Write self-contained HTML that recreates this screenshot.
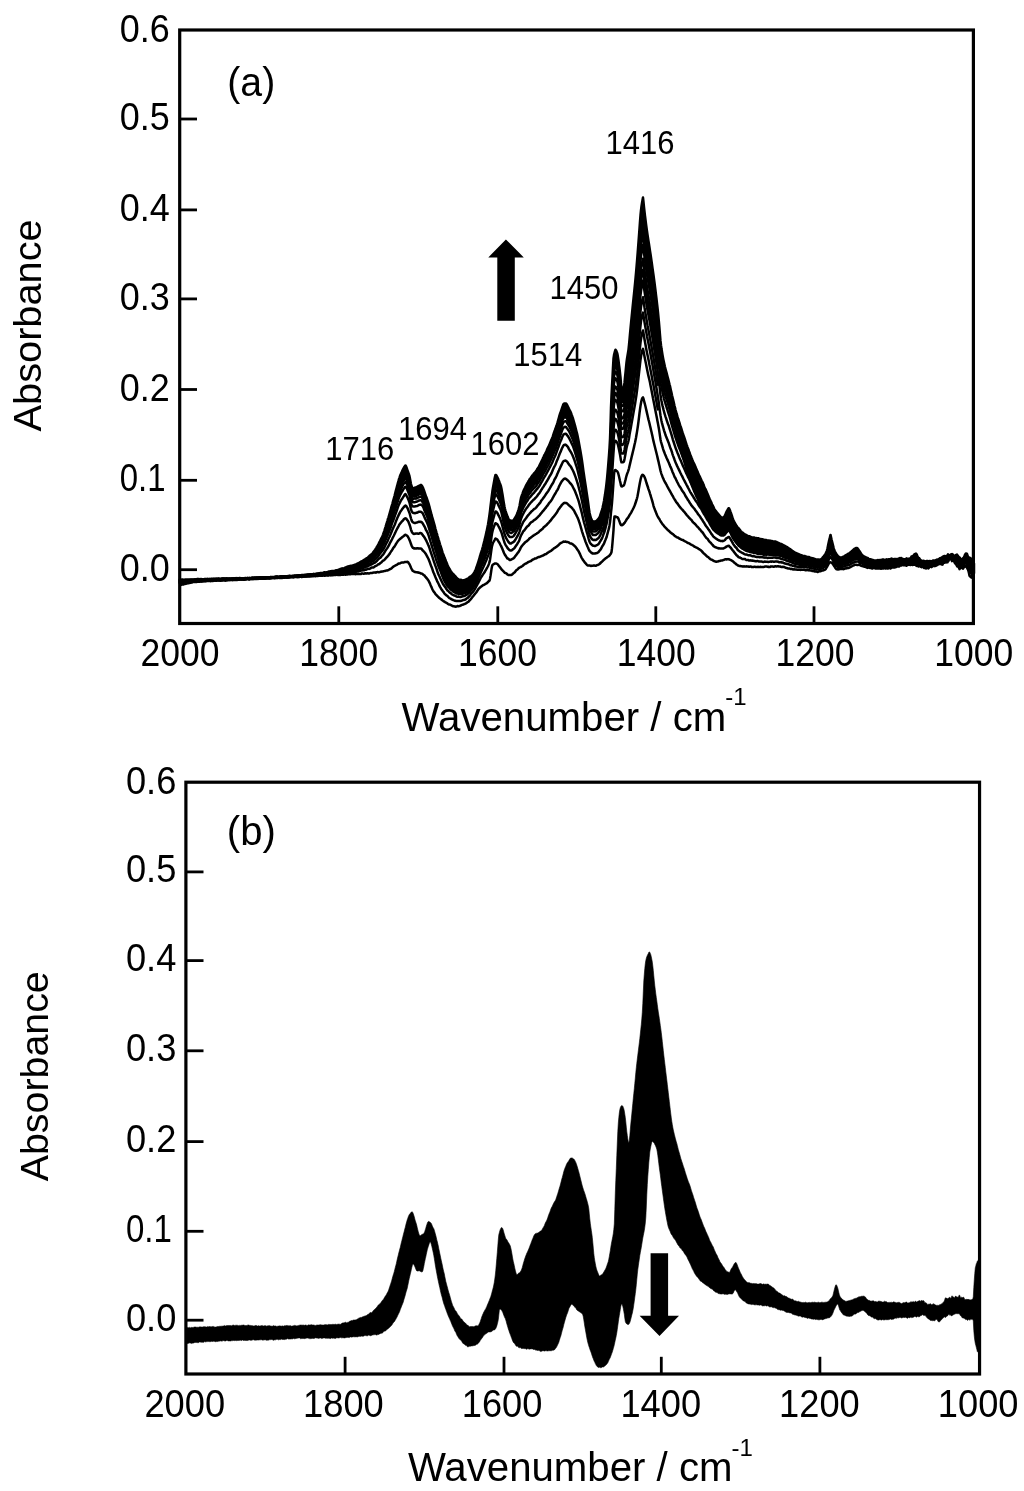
<!DOCTYPE html>
<html><head><meta charset="utf-8"><title>Absorbance spectra</title>
<style>
html,body{margin:0;padding:0;background:#fff;}
svg{display:block;}
text{font-family:"Liberation Sans",Arial,Helvetica,sans-serif;fill:#000;}
</style></head><body>
<svg width="1024" height="1491" viewBox="0 0 1024 1491">
<rect x="0" y="0" width="1024" height="1491" fill="#fff"/>

<g id="panel-a">
<g fill="none" stroke="#000" stroke-width="2.5" stroke-linejoin="round">
<path d="M179.5,579.8l0.5 0 0.5-0.2 0.5 0.2 0.5-0.1 0.5-0.2 0.5 0 0.5 0 0.5 0.4 0.5 0 0.5 0.1 0.5-0.4 0.5-0.1 0.5 0 0.5-0.1 0.5 0.1 0.5 0.1 0.5 0.1 0.5-0.1 0.5 0 0.5 0 0.5 0.1 0.5-0.1 0.5-0.1 0.5 0 0.5 0.1 0.5 0 0.5-0.1 0.5-0.1 0.5 0 0.5 0 0.5-0.1 0.5 0.1 0.5 0.1 0.5-0.1 0.5-0.3 0.5 0.1 0.5-0.2 0.5 0.1 0.5 0 0.5 0.1 0.5 0.1 0.5-0.2 0.5 0 0.5 0 0.5 0.2 0.5 0 0.5 0 0.5 0 0.5-0.1 0.5-0.1 0.5 0 0.5 0 0.5 0.1 0.5-0.2 0.5 0 0.5-0.2 0.5 0.1 0.5 0 0.5 0.1 0.5-0.1 0.5-0.1 0.5 0.2 0.5-0.2 0.5 0 0.5-0.1 0.5 0.3 0.5-0.1 0.5-0.1 0.5-0.1 0.5 0.1 0.5 0.2 0.5-0.2 0.5 0.1 0.5-0.2 0.5 0.2 0.5-0.1 0.5 0.1 0.5-0.3 0.5 0.1 0.5 0.1 0.5 0.2 0.5 0 0.5-0.1 0.5-0.1 0.5-0.2 0.5-0.1 0.5 0.2 0.5-0.1 0.5 0 0.5-0.2 0.5 0.2 0.5 0.1 0.5-0.1 0.5-0.2 0.5-0.1 0.5 0.2 0.5 0.2 0.5 0 0.5-0.1 0.5-0.1 0.5 0 0.5 0.1 0.5-0.1 0.5 0 0.5-0.1 0.5 0.1 0.5 0 0.5 0.2 0.5 0.1 0.5 0.1 0.5-0.4 0.5-0.2 0.5-0.2 0.5 0.2 0.5-0.2 0.5 0.2 0.5 0 0.5 0.1 0.5-0.2 0.5-0.2 0.5 0.1 0.5 0.1 0.5 0.2 0.5 0 0.5 0 0.5-0.2 0.5 0.2 0.5 0 0.5 0 0.5-0.2 0.5-0.1 0.5-0.2 0.5 0.2 0.5 0.1 0.5 0 0.5-0.2 0.5 0 0.5-0.1 0.5 0 0.5-0.1 0.5 0.3 0.5 0 0.5-0.1 0.5-0.3 0.5-0.1 0.5 0.1 0.5 0.1 0.5 0.1 0.5 0 0.5-0.1 0.5 0 0.5-0.2 0.5-0.1 0.5 0 0.5 0.1 0.5 0 0.5-0.1 0.5 0 0.5 0.1 0.5 0 0.5 0 0.5 0 0.5 0 0.5 0.2 0.5-0.3 0.5 0 0.5-0.2 0.5 0.2 0.5-0.1 0.5 0.1 0.5 0.1 0.5-0.1 0.5 0 0.5-0.1 0.5 0 0.5-0.1 0.5-0.1 0.5 0.2 0.5 0 0.5 0.2 0.5-0.2 0.5-0.2 0.5-0.1 0.5 0 0.5 0 0.5 0 0.5-0.1 0.5 0.1 0.5-0.1 0.5 0.1 0.5-0.2 0.5-0.1 0.5-0.2 0.5 0 0.5 0 0.5 0.2 0.5 0 0.5 0.1 0.5 0 0.5 0 0.5-0.1 0.5-0.2 0.5-0.2 0.5 0 0.5-0.1 0.5 0.2 0.5-0.1 0.5 0.2 0.5-0.1 0.5-0.1 0.5-0.1 0.5-0.1 0.5 0 0.5 0 0.5 0 0.5 0 0.5-0.1 0.5-0.1 0.5-0.2 0.5 0.1 0.5-0.2 0.5 0.3 0.5 0.1 0.5-0.1 0.5-0.1 0.5-0.2 0.5 0 0.5 0 0.5 0 0.5-0.1 0.5-0.1 0.5 0 0.5 0.1 0.5-0.1 0.5 0 0.5 0 0.5 0 0.5-0.1 0.5-0.2 0.5 0.1 0.5 0.1 0.5 0 0.5-0.1 0.5-0.2 0.5-0.1 0.5 0.2 0.5 0 0.5 0 0.5-0.2 0.5 0 0.5 0.1 0.5-0.1 0.5 0 0.5-0.2 0.5 0 0.5-0.2 0.5 0.1 0.5-0.1 0.5 0 0.5-0.2 0.5-0.1 0.5-0.1 0.5 0.2 0.5 0 0.5 0 0.5-0.1 0.5-0.1 0.5-0.1 0.5 0 0.5-0.1 0.5-0.1 0.5 0 0.5 0 0.5-0.2 0.5-0.1 0.5 0.1 0.5-0.1 0.5-0.1 0.5-0.2 0.5 0 0.5-0.2 0.5 0 0.5-0.1 0.5 0 0.5 0 0.5-0.1 0.5 0 0.5-0.2 0.5-0.3 0.5-0.1 0.5 0.1 0.5 0 0.5 0.1 0.5-0.2 0.5 0 0.5-0.2 0.5-0.3 0.5-0.2 0.5 0 0.5 0 0.5-0.2 0.5-0.1 0.5 0 0.5-0.1 0.5-0.2 0.5 0 0.5 0 0.5 0.1 0.5-0.1 0.5 0 0.5-0.3 0.5-0.3 0.5-0.1 0.5 0 0.5 0 0.5-0.1 0.5-0.2 0.5-0.1 0.5-0.3 0.5-0.1 0.5-0.3 0.5-0.3 0.5-0.1 0.5-0.2 0.5-0.1 0.5-0.1 0.5-0.1 0.5 0.2 0.5-0.2 0.5-0.2 0.5-0.4 0.5-0.2 0.5-0.2 0.5-0.1 0.5-0.3 0.5-0.3 0.5-0.2 0.5-0.1 0.5 0.2 0.5-0.3 0.5-0.2 0.5-0.1 0.5-0.2 0.5 0 0.5-0.1 0.5-0.1 0.5-0.2 0.5-0.2 0.5-0.1 0.5-0.2 0.5-0.2 0.5-0.2 0.5 0.1 0.5-0.3 0.5-0.3 0.5-0.4 0.5-0.2 0.5-0.2 0.5-0.2 0.5-0.2 0.5-0.3 0.5-0.3 0.5-0.5 0.5-0.3 0.5-0.2 0.5-0.1 0.5-0.3 0.5-0.6 0.5-0.2 0.5-0.2 0.5-0.4 0.5-0.3 0.5-0.4 0.5-0.2 0.5-0.4 0.5-0.3 0.5-0.4 0.5-0.4 0.5-0.6 0.5-0.5 0.5-0.4 0.5-0.4 0.5-0.3 0.5-0.5 0.5-0.4 0.5-0.5 0.5-0.6 0.5-0.9 0.5-0.6 0.5-0.6 0.5-0.6 0.5-0.7 0.5-0.9 0.5-0.8 0.5-1 0.5-0.7 0.5-0.9 0.5-0.9 0.5-1.1 0.5-1.1 0.5-0.8 0.5-0.9 0.5-1.1 0.5-1.1 0.5-1 0.5-1.1 0.5-1.3 0.5-1.4 0.5-1.4 0.5-1.5 0.5-1.7 0.5-1.5 0.5-1.7 0.5-1.4 0.5-1.9 0.5-1.6 0.5-1.8 0.5-1.4 0.5-1.7 0.5-1.8 0.5-1.6 0.5-1.9 0.5-1.8 0.5-1.8 0.5-1.7 0.5-1.7 0.5-1.9 0.5-1.9 0.5-1.7 0.5-1.8 0.5-2 0.5-2 0.5-1.9 0.5-1.9 0.5-1.9 0.5-1.8 0.5-1.9 0.5-1.7 0.5-1.9 0.5-1.4 0.5-1.6 0.5-1.2 0.5-1.1 0.5-1.1 0.5-1.1 0.5-1.2 0.5-1 0.5-0.9 0.5-0.9 0.5-0.8 0.5-0.7 0.5-0.5 0.5 0.7 0.5 1.2 0.5 1.4 0.5 1.5 0.5 1.4 0.5 1.4 0.5 1.4 0.5 1.7 0.5 2.5 0.5 2.7 0.5 2.6 0.5 2 0.5 1.2 0.5 0.8 0.5 0.4 0.5 0.1 0.5-0.2 0.5-0.5 0.5-0.1 0.5-0.2 0.5-0.1 0.5-0.2 0.5-0.4 0.5-0.2 0.5-0.3 0.5-0.3 0.5-0.2 0.5-0.2 0.5-0.2 0.5-0.4 0.5-0.1 0.5 0.3 0.5 0.7 0.5 0.9 0.5 1 0.5 1.3 0.5 1.4 0.5 1.4 0.5 1.5 0.5 1.4 0.5 1.4 0.5 1.2 0.5 1.4 0.5 1.5 0.5 1.5 0.5 1.6 0.5 1.7 0.5 2.1 0.5 1.8 0.5 1.9 0.5 1.8 0.5 2 0.5 1.8 0.5 1.7 0.5 1.7 0.5 1.7 0.5 1.8 0.5 1.8 0.5 1.9 0.5 2 0.5 1.7 0.5 1.8 0.5 1.6 0.5 1.8 0.5 1.6 0.5 1.7 0.5 1.5 0.5 1.8 0.5 1.7 0.5 1.5 0.5 1.5 0.5 1.6 0.5 1.7 0.5 1.7 0.5 1.4 0.5 1.4 0.5 1.2 0.5 1.3 0.5 1.2 0.5 1.3 0.5 1.2 0.5 1.1 0.5 1.3 0.5 1.3 0.5 1.1 0.5 1 0.5 0.9 0.5 1.1 0.5 0.7 0.5 0.9 0.5 0.7 0.5 0.9 0.5 0.4 0.5 0.6 0.5 0.5 0.5 0.7 0.5 0.5 0.5 0.6 0.5 0.4 0.5 0.5 0.5 0.6 0.5 0.6 0.5 0.6 0.5 0.4 0.5 0.2 0.5 0.4 0.5 0.3 0.5 0.4 0.5 0 0.5-0.2 0.5-0.1 0.5 0.4 0.5 0.2 0.5 0.1 0.5-0.1 0.5-0.1 0.5-0.1 0.5-0.1 0.5-0.1 0.5-0.1 0.5-0.4 0.5-0.2 0.5-0.3 0.5-0.1 0.5-0.1 0.5-0.4 0.5-0.6 0.5-0.6 0.5-0.3 0.5-0.1 0.5-0.2 0.5-0.5 0.5-0.6 0.5-0.4 0.5-0.6 0.5-0.6 0.5-0.9 0.5-0.8 0.5-1.1 0.5-1.1 0.5-1.2 0.5-1.5 0.5-1.4 0.5-1.5 0.5-1.5 0.5-1.5 0.5-1.6 0.5-1.7 0.5-1.8 0.5-1.7 0.5-1.5 0.5-1.7 0.5-1.5 0.5-1.8 0.5-1.7 0.5-2.1 0.5-1.9 0.5-1.9 0.5-2.1 0.5-2.1 0.5-2.2 0.5-2.1 0.5-2.5 0.5-2.5 0.5-2.5 0.5-2.9 0.5-3.2 0.5-3.7 0.5-3.8 0.5-4.3 0.5-4.2 0.5-4.2 0.5-3.8 0.5-3.8 0.5-3 0.5-2.8 0.5-2.8 0.5-2.8 0.5-2.3 0.5-1.9 0.5 0.1 0.5 0.6 0.5 0.9 0.5 1 0.5 1 0.5 1.3 0.5 1.1 0.5 1.5 0.5 1.2 0.5 1.4 0.5 1.5 0.5 2.3 0.5 2.8 0.5 2.9 0.5 3.3 0.5 3.1 0.5 3 0.5 2.8 0.5 2.4 0.5 1.7 0.5 1.5 0.5 1.5 0.5 1.4 0.5 1.4 0.5 1.2 0.5 1.2 0.5 0.6 0.5 0.5 0.5 0.2 0.5 0.3 0.5 0 0.5 0.1 0.5 0 0.5 0.1 0.5-0.2 0.5-0.5 0.5-0.7 0.5-0.8 0.5-0.7 0.5-0.9 0.5-0.9 0.5-1 0.5-1.1 0.5-1.2 0.5-1.5 0.5-1.4 0.5-1.7 0.5-2.2 0.5-2.7 0.5-2.9 0.5-2.5 0.5-1.6 0.5-1.4 0.5-1.3 0.5-1.4 0.5-1.4 0.5-1.1 0.5-1 0.5-0.9 0.5-1.1 0.5-1.1 0.5-0.9 0.5-0.9 0.5-0.8 0.5-0.9 0.5-1 0.5-0.8 0.5-0.9 0.5-0.6 0.5-0.6 0.5-0.6 0.5-0.9 0.5-0.7 0.5-0.7 0.5-0.4 0.5-0.6 0.5-0.8 0.5-0.6 0.5-0.4 0.5-0.5 0.5-0.9 0.5-0.6 0.5-1 0.5-0.7 0.5-0.8 0.5-0.6 0.5-0.9 0.5-1.2 0.5-0.9 0.5-1.1 0.5-0.9 0.5-1.1 0.5-1.1 0.5-1 0.5-1.2 0.5-1 0.5-1.1 0.5-1 0.5-0.9 0.5-1 0.5-1 0.5-1.1 0.5-1.2 0.5-1.1 0.5-0.9 0.5-1.1 0.5-1 0.5-1.2 0.5-1.2 0.5-1.2 0.5-1.2 0.5-1.2 0.5-1.2 0.5-1.3 0.5-1.4 0.5-1.6 0.5-1.3 0.5-1.6 0.5-1.3 0.5-1.5 0.5-1.3 0.5-1.3 0.5-1.5 0.5-1.6 0.5-1.8 0.5-1.8 0.5-1.8 0.5-1.9 0.5-1.6 0.5-1.3 0.5-1.2 0.5-1.6 0.5-1.5 0.5-1.5 0.5-1.4 0.5-1.2 0.5-0.5 0.5-0.2 0.5 0.1 0.5-0.1 0.5 0.1 0.5 0.4 0.5 0.9 0.5 0.9 0.5 1 0.5 1 0.5 1.1 0.5 1 0.5 0.9 0.5 1 0.5 1.3 0.5 1.5 0.5 1.3 0.5 1.3 0.5 1.4 0.5 1.8 0.5 1.7 0.5 1.8 0.5 1.8 0.5 2 0.5 2 0.5 1.9 0.5 1.9 0.5 2.2 0.5 2.3 0.5 2.7 0.5 2.6 0.5 2.8 0.5 2.7 0.5 2.7 0.5 3 0.5 3 0.5 3.4 0.5 3.5 0.5 3.7 0.5 3.6 0.5 3.4 0.5 3.4 0.5 3.2 0.5 3.4 0.5 3.2 0.5 3.4 0.5 3.3 0.5 3.4 0.5 3.3 0.5 3.9 0.5 3.6 0.5 3.3 0.5 2.5 0.5 1.6 0.5 1.7 0.5 1.2 0.5 1 0.5 0.7 0.5 0.4 0.5 0.3 0.5-0.1 0.5-0.2 0.5 0 0.5-0.3 0.5 0 0.5-0.3 0.5-0.4 0.5-0.7 0.5-0.6 0.5-0.6 0.5-0.7 0.5-0.9 0.5-1.1 0.5-1.4 0.5-1.5 0.5-1.5 0.5-1.6 0.5-1.9 0.5-2.1 0.5-2.5 0.5-2.5 0.5-3.1 0.5-3 0.5-3.6 0.5-3.6 0.5-4.2 0.5-4.6 0.5-5.4 0.5-5.9 0.5-6.1 0.5-6.2 0.5-7.2 0.5-9 0.5-13.6 0.5-18.1 0.5-11.5 0.5-9.7 0.5-9.1 0.5-10 0.5-8.5 0.5-3.4 0.5-2.1 0.5-1.9 0.5-1.4 0.5 0.7 0.5 1 0.5 1.3 0.5 1.7 0.5 3 0.5 3.4 0.5 3.9 0.5 3.8 0.5 4.3 0.5 4.6 0.5 6.7 0.5 3.4 0.5 0.4 0.5 0 0.5-0.2 0.5-0.1 0.5-1.1 0.5-3.8 0.5-5.3 0.5-4.7 0.5-5.3 0.5-5 0.5-3.8 0.5-2.8 0.5-3 0.5-3.2 0.5-4.6 0.5-5.5 0.5-5.7 0.5-5.1 0.5-5.3 0.5-5 0.5-5.1 0.5-4.9 0.5-4.9 0.5-5 0.5-4.7 0.5-4.9 0.5-5 0.5-5.3 0.5-5.4 0.5-5.8 0.5-6.1 0.5-6.3 0.5-6.3 0.5-6.6 0.5-6.7 0.5-6.7 0.5-7 0.5-6.4 0.5-5.1 0.5-4.1 0.5-3.1 0.5-2.8 0.5-2.6 0.5 4.5 0.5 5.1 0.5 4.5 0.5 4.2 0.5 4 0.5 3.9 0.5 3.8 0.5 3.5 0.5 3.5 0.5 3.4 0.5 3.1 0.5 3.2 0.5 3.1 0.5 3.5 0.5 3.1 0.5 3.5 0.5 3.4 0.5 3.6 0.5 3.6 0.5 3.6 0.5 3.5 0.5 3.7 0.5 3.8 0.5 4 0.5 4 0.5 4.1 0.5 4.2 0.5 4.3 0.5 4.4 0.5 4.8 0.5 5 0.5 5.3 0.5 6 0.5 6.4 0.5 5.7 0.5 4.3 0.5 3.6 0.5 3 0.5 3.1 0.5 2.8 0.5 2.5 0.5 2.4 0.5 2.2 0.5 2.3 0.5 1.9 0.5 1.9 0.5 1.8 0.5 1.9 0.5 1.9 0.5 1.8 0.5 2 0.5 1.9 0.5 2.1 0.5 1.8 0.5 2.3 0.5 2.3 0.5 2.2 0.5 2.3 0.5 2 0.5 2.1 0.5 2 0.5 2.3 0.5 2.1 0.5 1.9 0.5 2.2 0.5 1.7 0.5 2 0.5 1.5 0.5 1.9 0.5 1.6 0.5 1.3 0.5 1.5 0.5 1.6 0.5 1.8 0.5 1.5 0.5 1.3 0.5 1.7 0.5 1.6 0.5 1.6 0.5 1.4 0.5 1.5 0.5 1.4 0.5 1.5 0.5 1.5 0.5 1.6 0.5 1.6 0.5 1.5 0.5 1.3 0.5 1.4 0.5 1.3 0.5 1.3 0.5 1.5 0.5 1.3 0.5 1.5 0.5 1.3 0.5 1.2 0.5 1.3 0.5 1.2 0.5 1.3 0.5 1.2 0.5 1 0.5 1 0.5 1.1 0.5 1.1 0.5 1.4 0.5 1.1 0.5 1.1 0.5 1.1 0.5 1.2 0.5 1.2 0.5 1.1 0.5 1.1 0.5 1 0.5 1.1 0.5 1.1 0.5 1.1 0.5 1.2 0.5 0.9 0.5 1 0.5 1 0.5 1.1 0.5 1.4 0.5 1.3 0.5 1.1 0.5 0.8 0.5 1.1 0.5 1.2 0.5 1.2 0.5 1.1 0.5 1.2 0.5 1.4 0.5 1.1 0.5 1.2 0.5 1.1 0.5 1.1 0.5 1.1 0.5 1 0.5 1.3 0.5 1 0.5 0.9 0.5 1 0.5 1.1 0.5 1.1 0.5 0.8 0.5 0.6 0.5 0.5 0.5 0.6 0.5 0.8 0.5 0.5 0.5 0.6 0.5 0.6 0.5 0.6 0.5 0.6 0.5 0.6 0.5 0.6 0.5 0.5 0.5 0.2 0.5 0.3 0.5 0 0.5-0.1 0.5-0.1 0.5-0.5 0.5-0.6 0.5-1 0.5-1.2 0.5-1.1 0.5-1.3 0.5-0.9 0.5-0.9 0.5-0.9 0.5-0.8 0.5-0.1 0.5 1 0.5 1.3 0.5 1.4 0.5 1.3 0.5 1.4 0.5 1.6 0.5 1.6 0.5 1.5 0.5 1.1 0.5 1.1 0.5 0.8 0.5 0.9 0.5 1 0.5 0.8 0.5 0.8 0.5 0.7 0.5 0.8 0.5 0.5 0.5 0.4 0.5 0.5 0.5 0.6 0.5 0.8 0.5 0.7 0.5 0.5 0.5 0.6 0.5 0.3 0.5 0.3 0.5 0.4 0.5 0.5 0.5 0.6 0.5 0.2 0.5 0.2 0.5 0.2 0.5 0.4 0.5 0.2 0.5 0.3 0.5 0.2 0.5 0.3 0.5 0.3 0.5 0.1 0.5-0.1 0.5 0.1 0.5 0.4 0.5 0.4 0.5 0.1 0.5 0.1 0.5 0 0.5 0 0.5 0 0.5 0.1 0.5 0.2 0.5 0.3 0.5 0 0.5 0.1 0.5 0 0.5 0.2 0.5 0 0.5-0.1 0.5 0.1 0.5 0.3 0.5 0.3 0.5 0.2 0.5-0.1 0.5 0.1 0.5 0.1 0.5 0.1 0.5 0 0.5 0.1 0.5 0.3 0.5 0.1 0.5 0.1 0.5 0.2 0.5 0 0.5 0 0.5 0 0.5 0.2 0.5 0.2 0.5 0 0.5 0 0.5 0.1 0.5 0.1 0.5 0.2 0.5-0.1 0.5 0.1 0.5 0 0.5 0.1 0.5 0.3 0.5 0.1 0.5 0.1 0.5 0 0.5 0.1 0.5 0 0.5 0 0.5 0.1 0.5 0.3 0.5 0.2 0.5 0.3 0.5 0.2 0.5 0.3 0.5 0.2 0.5 0.2 0.5 0.2 0.5 0.2 0.5 0.2 0.5 0.1 0.5 0.3 0.5 0.3 0.5 0.3 0.5 0.2 0.5 0.3 0.5 0.2 0.5 0.3 0.5 0.2 0.5 0.4 0.5 0.1 0.5 0.3 0.5 0.4 0.5 0.5 0.5 0.3 0.5 0.3 0.5 0.2 0.5 0.3 0.5 0.3 0.5 0.5 0.5 0.5 0.5 0.3 0.5 0.5 0.5 0.1 0.5 0.4 0.5 0.2 0.5 0.6 0.5 0.3 0.5 0.1 0.5 0.2 0.5 0.3 0.5 0.3 0.5 0 0.5 0.2 0.5 0.3 0.5 0.3 0.5 0.1 0.5 0.4 0.5 0.1 0.5 0.2 0.5 0 0.5 0.2 0.5 0.4 0.5 0.2 0.5 0.1 0.5-0.1 0.5 0 0.5 0.1 0.5 0.2 0.5 0.2 0.5 0.3 0.5 0 0.5 0.2 0.5 0.1 0.5 0 0.5 0 0.5 0.1 0.5 0.4 0.5 0.2 0.5 0.1 0.5 0.1 0.5 0.2 0.5 0 0.5 0.1 0.5 0.2 0.5 0.2 0.5 0.3 0.5 0.1 0.5 0.3 0.5 0.1 0.5 0 0.5-0.1 0.5 0.1 0.5 0.1 0.5 0 0.5 0.1 0.5 0 0.5-0.1 0.5-0.1 0.5-0.1 0.5-0.6 0.5-0.5 0.5-0.6 0.5-0.5 0.5-0.6 0.5-0.7 0.5-0.6 0.5-0.7 0.5-0.8 0.5-0.9 0.5-1.1 0.5-1.5 0.5-2 0.5-2.5 0.5-2.6 0.5-2.3 0.5-1.7 0.5-2.2 0.5-2.1 0.5 2.2 0.5 2.2 0.5 1.9 0.5 2 0.5 2 0.5 2.1 0.5 1.8 0.5 1.4 0.5 1.1 0.5 0.9 0.5 1 0.5 0.7 0.5 0.7 0.5 0.7 0.5 0.7 0.5 0.3 0.5 0.3 0.5 0.3 0.5 0.2 0.5 0.1 0.5 0.1 0.5-0.1 0.5-0.1 0.5-0.4 0.5-0.3 0.5 0 0.5-0.2 0.5-0.3 0.5-0.5 0.5-0.3 0.5-0.2 0.5-0.3 0.5-0.3 0.5-0.4 0.5-0.2 0.5-0.4 0.5-0.2 0.5-0.3 0.5-0.4 0.5-0.4 0.5-0.5 0.5-0.4 0.5-0.5 0.5-0.2 0.5-0.5 0.5-0.5 0.5-0.5 0.5-0.4 0.5-0.3 0.5-0.3 0.5-0.1 0.5-0.2 0.5 0.1 0.5 0.3 0.5 0.7 0.5 0.6 0.5 0.9 0.5 0.6 0.5 0.8 0.5 0.8 0.5 0.9 0.5 0.6 0.5 0.7 0.5 0.4 0.5 0.5 0.5 0.4 0.5 0.2 0.5 0.3 0.5 0.2 0.5 0.3 0.5 0.2 0.5 0.3 0.5 0.1 0.5 0.2 0.5 0.2 0.5 0.5 0.5 0.3 0.5 0.3 0.5 0 0.5 0 0.5 0.1 0.5 0 0.5 0.4 0.5 0.1 0.5 0.2 0.5 0.1 0.5 0.3 0.5 0.1 0.5 0.1 0.5-0.1 0.5 0 0.5-0.1 0.5 0 0.5-0.4 0.5 0.2 0.5-0.2 0.5 0.2 0.5-0.2 0.5 0.1 0.5-0.1 0.5-0.1 0.5-0.2 0.5 0 0.5-0.3 0.5-0.1 0.5 0.1 0.5 0.3 0.5 0.1 0.5 0 0.5-0.1 0.5-0.2 0.5-0.3 0.5 0.2 0.5 0.1 0.5 0 0.5-0.4 0.5 0 0.5 0 0.5 0 0.5-0.1 0.5-0.3 0.5-0.2 0.5 0.1 0.5 0.3 0.5 0.4 0.5-0.1 0.5-0.3 0.5-0.1 0.5 0.1 0.5-0.1 0.5 0 0.5 0 0.5 0.7 0.5-0.4 0.5-0.4 0.5-0.2 0.5-0.2 0.5 0.1 0.5-0.4 0.5 0.2 0.5-0.3 0.5 0.2 0.5 0.5 0.5 0.5 0.5 0.2 0.5-0.3 0.5 0.2 0.5 0 0.5 0.4 0.5-0.8 0.5 0 0.5-0.5 0.5 0.4 0.5 0 0.5 0 0.5-0.1 0.5 0.1 0.5 0.3 0.5-0.2 0.5-0.8 0.5-0.7 0.5-0.9 0.5-0.2 0.5 0 0.5-0.1 0.5-0.5 0.5-1 0.5-0.4 0.5-0.3 0.5-0.1 0.5-0.3 0.5 0.5 0.5 0.9 0.5 1.6 0.5 0.7 0.5 0.6 0.5 0 0.5 1 0.5 0.5 0.5 0.8 0.5 0 0.5 0.9 0.5 0.1 0.5-0.2 0.5-0.2 0.5-0.1 0.5 0.5 0.5-0.1 0.5 0.6 0.5-0.2 0.5 0.2 0.5-0.8 0.5 0.1 0.5-0.1 0.5 0.3 0.5 0.3 0.5-0.2 0.5-0.3 0.5 0.1 0.5 0.1 0.5 0.1 0.5 0 0.5 0.4 0.5-0.7 0.5-0.5 0.5 0 0.5 1.1 0.5-0.2 0.5 0.1 0.5-0.8 0.5-0.1 0.5-0.9 0.5 0 0.5 0.1 0.5 0 0.5-0.3 0.5-0.1 0.5-0.9 0.5-0.3 0.5-0.1 0.5 0.1 0.5 0.3 0.5-1 0.5-0.4 0.5-0.7 0.5 0 0.5-0.2 0.5-0.2 0.5 0 0.5 0.5 0.5-0.1 0.5-0.2 0.5-0.2 0.5-0.6 0.5-1 0.5 0.3 0.5 0.9 0.5 0.7 0.5-0.5 0.5-0.9 0.5-0.6 0.5 0 0.5-0.3 0.5 1 0.5-0.4 0.5 0.7 0.5 0.4 0.5 1.1 0.5-0.2 0.5-0.4 0.5-1.2 0.5-0.1 0.5-0.4 0.5 1.1 0.5 0.3 0.5 0.9 0.5 0.3 0.5 0.5 0.5 0.3 0.5 0.9 0.5 0.7 0.5 0.3 0.5-0.4 0.5-0.7 0.5-0.3 0.5-0.7 0.5-0.2 0.5-1.3 0.5-1.5 0.5-0.7 0.5-0.6 0.5 0.2 0.5 0.3 0.5 1.4 0.5 1.7 0.5 0.7 0.5 0.5 0.5-0.7 0.5 0.8 0.5-0.2 0.5 0.5 0.5 1.1 0.5 1.4 0.5 1.6 0.5 0.7 0.5-0.2 0.5 0.3 0 9.7-0.5 0.1-0.5 0.4-0.5-1.2-0.5-1.3-0.5-1.1-0.5-1-0.5 0.2-0.5-1.3-0.5-0.5-0.5-1.9-0.5-0.6-0.5-1.9-0.5-1.3-0.5-1.8-0.5-0.7-0.5 0.3-0.5 1-0.5 0.5-0.5-0.3-0.5 0.1-0.5 1.2-0.5 1.5-0.5 0.6-0.5 0-0.5-0.6-0.5 0.1-0.5-0.1-0.5 0-0.5-0.6-0.5-0.6-0.5-1.2-0.5 0.1-0.5-0.5-0.5 0.5-0.5-0.7-0.5-0.9-0.5-0.5-0.5-0.1-0.5 0-0.5 0.1-0.5-0.4-0.5 0.4-0.5-1-0.5-0.4-0.5-0.1-0.5 0.2-0.5-0.1-0.5-0.8-0.5 0.2-0.5 0-0.5 0.6-0.5 0.1-0.5 0.8-0.5 0.3-0.5 0.1-0.5 0.1-0.5-0.2-0.5 1-0.5-1-0.5 0.3-0.5 0.3-0.5 1.1-0.5-0.2-0.5 0.6-0.5 0.7-0.5-0.1-0.5-0.9-0.5 0.1-0.5 0.8-0.5 1.7-0.5 0-0.5 0.3-0.5-1.2-0.5-0.1-0.5 0-0.5-0.2-0.5 0.6-0.5 0-0.5 0.6-0.5 0.2-0.5 0.9-0.5 0.1-0.5-0.4-0.5-0.6-0.5 0.6-0.5 0.5-0.5 0.1-0.5-0.7-0.5 0.1-0.5 0.4-0.5 0.7-0.5 0-0.5-0.2-0.5-0.8-0.5-0.8-0.5-0.6-0.5 0.1-0.5 0.6-0.5-0.1-0.5 1-0.5 0.3-0.5 1-0.5-0.5-0.5-0.9-0.5-0.6-0.5-0.8-0.5 0.1-0.5-0.4-0.5 0.1-0.5-0.1-0.5-0.4-0.5-0.3-0.5-0.1-0.5-0.5-0.5-0.7-0.5-0.6-0.5-0.2-0.5 0.6-0.5 0.2-0.5 0.1-0.5-0.7-0.5 0.6-0.5 0-0.5 0.1-0.5 0-0.5 0.5-0.5 0.6-0.5 0.3-0.5 0-0.5 0.5-0.5-0.4-0.5 0.5-0.5-0.6-0.5 0.2-0.5-0.4-0.5 0.2-0.5-0.6-0.5-0.2-0.5 0.1-0.5 0.3-0.5 0.4-0.5-0.2-0.5 0.6-0.5 0.1-0.5 0-0.5-0.3-0.5 0-0.5 0.6-0.5-0.5-0.5-0.2-0.5-0.3-0.5 0.3-0.5-0.1-0.5 0-0.5 0.5-0.5 0.3-0.5 0.1-0.5-0.1-0.5 0.2-0.5 0-0.5 0.1-0.5 0.3-0.5 0.6-0.5-0.2-0.5-0.3-0.5-0.1-0.5 0.2-0.5-0.3-0.5-0.1-0.5 0-0.5 0.5-0.5 0-0.5 0.2-0.5 0.2-0.5 0.2-0.5 0.2-0.5-0.1-0.5-0.3-0.5 0-0.5 0.6-0.5 0.2-0.5-0.1-0.5-0.3-0.5 0.1-0.5-0.3-0.5 0-0.5 0-0.5 0.2-0.5-0.2-0.5 0-0.5 0.4-0.5 0.4-0.5 0.1-0.5-0.2-0.5-0.2-0.5 0-0.5 0.2-0.5-0.2-0.5 0.1-0.5-0.3-0.5-0.3-0.5-0.3-0.5-0.1-0.5 0-0.5 0.1-0.5 0-0.5-0.3-0.5-0.2-0.5 0-0.5 0.1-0.5-0.2-0.5-0.3-0.5 0-0.5-0.2-0.5-0.2-0.5-0.3-0.5-0.2-0.5 0-0.5-0.1-0.5-0.1-0.5-0.5-0.5-0.3-0.5-0.3-0.5-0.2-0.5-0.7-0.5-0.5-0.5-0.4-0.5-0.1-0.5-0.2-0.5-0.3-0.5-0.7-0.5-0.6-0.5-0.4-0.5 0.1-0.5-0.1-0.5 0-0.5 0.1-0.5 0.4-0.5 0.4-0.5 0.2-0.5 0.3-0.5 0.2-0.5 0.4-0.5 0.1-0.5 0.4-0.5 0.4-0.5 0.4-0.5 0.2-0.5 0.3-0.5 0.4-0.5 0.3-0.5 0.1-0.5-0.1-0.5 0.1-0.5 0.4-0.5 0.3-0.5 0.3-0.5 0.2-0.5 0.2-0.5 0.1-0.5 0.1-0.5 0.4-0.5 0.1-0.5 0.1-0.5-0.1-0.5 0-0.5 0-0.5 0-0.5-0.2-0.5 0-0.5 0.1-0.5-0.4-0.5-0.3-0.5-0.4-0.5-0.4-0.5-0.7-0.5-0.6-0.5-0.6-0.5-0.7-0.5-1.2-0.5-1.4-0.5-1.5-0.5-1.3-0.5-1.2-0.5-1-0.5-1.1-0.5-1.3-0.5 0.9-0.5 1.2-0.5 1.3-0.5 1.8-0.5 1.5-0.5 1.7-0.5 1.4-0.5 1.3-0.5 1-0.5 0.8-0.5 0.6-0.5 0.2-0.5 0.4-0.5 0.3-0.5 0.3-0.5 0.3-0.5 0.4-0.5 0.5-0.5 0.1-0.5 0.2-0.5-0.1-0.5 0.2-0.5 0.2-0.5 0-0.5 0.1-0.5-0.1-0.5 0.1-0.5 0.1-0.5 0-0.5-0.1-0.5 0.1-0.5-0.2-0.5-0.1-0.5-0.3-0.5-0.1-0.5-0.1-0.5-0.5-0.5-0.3-0.5-0.1-0.5 0.1-0.5 0-0.5-0.2-0.5-0.3-0.5-0.2-0.5-0.1-0.5 0-0.5 0.1-0.5 0-0.5-0.1-0.5-0.3-0.5-0.2-0.5 0-0.5-0.1-0.5 0-0.5 0-0.5 0.1-0.5-0.1-0.5-0.1-0.5-0.1-0.5 0-0.5-0.1-0.5-0.1-0.5-0.2-0.5-0.1-0.5 0-0.5-0.1-0.5 0-0.5-0.3-0.5-0.1-0.5-0.2-0.5-0.2-0.5-0.2-0.5-0.2-0.5-0.2-0.5-0.1-0.5-0.1-0.5-0.2-0.5-0.3-0.5-0.2-0.5-0.3-0.5 0-0.5-0.4-0.5-0.1-0.5-0.6-0.5-0.1-0.5 0-0.5 0-0.5-0.2-0.5-0.2-0.5-0.3-0.5-0.4-0.5-0.5-0.5 0.1-0.5-0.2-0.5-0.1-0.5-0.5-0.5-0.1-0.5-0.2-0.5 0.1-0.5-0.3-0.5 0.1-0.5-0.2-0.5-0.2-0.5-0.1-0.5-0.2-0.5 0.2-0.5 0-0.5 0-0.5 0-0.5-0.2-0.5-0.1-0.5-0.2-0.5 0-0.5 0-0.5 0.1-0.5 0-0.5-0.1-0.5-0.1-0.5-0.1-0.5-0.1-0.5 0.2-0.5-0.1-0.5 0.1-0.5-0.3-0.5-0.1-0.5 0.1-0.5 0.2-0.5 0.1-0.5 0-0.5-0.2-0.5-0.1-0.5 0.2-0.5 0.1-0.5 0-0.5-0.5-0.5 0-0.5-0.3-0.5 0-0.5-0.2-0.5 0.2-0.5 0.1-0.5-0.1-0.5-0.2-0.5-0.1-0.5 0-0.5 0.1-0.5-0.2-0.5-0.3-0.5-0.2-0.5-0.1-0.5 0-0.5-0.1-0.5 0-0.5-0.3-0.5 0-0.5-0.3-0.5 0.1-0.5-0.2-0.5 0-0.5-0.1-0.5-0.1-0.5-0.2-0.5-0.2-0.5-0.3-0.5 0-0.5-0.1-0.5-0.1-0.5-0.3-0.5-0.1-0.5-0.3-0.5-0.2-0.5-0.4-0.5-0.4-0.5-0.3-0.5-0.4-0.5-0.2-0.5-0.4-0.5-0.2-0.5-0.5-0.5-0.3-0.5-0.7-0.5-0.2-0.5-0.5-0.5-0.4-0.5-0.7-0.5-0.5-0.5-0.8-0.5-0.6-0.5-0.8-0.5-0.7-0.5-0.7-0.5-1-0.5-0.8-0.5-0.6-0.5-0.7-0.5-1-0.5-1.1-0.5-1.2-0.5-1.1-0.5-1.1-0.5-0.8-0.5-1.1-0.5-0.9-0.5-0.1-0.5 0.5-0.5 0.6-0.5 0.3-0.5 0.5-0.5 0.5-0.5 0.6-0.5 0.7-0.5 0.7-0.5 0.4-0.5 0.2-0.5 0-0.5-0.1-0.5 0.2-0.5 0-0.5 0-0.5-0.4-0.5-0.4-0.5-0.4-0.5-0.4-0.5-0.2-0.5-0.3-0.5-0.4-0.5-0.4-0.5-0.4-0.5-0.4-0.5-0.5-0.5-0.4-0.5-0.5-0.5-0.5-0.5-0.7-0.5-0.7-0.5-0.8-0.5-0.7-0.5-1-0.5-0.9-0.5-0.8-0.5-0.9-0.5-0.9-0.5-1-0.5-0.8-0.5-0.9-0.5-0.8-0.5-0.8-0.5-0.7-0.5-1-0.5-1-0.5-1.1-0.5-0.7-0.5-0.9-0.5-0.6-0.5-1.1-0.5-0.8-0.5-1.1-0.5-0.8-0.5-1.1-0.5-1-0.5-1-0.5-1-0.5-1.1-0.5-1.1-0.5-1.2-0.5-1-0.5-1-0.5-0.9-0.5-1.2-0.5-1.1-0.5-1.2-0.5-1.1-0.5-1.3-0.5-1.1-0.5-1.3-0.5-1.3-0.5-1.3-0.5-1.3-0.5-1.4-0.5-1.5-0.5-1.4-0.5-1.4-0.5-1.4-0.5-1.5-0.5-1.6-0.5-1.7-0.5-1.5-0.5-1.8-0.5-1.6-0.5-1.8-0.5-1.8-0.5-1.6-0.5-1.8-0.5-1.6-0.5-1.9-0.5-1.8-0.5-1.8-0.5-1.9-0.5-2-0.5-1.6-0.5-1.7-0.5-1.6-0.5-2.1-0.5-2.2-0.5-1.9-0.5-1.8-0.5-2-0.5-2.2-0.5-2.2-0.5-2.1-0.5-2.3-0.5-2.2-0.5-2.3-0.5-2.3-0.5-2.5-0.5-2.5-0.5-2.2-0.5-2.3-0.5-2.3-0.5-2.6-0.5-2.2-0.5-2.2-0.5-2.3-0.5-2.1-0.5-1.9-0.5-1.6-0.5-2.1-0.5-1.9-0.5-2-0.5-1.7-0.5-1.6-0.5-1.9-0.5-2.1-0.5-2.4-0.5-2.4-0.5-2.7-0.5-2.7-0.5-2.8-0.5-3.1-0.5-3.9-0.5-5.3-0.5-5.7-0.5-5.7-0.5-4.9-0.5-4.5-0.5-4.3-0.5-4.1-0.5-4.1-0.5-3.8-0.5-3.9-0.5-3.8-0.5-3.8-0.5-3.5-0.5-3.6-0.5-3.4-0.5-3.3-0.5-3.1-0.5-3.4-0.5-3.4-0.5-3.5-0.5-3.2-0.5-3.1-0.5-2.9-0.5-3.2-0.5-2.9-0.5-3.1-0.5-3.3-0.5-3.3-0.5-3.7-0.5-3.6-0.5-3.7-0.5-3.8-0.5-4-0.5-4.6-0.5-4.4-0.5 2.2-0.5 2.6-0.5 3.4-0.5 4.1-0.5 4.4-0.5 5.7-0.5 6.3-0.5 6.6-0.5 6.1-0.5 6.3-0.5 6.1-0.5 5.9-0.5 5.6-0.5 5.3-0.5 5.2-0.5 4.9-0.5 4.6-0.5 4.7-0.5 4.5-0.5 4.7-0.5 4.5-0.5 4.3-0.5 4.7-0.5 4.6-0.5 4.7-0.5 4.7-0.5 5-0.5 5.1-0.5 4-0.5 3-0.5 2.6-0.5 2.8-0.5 3.6-0.5 4.6-0.5 4.8-0.5 4.6-0.5 4.8-0.5 3.5-0.5 1-0.5 0.3-0.5 0.2-0.5-0.1-0.5-0.4-0.5-3.2-0.5-6.1-0.5-4.3-0.5-4-0.5-3.4-0.5-3.4-0.5-3.4-0.5-2.8-0.5-1.7-0.5-0.8-0.5-0.9-0.5-0.8-0.5 1.1-0.5 1.5-0.5 2.4-0.5 4.1-0.5 8.7-0.5 9.4-0.5 8.5-0.5 9-0.5 10.7-0.5 16.3-0.5 12.3-0.5 8.1-0.5 6.8-0.5 5.7-0.5 5.7-0.5 5.1-0.5 4.9-0.5 4.2-0.5 3.7-0.5 3.3-0.5 3.4-0.5 2.9-0.5 2.5-0.5 2.2-0.5 2-0.5 1.8-0.5 1.6-0.5 1.7-0.5 1.7-0.5 1.5-0.5 1.3-0.5 1.3-0.5 0.9-0.5 0.8-0.5 0.4-0.5 0.5-0.5 0.4-0.5 0.3-0.5 0.4-0.5 0.2-0.5 0.3-0.5 0.1-0.5-0.2-0.5 0-0.5-0.3-0.5-0.2-0.5-0.8-0.5-0.7-0.5-1.2-0.5-1.5-0.5-1.7-0.5-2.3-0.5-2.8-0.5-3.2-0.5-3.2-0.5-3-0.5-3-0.5-3.1-0.5-3.1-0.5-3.1-0.5-2.9-0.5-3.1-0.5-3.1-0.5-3.3-0.5-3.4-0.5-3.4-0.5-3.1-0.5-3-0.5-2.8-0.5-2.9-0.5-2.8-0.5-2.7-0.5-2.3-0.5-2.3-0.5-2.2-0.5-2-0.5-2-0.5-1.8-0.5-2.3-0.5-2-0.5-1.9-0.5-1.7-0.5-1.7-0.5-1.5-0.5-1.3-0.5-1.3-0.5-1.3-0.5-1.4-0.5-1.4-0.5-1.2-0.5-0.8-0.5-0.9-0.5-0.7-0.5-1-0.5-0.8-0.5-0.9-0.5-0.9-0.5-0.8-0.5-0.5-0.5-0.1-0.5 0.2-0.5-0.1-0.5 0.4-0.5 0.3-0.5 1-0.5 1-0.5 1.3-0.5 1.4-0.5 1.4-0.5 1.2-0.5 1.5-0.5 1.6-0.5 1.6-0.5 1.8-0.5 1.6-0.5 1.5-0.5 1.3-0.5 1.4-0.5 1.4-0.5 1.5-0.5 1.4-0.5 1.2-0.5 1.2-0.5 1.2-0.5 1.3-0.5 1.2-0.5 1.1-0.5 1.2-0.5 1.3-0.5 1.2-0.5 1.1-0.5 1.1-0.5 0.9-0.5 1.1-0.5 0.9-0.5 1-0.5 1.1-0.5 1.1-0.5 0.9-0.5 0.9-0.5 1-0.5 1-0.5 1-0.5 1-0.5 1.1-0.5 0.9-0.5 0.8-0.5 0.9-0.5 0.9-0.5 1.2-0.5 0.9-0.5 0.9-0.5 0.7-0.5 0.7-0.5 0.8-0.5 0.8-0.5 0.9-0.5 0.7-0.5 0.6-0.5 0.7-0.5 0.5-0.5 0.6-0.5 0.6-0.5 0.7-0.5 0.4-0.5 0.5-0.5 0.5-0.5 0.6-0.5 0.8-0.5 0.8-0.5 0.8-0.5 0.6-0.5 0.6-0.5 0.8-0.5 0.6-0.5 0.9-0.5 0.7-0.5 1.1-0.5 0.8-0.5 0.8-0.5 1-0.5 1-0.5 1.3-0.5 1-0.5 1.2-0.5 1.1-0.5 1.3-0.5 1.3-0.5 1.5-0.5 2.3-0.5 2.2-0.5 2.5-0.5 2.1-0.5 1.6-0.5 1.2-0.5 1.2-0.5 1-0.5 1.1-0.5 0.9-0.5 1.1-0.5 1-0.5 1-0.5 0.6-0.5 0.6-0.5 0.3-0.5 0.4-0.5 0.2-0.5 0.2-0.5 0-0.5-0.2-0.5-0.3-0.5-0.3-0.5-0.4-0.5-0.8-0.5-1-0.5-1-0.5-1.2-0.5-1.1-0.5-1.5-0.5-1.2-0.5-1.6-0.5-2-0.5-2.6-0.5-3-0.5-3.1-0.5-3.1-0.5-2.8-0.5-2.4-0.5-2-0.5-1.1-0.5-1.5-0.5-1.4-0.5-1.4-0.5-1.2-0.5-1-0.5-1.1-0.5-0.8-0.5-0.9-0.5-0.7-0.5 0.1-0.5 1.8-0.5 2.3-0.5 2.4-0.5 2.3-0.5 2.4-0.5 3-0.5 3.5-0.5 3.5-0.5 4.1-0.5 4.2-0.5 4.3-0.5 3.9-0.5 3.2-0.5 2.7-0.5 2.4-0.5 2.4-0.5 2.3-0.5 2.2-0.5 2.2-0.5 2.2-0.5 2.1-0.5 2.1-0.5 2.1-0.5 1.9-0.5 2-0.5 2-0.5 2.1-0.5 1.9-0.5 1.9-0.5 1.9-0.5 2-0.5 1.8-0.5 1.9-0.5 1.8-0.5 1.8-0.5 1.8-0.5 1.6-0.5 1.7-0.5 1.5-0.5 1.4-0.5 1.3-0.5 1.3-0.5 1.3-0.5 1.2-0.5 1-0.5 0.9-0.5 0.8-0.5 1-0.5 0.7-0.5 0.7-0.5 0.5-0.5 0.5-0.5 0.5-0.5 0.5-0.5 0.5-0.5 0.4-0.5 0.5-0.5 0.4-0.5 0.3-0.5 0.1-0.5 0.2-0.5 0.2-0.5 0.3-0.5 0-0.5 0.2-0.5 0.3-0.5 0.2-0.5-0.1-0.5-0.3-0.5-0.1-0.5-0.1-0.5 0.2-0.5 0.1-0.5 0-0.5-0.1-0.5-0.3-0.5 0-0.5-0.1-0.5-0.1-0.5-0.4-0.5-0.4-0.5-0.4-0.5 0-0.5-0.4-0.5-0.3-0.5-0.6-0.5-0.3-0.5-0.5-0.5-0.2-0.5-0.4-0.5-0.6-0.5-0.5-0.5-0.7-0.5-0.5-0.5-0.4-0.5-0.6-0.5-0.7-0.5-0.9-0.5-0.8-0.5-0.7-0.5-0.9-0.5-0.9-0.5-1.1-0.5-1.4-0.5-1.5-0.5-1.6-0.5-1.6-0.5-1.9-0.5-1.9-0.5-2.1-0.5-2-0.5-2.4-0.5-2.3-0.5-2.4-0.5-2.6-0.5-2.6-0.5-2.7-0.5-2.5-0.5-2.6-0.5-2.8-0.5-2.8-0.5-3-0.5-2.6-0.5-2.7-0.5-2.5-0.5-2.6-0.5-2.2-0.5-2.2-0.5-2.1-0.5-2-0.5-1.9-0.5-1.8-0.5-1.8-0.5-1.7-0.5-1.8-0.5-1.5-0.5-1.6-0.5-1.3-0.5-1.4-0.5-1.3-0.5-1.2-0.5-1.1-0.5-1.1-0.5-1.3-0.5-1.1-0.5-1-0.5-0.9-0.5-0.5-0.5-0.3-0.5 0.1-0.5 0-0.5 0.2-0.5 0.3-0.5 0.3-0.5 0.3-0.5 0.2-0.5 0.1-0.5 0.4-0.5 0.2-0.5 0.2-0.5 0.1-0.5 0.1-0.5 0.1-0.5-0.1-0.5 0-0.5-0.3-0.5-0.6-0.5-1.1-0.5-1.9-0.5-2.5-0.5-2.5-0.5-2.3-0.5-1.8-0.5-1.4-0.5-1.4-0.5-1.3-0.5-1.2-0.5-1.1-0.5-0.9-0.5-0.7-0.5 0.3-0.5 0.8-0.5 0.8-0.5 0.9-0.5 0.7-0.5 0.9-0.5 0.9-0.5 1.1-0.5 0.9-0.5 1-0.5 1.2-0.5 1.4-0.5 1.4-0.5 1.6-0.5 1.6-0.5 1.7-0.5 1.7-0.5 1.8-0.5 1.7-0.5 1.8-0.5 1.6-0.5 1.5-0.5 1.6-0.5 1.7-0.5 1.8-0.5 1.7-0.5 1.7-0.5 1.6-0.5 1.8-0.5 1.5-0.5 1.8-0.5 1.5-0.5 1.7-0.5 1.3-0.5 1.5-0.5 1.5-0.5 1.5-0.5 1.5-0.5 1.4-0.5 1.5-0.5 1.4-0.5 1.3-0.5 1.5-0.5 1.2-0.5 1.3-0.5 1.3-0.5 1-0.5 1.1-0.5 0.8-0.5 1-0.5 1.1-0.5 0.8-0.5 1-0.5 0.7-0.5 1-0.5 0.9-0.5 0.9-0.5 0.9-0.5 0.6-0.5 0.5-0.5 0.6-0.5 0.8-0.5 0.8-0.5 0.7-0.5 0.5-0.5 0.5-0.5 0.5-0.5 0.5-0.5 0.6-0.5 0.5-0.5 0.3-0.5 0.5-0.5 0.3-0.5 0.8-0.5 0.7-0.5 0.4-0.5 0.2-0.5 0.2-0.5 0.5-0.5 0.5-0.5 0.1-0.5 0.3-0.5 0.3-0.5 0.5-0.5 0.3-0.5 0.4-0.5 0-0.5 0.5-0.5 0.3-0.5 0.4-0.5 0.3-0.5 0.3-0.5 0.3-0.5 0.2-0.5 0.1-0.5 0.3-0.5 0.3-0.5 0.2-0.5 0.1-0.5 0.1-0.5 0.2-0.5 0.1-0.5 0.2-0.5 0.1-0.5 0.3-0.5 0.1-0.5 0.1-0.5 0.4-0.5 0.1-0.5 0.1-0.5 0-0.5 0-0.5 0.2-0.5 0.2-0.5 0.4-0.5 0.3-0.5 0.1-0.5 0.1-0.5 0.2-0.5 0-0.5 0.3-0.5-0.1-0.5 0.2-0.5-0.1-0.5 0.2-0.5 0.2-0.5 0.1-0.5 0.2-0.5 0.1-0.5 0.4-0.5 0.3-0.5 0-0.5 0-0.5 0-0.5 0.2-0.5 0-0.5 0.2-0.5 0.1-0.5 0-0.5 0.1-0.5 0.1-0.5 0.1-0.5-0.1-0.5 0.2-0.5 0-0.5 0.1-0.5 0.1-0.5 0.2-0.5-0.1-0.5-0.1-0.5 0-0.5 0.3-0.5 0-0.5-0.1-0.5 0.2-0.5 0.2-0.5 0.2-0.5-0.3-0.5 0-0.5-0.2-0.5 0.2-0.5 0-0.5 0.2-0.5 0-0.5 0.1-0.5-0.1-0.5 0.2-0.5 0.2-0.5 0.1-0.5-0.1-0.5-0.1-0.5 0-0.5 0.1-0.5 0.1-0.5 0.3-0.5 0.2-0.5 0-0.5-0.2-0.5 0-0.5 0-0.5 0.1-0.5 0-0.5 0.1-0.5 0-0.5-0.1-0.5 0.2-0.5 0.1-0.5 0.2-0.5-0.1-0.5-0.1-0.5 0.1-0.5 0-0.5 0.2-0.5-0.2-0.5 0-0.5 0.1-0.5 0-0.5 0.3-0.5 0.2-0.5 0-0.5-0.1-0.5 0-0.5 0.2-0.5 0-0.5 0-0.5-0.3-0.5 0-0.5 0-0.5 0.1-0.5 0.1-0.5 0.1-0.5 0-0.5 0.1-0.5 0.1-0.5 0-0.5-0.1-0.5 0-0.5 0.1-0.5 0.1-0.5 0.2-0.5 0-0.5 0-0.5 0.1-0.5 0.2-0.5-0.1-0.5-0.1-0.5-0.1-0.5 0.1-0.5 0-0.5-0.1-0.5 0-0.5-0.2-0.5 0-0.5 0.2-0.5 0.2-0.5 0-0.5 0.1-0.5 0-0.5 0.1-0.5-0.2-0.5 0-0.5 0-0.5 0.4-0.5 0-0.5-0.2-0.5-0.1-0.5 0-0.5 0.1-0.5 0.2-0.5 0.1-0.5-0.1-0.5 0.1-0.5 0.1-0.5 0.3-0.5-0.2-0.5-0.2-0.5-0.1-0.5 0.1-0.5 0-0.5-0.1-0.5 0.2-0.5 0.1-0.5 0.2-0.5 0-0.5 0-0.5-0.1-0.5-0.1-0.5 0-0.5 0.1-0.5 0-0.5 0-0.5 0.2-0.5 0-0.5 0.2-0.5-0.2-0.5 0.2-0.5-0.1-0.5 0.2-0.5-0.1-0.5-0.1-0.5 0-0.5 0-0.5 0-0.5 0-0.5 0-0.5 0.1-0.5 0.1-0.5 0-0.5 0-0.5 0-0.5 0.1-0.5 0.1-0.5-0.2-0.5 0-0.5 0.2-0.5 0-0.5-0.1-0.5 0-0.5 0.2-0.5 0.1-0.5 0-0.5 0-0.5 0.2-0.5 0-0.5 0-0.5-0.2-0.5 0.1-0.5-0.1-0.5 0-0.5 0.1-0.5 0.1-0.5 0.1-0.5-0.1-0.5 0-0.5 0-0.5 0-0.5 0-0.5-0.1-0.5 0.1-0.5 0-0.5 0-0.5 0-0.5 0.2-0.5-0.1-0.5 0-0.5-0.1-0.5 0.2-0.5-0.1-0.5 0-0.5 0-0.5-0.1-0.5 0.1-0.5 0-0.5 0.2-0.5 0.1-0.5 0-0.5 0.1-0.5 0-0.5 0-0.5 0-0.5 0-0.5 0.1-0.5 0.1-0.5 0.1-0.5-0.1-0.5 0-0.5 0.2-0.5 0.2-0.5-0.1-0.5-0.2-0.5-0.1-0.5-0.1-0.5 0.2-0.5 0-0.5 0.2-0.5-0.4-0.5 0-0.5-0.2-0.5 0.4-0.5 0-0.5 0.1-0.5-0.1-0.5 0.1-0.5 0.1-0.5 0.1-0.5-0.1-0.5-0.3-0.5-0.2-0.5 0.2-0.5 0.3-0.5 0-0.5 0.2-0.5 0-0.5 0.1-0.5-0.1-0.5 0.1-0.5 0-0.5 0.1-0.5-0.1-0.5-0.1-0.5-0.1-0.5 0-0.5 0.1-0.5 0-0.5-0.1-0.5 0-0.5-0.1-0.5 0.4-0.5 0-0.5 0.1-0.5-0.1-0.5-0.1-0.5-0.1-0.5 0-0.5 0.3-0.5 0.1-0.5 0-0.5-0.1-0.5-0.1-0.5-0.1-0.5 0.2-0.5 0-0.5 0.2-0.5 0-0.5 0.2-0.5-0.1-0.5 0.2-0.5 0-0.5 0.2-0.5-0.1-0.5-0.1-0.5 0.1-0.5 0-0.5-0.1-0.5 0.1-0.5 0-0.5 0.3-0.5-0.1-0.5 0-0.5-0.2-0.5 0.1-0.5 0-0.5 0.1-0.5 0-0.5-0.1-0.5 0-0.5 0-0.5 0.1-0.5-0.1-0.5 0.1-0.5 0.1-0.5 0.2-0.5 0.1-0.5 0-0.5 0-0.5 0-0.5 0-0.5 0.2-0.5 0.2-0.5 0.3-0.5-0.2-0.5-0.1-0.5 0.1-0.5 0.3-0.5 0.2-0.5 0.1-0.5 0-0.5-0.1-0.5 0.1-0.5 0-0.5 0.1-0.5 0.1z" fill="#000"/>
<path d="M179.5,585.4l0.5-0.1 0.5-0.2 0.5-0.3 0.5-0.1 0.5-0.1 0.5 0 0.5-0.1 0.5-0.1 0.5-0.3 0.5-0.3 0.5 0.1 0.5-0.1 0.5 0 0.5-0.3 0.5-0.1 0.5-0.1 0.5-0.1 0.5 0 0.5-0.1 0.5-0.1 0.5-0.2 0.5 0 0.5-0.2 0.5 0 0.5-0.3 0.5-0.1 0.5-0.3 0.5 0 0.5 0 0.5 0 0.5 0.1 0.5 0 0.5 0 0.5-0.1 0.5 0 0.5-0.2 0.5 0 0.5 0 0.5 0 0.5 0 0.5-0.1 0.5-0.1 0.5-0.1 0.5 0 0.5 0.2 0.5-0.1 0.5-0.1 0.5-0.2 0.5 0 0.5 0 0.5 0 0.5 0 0.5 0 0.5 0 0.5-0.2 0.5 0 0.5-0.2 0.5 0.2 0.5 0 0.5 0.1 0.5 0 0.5-0.2 0.5 0.1 0.5 0 0.5 0 0.5-0.1 0.5 0 0.5-0.1 0.5-0.1 0.5-0.1 0.5-0.2 0.5 0.2 0.5 0.1 0.5 0 0.5-0.1 0.5-0.1 0.5-0.1 0.5-0.1 0.5 0 0.5 0.3 0.5 0.1 0.5 0.1 0.5-0.1 0.5-0.1 0.5-0.2 0.5 0 0.5 0 0.5-0.1 0.5 0 0.5 0 0.5 0.3 0.5 0.1 0.5-0.2 0.5-0.2 0.5-0.2 0.5 0.1 0.5-0.1 0.5 0 0.5-0.3 0.5 0.1 0.5 0.1 0.5 0.1 0.5-0.1 0.5-0.1 0.5 0.1 0.5 0 0.5 0 0.5-0.1 0.5 0.1 0.5 0.1 0.5 0 0.5 0 0.5 0 0.5 0 0.5 0 0.5-0.2 0.5-0.2 0.5 0 0.5-0.1 0.5 0 0.5-0.1 0.5-0.1 0.5 0 0.5 0 0.5 0.1 0.5 0 0.5 0.1 0.5 0.1 0.5 0 0.5-0.1 0.5-0.3 0.5-0.2 0.5 0 0.5 0 0.5-0.1 0.5-0.1 0.5 0.1 0.5 0.2 0.5 0.3 0.5-0.1 0.5-0.2 0.5-0.3 0.5 0 0.5 0 0.5 0.1 0.5 0 0.5 0.1 0.5-0.1 0.5 0.1 0.5-0.1 0.5 0.1 0.5-0.2 0.5 0.1 0.5-0.1 0.5-0.1 0.5-0.1 0.5-0.1 0.5 0.1 0.5 0.1 0.5-0.1 0.5-0.1 0.5-0.1 0.5 0.1 0.5 0 0.5 0.1 0.5 0 0.5 0.1 0.5 0 0.5-0.2 0.5 0.1 0.5-0.2 0.5 0.1 0.5-0.1 0.5 0 0.5 0 0.5-0.1 0.5-0.1 0.5-0.1 0.5 0.2 0.5 0 0.5 0 0.5-0.1 0.5 0 0.5-0.1 0.5-0.1 0.5-0.1 0.5 0 0.5 0 0.5 0.1 0.5 0 0.5 0 0.5 0 0.5 0 0.5-0.1 0.5 0.2 0.5-0.2 0.5 0 0.5-0.3 0.5 0.1 0.5 0.1 0.5 0.1 0.5-0.1 0.5 0 0.5 0.1 0.5 0 0.5-0.2 0.5-0.3 0.5 0 0.5 0.2 0.5 0 0.5-0.2 0.5-0.1 0.5-0.2 0.5 0.3 0.5-0.2 0.5 0.1 0.5-0.1 0.5 0.2 0.5 0 0.5-0.1 0.5-0.3 0.5-0.1 0.5 0 0.5 0.1 0.5-0.1 0.5 0.2 0.5 0.1 0.5-0.2 0.5 0 0.5-0.1 0.5 0.1 0.5-0.1 0.5-0.2 0.5 0 0.5 0.1 0.5 0.2 0.5 0.1 0.5-0.1 0.5-0.2 0.5 0 0.5-0.3 0.5 0 0.5-0.1 0.5 0.4 0.5 0 0.5-0.1 0.5-0.3 0.5 0.1 0.5-0.1 0.5 0 0.5 0 0.5 0 0.5 0.1 0.5-0.1 0.5-0.1 0.5-0.1 0.5 0.1 0.5 0 0.5 0.1 0.5-0.1 0.5 0 0.5-0.1 0.5-0.1 0.5-0.1 0.5 0.1 0.5 0.1 0.5 0 0.5-0.1 0.5-0.2 0.5 0.1 0.5 0.1 0.5 0 0.5-0.1 0.5-0.2 0.5 0.1 0.5 0.1 0.5-0.1 0.5-0.3 0.5-0.1 0.5-0.1 0.5 0.3 0.5-0.1 0.5 0.1 0.5-0.2 0.5 0.1 0.5 0 0.5-0.1 0.5 0 0.5 0 0.5 0.2 0.5-0.1 0.5-0.2 0.5-0.1 0.5-0.2 0.5 0.2 0.5 0.1 0.5 0.2 0.5-0.2 0.5-0.3 0.5-0.1 0.5 0.2 0.5 0 0.5 0.1 0.5-0.2 0.5 0.1 0.5-0.2 0.5 0.1 0.5-0.1 0.5-0.1 0.5-0.1 0.5 0.2 0.5-0.1 0.5-0.1 0.5-0.2 0.5 0.1 0.5 0 0.5 0.2 0.5 0 0.5 0 0.5-0.1 0.5-0.1 0.5 0.1 0.5-0.1 0.5 0 0.5 0 0.5-0.1 0.5 0.1 0.5-0.1 0.5-0.1 0.5-0.1 0.5 0.1 0.5 0.2 0.5-0.2 0.5-0.1 0.5-0.2 0.5 0.1 0.5-0.1 0.5 0 0.5-0.1 0.5 0 0.5 0 0.5 0 0.5-0.1 0.5-0.2 0.5 0 0.5 0.1 0.5 0 0.5 0.1 0.5-0.1 0.5 0.1 0.5 0 0.5 0.1 0.5-0.1 0.5 0 0.5-0.1 0.5-0.1 0.5-0.1 0.5 0.1 0.5 0.1 0.5-0.1 0.5 0 0.5 0 0.5 0.1 0.5-0.4 0.5 0 0.5-0.2 0.5 0.2 0.5 0.1 0.5 0 0.5-0.1 0.5-0.4 0.5 0.1 0.5 0.1 0.5 0.2 0.5-0.2 0.5-0.1 0.5 0 0.5 0.1 0.5 0.1 0.5-0.2 0.5-0.2 0.5-0.1 0.5 0.1 0.5 0 0.5-0.1 0.5-0.2 0.5-0.1 0.5-0.1 0.5-0.2 0.5 0.1 0.5 0 0.5 0.2 0.5-0.2 0.5-0.1 0.5-0.3 0.5-0.1 0.5 0 0.5 0.3 0.5 0 0.5-0.2 0.5-0.2 0.5-0.1 0.5 0 0.5-0.2 0.5 0 0.5-0.1 0.5-0.1 0.5-0.2 0.5-0.1 0.5-0.1 0.5 0 0.5-0.3 0.5 0 0.5-0.2 0.5 0 0.5-0.1 0.5-0.2 0.5-0.1 0.5-0.5 0.5-0.2 0.5-0.3 0.5 0 0.5-0.4 0.5-0.3 0.5-0.5 0.5-0.5 0.5-0.5 0.5-0.4 0.5-0.2 0.5-0.3 0.5-0.3 0.5-0.3 0.5-0.2 0.5-0.2 0.5-0.3 0.5-0.4 0.5-0.4 0.5-0.3 0.5 0 0.5-0.1 0.5-0.2 0.5-0.2 0.5-0.4 0.5 0 0.5-0.2 0.5 0 0.5-0.1 0.5 0.1 0.5-0.2 0.5-0.2 0.5-0.2 0.5 0.1 0.5 0 0.5 0.1 0.5-0.2 0.5-0.1 0.5 0.3 0.5 0.7 0.5 0.8 0.5 0.7 0.5 1 0.5 1.1 0.5 1.3 0.5 1 0.5 1 0.5 0.8 0.5 0.5 0.5 0.3 0.5 0.2 0.5 0.3 0.5 0.2 0.5 0.1 0.5 0.1 0.5 0.1 0.5-0.1 0.5 0.2 0.5 0.1 0.5 0.2 0.5-0.1 0.5 0.2 0.5 0.2 0.5 0.3 0.5 0.3 0.5-0.1 0.5 0.3 0.5 0.1 0.5 0.8 0.5 0.1 0.5 0.5 0.5 0.1 0.5 0.8 0.5 0.7 0.5 0.6 0.5 0.5 0.5 0.7 0.5 0.5 0.5 0.7 0.5 0.8 0.5 0.9 0.5 1 0.5 1 0.5 1.3 0.5 1.2 0.5 1 0.5 1.3 0.5 1.1 0.5 1 0.5 0.7 0.5 0.7 0.5 0.7 0.5 0.7 0.5 0.8 0.5 0.5 0.5 0.5 0.5 0.5 0.5 0.6 0.5 0.5 0.5 0.4 0.5 0.6 0.5 0.4 0.5 0.4 0.5 0.3 0.5 0.5 0.5 0.3 0.5 0.3 0.5 0.5 0.5 0.4 0.5 0.3 0.5 0.4 0.5 0.2 0.5 0.5 0.5 0.2 0.5 0.3 0.5 0.2 0.5 0.2 0.5 0.5 0.5 0.4 0.5 0.3 0.5 0.1 0.5 0 0.5 0.3 0.5 0.2 0.5 0.3 0.5 0.2 0.5 0.3 0.5 0.3 0.5 0.2 0.5 0.1 0.5 0 0.5 0.1 0.5 0.1 0.5 0.2 0.5 0 0.5-0.2 0.5-0.3 0.5-0.1 0.5 0.1 0.5 0 0.5 0 0.5-0.2 0.5-0.1 0.5-0.2 0.5-0.3 0.5-0.3 0.5-0.2 0.5-0.2 0.5 0 0.5-0.2 0.5-0.3 0.5-0.2 0.5-0.2 0.5-0.2 0.5-0.2 0.5-0.5 0.5-0.3 0.5-0.3 0.5-0.3 0.5-0.3 0.5-0.7 0.5-0.5 0.5-0.4 0.5-0.6 0.5-0.6 0.5-0.7 0.5-0.6 0.5-0.7 0.5-0.6 0.5-0.5 0.5-0.7 0.5-0.6 0.5-0.6 0.5-0.6 0.5-0.6 0.5-0.6 0.5-0.8 0.5-0.7 0.5-0.8 0.5-0.7 0.5-0.7 0.5-0.4 0.5-0.4 0.5-0.5 0.5-0.4 0.5-0.3 0.5-0.5 0.5-0.3 0.5-0.4 0.5-0.2 0.5-0.2 0.5-0.2 0.5-0.4 0.5-0.3 0.5-0.3 0.5-0.2 0.5-0.4 0.5-0.4 0.5-0.6 0.5-0.5 0.5-0.4 0.5-0.5 0.5-1.9 0.5-2.8 0.5-3.4 0.5-3.4 0.5-2.7 0.5-1.4 0.5-0.3 0.5-0.5 0.5-0.2 0.5-0.3 0.5-0.2 0.5-0.1 0.5 0.1 0.5 0.2 0.5 0.2 0.5 0.2 0.5 0.6 0.5 0.6 0.5 0.8 0.5 0.5 0.5 0.7 0.5 0.6 0.5 0.7 0.5 0.6 0.5 0.7 0.5 0.5 0.5 0.5 0.5 0.5 0.5 0.5 0.5 0.6 0.5 0.4 0.5 0.2 0.5 0.1 0.5 0.4 0.5 0.4 0.5 0.5 0.5 0.3 0.5 0.2 0.5 0.1 0.5-0.1 0.5 0.1 0.5 0 0.5 0 0.5-0.3 0.5-0.2 0.5-0.5 0.5-0.4 0.5-0.5 0.5-0.4 0.5-0.4 0.5-0.4 0.5-0.8 0.5-0.6 0.5-0.6 0.5-0.2 0.5-0.4 0.5-0.5 0.5-0.6 0.5-0.4 0.5-0.3 0.5-0.2 0.5-0.2 0.5-0.3 0.5-0.4 0.5-0.2 0.5-0.3 0.5-0.4 0.5-0.6 0.5-0.4 0.5-0.3 0.5-0.4 0.5-0.2 0.5-0.2 0.5-0.2 0.5-0.4 0.5-0.2 0.5-0.5 0.5-0.2 0.5-0.3 0.5-0.1 0.5-0.2 0.5-0.2 0.5-0.2 0.5-0.4 0.5-0.5 0.5-0.4 0.5-0.2 0.5-0.2 0.5-0.2 0.5-0.4 0.5-0.3 0.5 0.1 0.5-0.1 0.5-0.2 0.5-0.4 0.5-0.3 0.5-0.2 0.5-0.3 0.5-0.1 0.5 0 0.5-0.1 0.5-0.3 0.5-0.2 0.5-0.3 0.5-0.1 0.5-0.2 0.5-0.2 0.5-0.2 0.5-0.4 0.5-0.4 0.5-0.2 0.5-0.1 0.5 0 0.5-0.5 0.5-0.3 0.5-0.5 0.5-0.3 0.5-0.3 0.5-0.3 0.5-0.4 0.5-0.2 0.5-0.3 0.5-0.2 0.5-0.5 0.5-0.4 0.5-0.4 0.5-0.3 0.5-0.6 0.5-0.4 0.5-0.3 0.5-0.2 0.5-0.4 0.5-0.4 0.5-0.3 0.5-0.3 0.5-0.4 0.5-0.4 0.5-0.5 0.5-0.5 0.5-0.6 0.5-0.5 0.5-0.3 0.5-0.3 0.5-0.1 0.5-0.3 0.5-0.3 0.5-0.4 0.5-0.2 0.5 0.1 0.5 0 0.5 0 0.5-0.2 0.5 0.3 0.5 0.1 0.5 0.1 0.5-0.1 0.5 0.2 0.5 0.2 0.5 0.3 0.5 0.4 0.5 0.3 0.5 0.2 0.5 0 0.5 0.1 0.5 0.2 0.5 0.4 0.5 0.4 0.5 0.4 0.5 0.4 0.5 0.4 0.5 0.5 0.5 0.6 0.5 0.6 0.5 0.7 0.5 0.8 0.5 0.7 0.5 0.7 0.5 0.8 0.5 0.9 0.5 1.1 0.5 0.9 0.5 1.2 0.5 1.1 0.5 1.1 0.5 0.9 0.5 0.8 0.5 0.8 0.5 0.6 0.5 0.8 0.5 0.6 0.5 0.7 0.5 0.4 0.5 0.8 0.5 0.5 0.5 0.5 0.5 0.4 0.5 0.2 0.5 0.1 0.5-0.1 0.5 0.1 0.5 0 0.5 0.2 0.5 0.1 0.5-0.1 0.5 0 0.5-0.1 0.5 0 0.5-0.1 0.5-0.1 0.5 0.1 0.5 0.1 0.5 0 0.5 0 0.5-0.3 0.5-0.2 0.5-0.2 0.5-0.1 0.5-0.2 0.5-0.4 0.5-0.3 0.5-0.5 0.5-0.5 0.5-0.5 0.5-0.4 0.5-0.4 0.5-0.5 0.5-0.6 0.5-0.5 0.5-0.4 0.5-0.4 0.5-0.5 0.5-0.4 0.5-0.4 0.5-0.3 0.5-0.3 0.5-0.6 0.5-0.2 0.5-0.3 0.5-0.2 0.5-0.7 0.5-0.7 0.5-0.6 0.5-0.7 0.5-1.4 0.5-3.8 0.5-5.5 0.5-6.3 0.5-6.3 0.5-9 0.5-4.6 0.5 0 0.5 0 0.5 0.5 0.5 0.1 0.5 0.1 0.5 0.1 0.5 0.6 0.5 0.9 0.5 1.4 0.5 1.3 0.5 1.6 0.5 1.1 0.5 0.8 0.5 0.2 0.5 0 0.5-0.3 0.5-0.4 0.5-0.5 0.5-0.5 0.5-0.6 0.5-0.7 0.5-0.8 0.5-0.8 0.5-1 0.5-0.7 0.5-0.7 0.5-0.4 0.5-0.8 0.5-0.9 0.5-0.9 0.5-0.8 0.5-0.8 0.5-0.8 0.5-0.9 0.5-1 0.5-0.9 0.5-1 0.5-1 0.5-1.1 0.5-1.1 0.5-1.3 0.5-1.5 0.5-1.5 0.5-1.5 0.5-1.7 0.5-2.1 0.5-2.7 0.5-2.7 0.5-3 0.5-2.8 0.5-2.7 0.5-2.4 0.5-2.1 0.5-1.6 0.5-1 0.5-0.4 0.5 0.2 0.5 0.4 0.5 0.7 0.5 0.9 0.5 1.2 0.5 1.4 0.5 1.7 0.5 1.7 0.5 1.5 0.5 1.5 0.5 1.5 0.5 1.6 0.5 1.4 0.5 1.4 0.5 1.7 0.5 1.5 0.5 1.8 0.5 1.6 0.5 1.7 0.5 1.7 0.5 1.9 0.5 2 0.5 1.6 0.5 1.2 0.5 1.4 0.5 1.2 0.5 1.3 0.5 1.2 0.5 1.3 0.5 1.1 0.5 0.9 0.5 0.8 0.5 0.8 0.5 0.7 0.5 1 0.5 0.8 0.5 0.9 0.5 0.6 0.5 0.8 0.5 0.7 0.5 0.6 0.5 0.6 0.5 0.6 0.5 0.7 0.5 0.5 0.5 0.5 0.5 0.5 0.5 0.6 0.5 0.5 0.5 0.6 0.5 0.4 0.5 0.4 0.5 0.4 0.5 0.4 0.5 0.6 0.5 0.4 0.5 0.4 0.5 0.5 0.5 0.3 0.5 0.4 0.5 0.2 0.5 0.5 0.5 0.4 0.5 0.6 0.5 0.3 0.5 0.4 0.5 0.2 0.5 0.5 0.5 0.2 0.5 0.2 0.5 0.1 0.5 0.3 0.5 0.4 0.5 0.4 0.5 0.1 0.5 0.3 0.5 0.2 0.5 0.4 0.5 0 0.5 0.3 0.5 0.1 0.5 0.4 0.5 0.2 0.5 0.4 0.5 0.1 0.5 0.4 0.5 0.1 0.5 0.4 0.5 0.2 0.5 0.5 0.5 0.2 0.5 0.2 0.5 0 0.5 0.3 0.5 0.4 0.5 0.4 0.5 0.3 0.5 0.1 0.5 0.4 0.5 0.1 0.5 0.5 0.5 0.2 0.5 0.5 0.5 0.1 0.5 0.4 0.5 0.2 0.5 0.3 0.5 0.2 0.5 0.2 0.5 0.2 0.5 0.4 0.5 0.4 0.5 0.3 0.5 0.3 0.5 0.3 0.5 0.3 0.5 0.4 0.5 0.5 0.5 0.6 0.5 0.5 0.5 0.7 0.5 0.5 0.5 0.4 0.5 0.4 0.5 0.4 0.5 0.5 0.5 0.4 0.5 0.7 0.5 0.3 0.5 0.5 0.5 0.1 0.5 0.5 0.5 0.5 0.5 0.4 0.5 0.5 0.5 0.4 0.5 0.3 0.5 0.2 0.5 0.1 0.5 0.3 0.5 0.4 0.5 0.2 0.5 0.4 0.5 0.1 0.5 0.2 0.5 0.2 0.5 0.1 0.5 0 0.5-0.1 0.5-0.1 0.5 0 0.5-0.3 0.5-0.1 0.5-0.1 0.5-0.1 0.5-0.2 0.5-0.1 0.5-0.1 0.5 0 0.5-0.2 0.5-0.2 0.5-0.2 0.5 0 0.5-0.2 0.5-0.3 0.5-0.2 0.5 0.1 0.5 0.1 0.5-0.1 0.5 0 0.5-0.2 0.5 0.2 0.5 0 0.5 0.3 0.5 0.1 0.5 0.3 0.5 0.2 0.5 0.2 0.5 0.4 0.5 0.2 0.5 0.4 0.5 0.5 0.5 0.5 0.5 0.5 0.5 0.3 0.5 0.4 0.5 0.4 0.5 0.5 0.5 0.3 0.5 0.3 0.5 0.4 0.5 0.2 0.5 0.2 0.5 0 0.5 0.1 0.5 0.1 0.5 0.1 0.5 0.1 0.5 0 0.5 0.1 0.5 0 0.5 0 0.5-0.1 0.5 0.1 0.5 0.1 0.5 0.1 0.5-0.1 0.5-0.2 0.5 0.1 0.5 0 0.5 0.2 0.5 0 0.5 0.2 0.5-0.1 0.5-0.1 0.5 0 0.5 0 0.5 0.3 0.5 0 0.5 0.2 0.5-0.1 0.5 0 0.5-0.2 0.5-0.1 0.5 0.1 0.5 0.1 0.5 0.1 0.5 0 0.5-0.1 0.5 0 0.5-0.1 0.5 0.1 0.5 0.1 0.5-0.1 0.5 0 0.5-0.1 0.5 0.3 0.5 0 0.5-0.1 0.5 0 0.5 0 0.5-0.1 0.5 0 0.5-0.2 0.5-0.1 0.5-0.1 0.5 0 0.5 0 0.5 0.2 0.5 0 0.5 0.2 0.5-0.2 0.5 0.3 0.5-0.1 0.5 0 0.5-0.3 0.5 0 0.5-0.2 0.5 0 0.5 0 0.5 0.2 0.5 0.2 0.5 0 0.5-0.3 0.5-0.2 0.5-0.1 0.5 0.2 0.5 0.1 0.5-0.1 0.5-0.2 0.5 0 0.5 0.1 0.5 0.2 0.5-0.1 0.5 0.1 0.5 0.1 0.5 0.3 0.5 0.2 0.5-0.1 0.5-0.2 0.5 0 0.5 0.1 0.5 0 0.5 0.3 0.5 0.2 0.5 0.4 0.5 0 0.5 0.2 0.5 0.1 0.5 0.2 0.5 0.1 0.5 0.1 0.5 0.1 0.5-0.1 0.5 0.3 0.5 0.1 0.5 0.1 0.5-0.2 0.5 0.1 0.5 0.3 0.5 0.3 0.5-0.1 0.5-0.2 0.5 0.2 0.5 0.1 0.5 0.1 0.5-0.2 0.5 0.1 0.5 0.3 0.5 0 0.5-0.1 0.5 0 0.5-0.1 0.5 0.1 0.5 0 0.5 0.2 0.5-0.1 0.5-0.1 0.5 0 0.5 0.1 0.5 0 0.5-0.1 0.5 0 0.5 0.1 0.5 0.3 0.5 0.1 0.5 0.1 0.5-0.2 0.5 0 0.5 0 0.5 0.1 0.5 0 0.5 0.2 0.5-0.2 0.5 0.2 0.5 0 0.5 0.1 0.5 0.2 0.5 0.2 0.5 0.1 0.5 0 0.5 0.1 0.5 0.1 0.5 0.2 0.5-0.1 0.5 0.2 0.5 0 0.5 0.1 0.5 0.1 0.5 0.3 0.5-0.1 0.5-0.2 0.5-0.4 0.5 0 0.5 0 0.5 0 0.5-0.3 0.5-0.2 0.5-0.2 0.5-0.1 0.5-0.1 0.5-0.1 0.5-0.2 0.5-0.2 0.5-0.3 0.5-0.3 0.5-0.8 0.5-0.8 0.5-0.8 0.5-1 0.5-0.8 0.5-1.1 0.5-0.7 0.5-0.7 0.5-0.4 0.5 0 0.5 0.3 0.5 0.2 0.5 0.4 0.5 0.4 0.5 0.8 0.5 0.7 0.5 0.8 0.5 0.8 0.5 0.7 0.5 0.9 0.5 0.6 0.5 0.4 0.5 0 0.5 0.2 0.5-0.1 0.5 0.1 0.5-0.2 0.5 0 0.5-0.1 0.5-0.1 0.5-0.1 0.5 0 0.5 0 0.5 0.1 0.5 0.1 0.5 0.1 0.5-0.2 0.5-0.3 0.5-0.2 0.5-0.2 0.5 0.1 0.5-0.1 0.5-0.1 0.5-0.1 0.5-0.1 0.5 0 0.5-0.2 0.5-0.3 0.5-0.2 0.5-0.3 0.5-0.2 0.5-0.3 0.5-0.3 0.5-0.3 0.5-0.2 0.5-0.3 0.5-0.1 0.5-0.4 0.5-0.1 0.5-0.1 0.5 0.1 0.5 0 0.5 0.1 0.5 0 0.5 0 0.5-0.1 0.5 0 0.5 0 0.5 0.3 0.5 0.3 0.5 0.3 0.5 0.1 0.5 0.2 0.5 0.1 0.5 0.2 0.5 0.1 0.5 0.2 0.5 0.1 0.5 0.1 0.5 0.1 0.5 0 0.5 0.5 0.5 0.3 0.5 0.2 0.5-0.2 0.5-0.1 0.5-0.1 0.5 0.3 0.5 0.1 0.5 0.1 0.5 0 0.5 0.3 0.5 0.1 0.5 0 0.5-0.3 0.5-0.1 0.5-0.2 0.5 0 0.5 0.2 0.5 0.5 0.5 0.1 0.5-0.2 0.5-0.1 0.5 0.1 0.5 0.1 0.5-0.2 0.5 0.1 0.5-0.1 0.5 0.2 0.5 0.1 0.5 0.2 0.5-0.2 0.5-0.1 0.5 0 0.5 0 0.5-0.1 0.5-0.5 0.5 0.1 0.5 0.1 0.5 0.5 0.5-0.1 0.5-0.3 0.5 0 0.5 0.4 0.5 0 0.5-0.4 0.5-0.6 0.5 0.1 0.5 0.3 0.5 0.4 0.5-0.3 0.5-0.3 0.5-0.4 0.5 0.2 0.5-0.3 0.5 0.1 0.5 0.1 0.5 0.1 0.5-0.2 0.5-0.3 0.5 0 0.5-0.3 0.5-0.3 0.5-0.3 0.5 0.3 0.5-0.1 0.5 0.1 0.5-0.5 0.5-0.5 0.5-0.3 0.5 0.1 0.5 0.1 0.5-0.1 0.5-0.3 0.5 0.1 0.5 0.1 0.5 0 0.5-0.4 0.5-0.3 0.5 0.8 0.5 0.2 0.5 0.3 0.5-0.9 0.5-0.3 0.5 0.2 0.5-0.1 0.5 0.2 0.5-0.2 0.5-0.1 0.5 0.4 0.5-0.6 0.5 0.2 0.5 0.1 0.5 0.3 0.5-0.2 0.5-0.4 0.5 0.4 0.5 0 0.5 0 0.5 0.1 0.5 0.5 0.5 0.5 0.5-0.2 0.5 0.1 0.5 0.4 0.5 0.3 0.5-0.5 0.5 0 0.5-0.5 0.5 1.1 0.5-0.3 0.5 0.8 0.5-0.3 0.5 0 0.5 0.2 0.5 0 0.5 1 0.5-0.2 0.5 0.1 0.5 0.2 0.5 0.3 0.5-0.1 0.5-1.1 0.5 0.2 0.5 0.4 0.5 0.6 0.5-0.8 0.5-0.6 0.5-0.8 0.5 0.4 0.5 0.1 0.5 0.5 0.5-1.3 0.5 0.4 0.5-0.6 0.5-0.3 0.5-1 0.5 0.3 0.5 1.4 0.5-0.7 0.5-0.7 0.5-0.7 0.5 0.3 0.5 0.2 0.5-0.6 0.5 0.5 0.5-0.5 0.5 0.1 0.5-0.5 0.5 0.4 0.5 0 0.5 0.5 0.5-0.2 0.5 0.5 0.5-1.3 0.5-0.4 0.5-0.6 0.5 0.4 0.5-1.2 0.5-0.4 0.5-0.5 0.5 1.7 0.5-0.4 0.5 0.3 0.5-1.6 0.5 0.1 0.5-1.5 0.5-0.2 0.5-0.6 0.5 0.4 0.5 0.7 0.5 0.1 0.5 1.4 0.5-0.9 0.5 0 0.5 0 0.5 0.9 0.5 1.3 0.5 0.7 0.5 0.7 0.5 0.4 0.5 0.7 0.5 1.1 0.5 0.5 0.5 0.2 0.5 0.2 0.5 0.9 0.5 1.3 0.5-0.6 0.5-0.9 0.5-1.1 0.5 1.1 0.5-0.1 0.5 1 0.5 0.2 0.5-0.9 0.5-0.9 0.5-0.9 0.5 0.8 0.5-1.2 0.5-0.2 0.5 0.3 0.5 2 0.5 1.1 0.5 0.8 0.5 1.6 0.5 2 0.5 2.5 0.5 0.4 0.5 0.8 0.5 0.3 0.5 0.5 0.5-0.8 0.5 0.7 0.5-0.2 0.5 1.8 0.5 0.2"/>
<path d="M179.5,584.1l0.5-0.1 0.5-0.1 0.5-0.2 0.5-0.1 0.5 0.1 0.5 0 0.5-0.1 0.5-0.1 0.5-0.3 0.5-0.2 0.5-0.2 0.5 0.1 0.5 0 0.5 0 0.5-0.2 0.5-0.1 0.5 0 0.5 0 0.5-0.2 0.5-0.2 0.5-0.2 0.5-0.1 0.5 0 0.5 0 0.5 0 0.5 0 0.5-0.2 0.5-0.1 0.5-0.2 0.5 0.1 0.5 0 0.5 0 0.5-0.1 0.5 0.1 0.5-0.1 0.5-0.2 0.5 0.1 0.5-0.1 0.5 0.2 0.5-0.3 0.5 0.1 0.5-0.2 0.5 0.2 0.5 0 0.5-0.1 0.5-0.1 0.5-0.2 0.5 0.1 0.5-0.1 0.5 0.1 0.5 0.1 0.5-0.1 0.5-0.1 0.5 0 0.5 0 0.5 0 0.5-0.1 0.5 0 0.5-0.1 0.5-0.2 0.5 0.2 0.5 0.3 0.5-0.1 0.5-0.2 0.5-0.1 0.5 0.1 0.5 0 0.5-0.2 0.5-0.1 0.5 0 0.5 0.1 0.5 0 0.5-0.1 0.5-0.2 0.5-0.1 0.5 0 0.5 0.1 0.5 0 0.5 0.1 0.5-0.1 0.5-0.1 0.5-0.2 0.5 0.2 0.5-0.1 0.5 0.1 0.5-0.1 0.5 0 0.5 0 0.5 0.1 0.5 0.2 0.5-0.2 0.5 0 0.5 0 0.5 0.1 0.5-0.1 0.5-0.1 0.5 0 0.5 0 0.5 0.1 0.5 0 0.5-0.1 0.5-0.1 0.5-0.1 0.5 0.1 0.5 0 0.5 0.2 0.5-0.2 0.5-0.1 0.5-0.2 0.5 0.1 0.5-0.1 0.5 0.1 0.5 0 0.5 0 0.5-0.1 0.5-0.1 0.5 0.1 0.5-0.1 0.5 0 0.5-0.2 0.5 0.1 0.5 0 0.5 0.1 0.5-0.1 0.5 0.1 0.5 0 0.5-0.1 0.5 0 0.5 0.1 0.5 0 0.5-0.1 0.5-0.2 0.5 0 0.5 0.1 0.5-0.1 0.5 0 0.5-0.1 0.5 0 0.5 0 0.5 0 0.5-0.1 0.5 0.1 0.5 0 0.5 0.1 0.5-0.1 0.5 0 0.5 0 0.5-0.2 0.5 0 0.5-0.2 0.5 0 0.5-0.1 0.5 0.1 0.5 0.1 0.5 0 0.5 0.2 0.5 0 0.5-0.1 0.5 0 0.5-0.2 0.5 0.1 0.5 0 0.5-0.1 0.5-0.2 0.5-0.2 0.5 0 0.5 0.2 0.5 0 0.5 0.2 0.5-0.2 0.5-0.2 0.5 0 0.5-0.1 0.5 0 0.5-0.4 0.5 0.1 0.5 0.3 0.5 0.1 0.5 0.1 0.5-0.1 0.5 0 0.5-0.1 0.5-0.2 0.5 0.1 0.5-0.1 0.5-0.1 0.5 0.1 0.5 0 0.5 0.1 0.5-0.1 0.5 0 0.5-0.1 0.5-0.1 0.5-0.1 0.5 0 0.5-0.1 0.5-0.1 0.5 0.1 0.5 0.1 0.5 0 0.5 0 0.5 0 0.5 0 0.5 0.1 0.5-0.3 0.5 0 0.5-0.1 0.5 0 0.5-0.1 0.5-0.1 0.5 0 0.5 0 0.5 0.2 0.5-0.1 0.5 0.2 0.5-0.1 0.5 0.1 0.5 0 0.5-0.2 0.5 0 0.5-0.1 0.5 0.1 0.5-0.2 0.5-0.1 0.5-0.1 0.5 0.2 0.5-0.1 0.5 0.2 0.5-0.1 0.5-0.1 0.5-0.1 0.5-0.1 0.5 0.1 0.5 0 0.5 0.1 0.5-0.1 0.5 0 0.5 0 0.5 0 0.5-0.1 0.5-0.2 0.5-0.1 0.5 0 0.5 0.1 0.5 0 0.5 0.1 0.5 0 0.5-0.2 0.5 0 0.5-0.1 0.5 0.1 0.5-0.1 0.5 0 0.5-0.1 0.5-0.1 0.5-0.1 0.5 0 0.5 0 0.5 0.1 0.5 0 0.5-0.1 0.5 0 0.5 0.1 0.5-0.1 0.5-0.2 0.5 0 0.5 0 0.5-0.1 0.5 0 0.5 0 0.5 0.1 0.5-0.1 0.5-0.1 0.5-0.1 0.5-0.1 0.5 0.1 0.5 0.1 0.5 0 0.5-0.1 0.5 0.1 0.5-0.2 0.5-0.1 0.5-0.1 0.5 0 0.5-0.1 0.5-0.1 0.5 0 0.5 0 0.5-0.2 0.5 0.1 0.5 0 0.5 0.2 0.5-0.2 0.5 0 0.5-0.2 0.5 0.1 0.5-0.2 0.5 0.1 0.5-0.1 0.5 0.1 0.5-0.2 0.5 0.1 0.5-0.2 0.5 0.2 0.5-0.2 0.5 0.1 0.5-0.3 0.5 0.1 0.5-0.1 0.5 0 0.5-0.3 0.5 0.1 0.5 0.1 0.5 0 0.5-0.1 0.5 0.1 0.5 0 0.5 0 0.5-0.3 0.5 0 0.5 0 0.5-0.1 0.5-0.3 0.5-0.3 0.5 0.1 0.5-0.1 0.5 0.1 0.5 0.1 0.5-0.1 0.5 0 0.5-0.2 0.5 0 0.5-0.1 0.5 0 0.5 0 0.5-0.1 0.5-0.2 0.5 0 0.5-0.2 0.5 0.1 0.5-0.1 0.5-0.2 0.5 0 0.5-0.1 0.5 0 0.5-0.1 0.5-0.1 0.5-0.1 0.5 0 0.5 0 0.5 0 0.5 0 0.5 0 0.5-0.1 0.5-0.2 0.5-0.1 0.5-0.1 0.5 0.1 0.5-0.2 0.5-0.1 0.5-0.2 0.5-0.2 0.5-0.1 0.5-0.1 0.5-0.1 0.5-0.2 0.5 0.2 0.5-0.2 0.5 0.1 0.5-0.5 0.5-0.1 0.5-0.1 0.5 0.1 0.5-0.1 0.5-0.4 0.5-0.3 0.5-0.1 0.5 0 0.5 0.1 0.5-0.1 0.5-0.2 0.5-0.2 0.5-0.6 0.5-0.2 0.5-0.2 0.5 0.1 0.5 0 0.5-0.1 0.5-0.3 0.5-0.4 0.5-0.4 0.5-0.3 0.5-0.2 0.5-0.2 0.5-0.3 0.5-0.4 0.5-0.5 0.5-0.1 0.5-0.1 0.5-0.3 0.5-0.6 0.5-0.4 0.5-0.2 0.5-0.4 0.5-0.6 0.5-0.5 0.5-0.5 0.5-0.2 0.5-0.3 0.5-0.4 0.5-0.6 0.5-0.5 0.5-0.7 0.5-0.4 0.5-0.7 0.5-0.4 0.5-0.7 0.5-0.5 0.5-0.8 0.5-0.4 0.5-0.9 0.5-0.8 0.5-0.9 0.5-0.6 0.5-0.6 0.5-1 0.5-0.8 0.5-0.8 0.5-0.5 0.5-0.7 0.5-0.8 0.5-0.8 0.5-1 0.5-0.6 0.5-1 0.5-0.6 0.5-0.8 0.5-0.5 0.5-0.6 0.5-0.4 0.5-0.5 0.5-0.3 0.5-0.4 0.5-0.4 0.5-0.5 0.5-0.4 0.5-0.4 0.5-0.3 0.5-0.4 0.5-0.5 0.5-0.4 0.5-0.2 0.5 0.4 0.5 0.2 0.5 0.4 0.5 0.4 0.5 0.8 0.5 0.9 0.5 1 0.5 1.2 0.5 1.2 0.5 1.4 0.5 1.4 0.5 1.4 0.5 1.1 0.5 0.7 0.5 0.7 0.5 0.2 0.5 0.3 0.5-0.1 0.5 0.1 0.5 0 0.5 0.2 0.5-0.2 0.5-0.1 0.5 0 0.5 0.1 0.5 0 0.5-0.1 0.5 0.2 0.5 0.1 0.5 0 0.5 0 0.5 0.3 0.5 0.6 0.5 0.7 0.5 0.4 0.5 0.6 0.5 0.3 0.5 0.7 0.5 0.6 0.5 0.8 0.5 0.7 0.5 0.9 0.5 1 0.5 0.9 0.5 0.9 0.5 1 0.5 1.2 0.5 1.3 0.5 1.3 0.5 1.5 0.5 1.4 0.5 1.1 0.5 1.4 0.5 1.4 0.5 1.6 0.5 1.2 0.5 1.1 0.5 1.3 0.5 1.2 0.5 1.3 0.5 1.1 0.5 1.2 0.5 1.2 0.5 1.1 0.5 0.8 0.5 1 0.5 1 0.5 1.2 0.5 1 0.5 0.8 0.5 0.8 0.5 0.8 0.5 0.8 0.5 0.7 0.5 0.6 0.5 0.7 0.5 0.7 0.5 0.8 0.5 0.5 0.5 0.5 0.5 0.4 0.5 0.4 0.5 0.3 0.5 0.4 0.5 0.5 0.5 0.6 0.5 0.6 0.5 0.3 0.5 0.2 0.5 0.2 0.5 0.4 0.5 0.4 0.5 0.2 0.5 0.3 0.5 0.1 0.5 0.3 0.5 0.2 0.5 0.2 0.5 0.2 0.5 0 0.5 0.1 0.5 0 0.5 0.1 0.5-0.1 0.5 0 0.5 0.1 0.5-0.1 0.5 0.1 0.5 0.1 0.5 0 0.5-0.2 0.5-0.2 0.5-0.1 0.5-0.2 0.5-0.2 0.5-0.3 0.5 0 0.5-0.1 0.5 0 0.5-0.3 0.5-0.5 0.5-0.4 0.5-0.4 0.5-0.1 0.5-0.6 0.5-0.5 0.5-0.5 0.5-0.4 0.5-0.7 0.5-0.7 0.5-0.8 0.5-0.5 0.5-0.6 0.5-0.4 0.5-0.7 0.5-0.6 0.5-0.6 0.5-0.8 0.5-0.8 0.5-1.1 0.5-0.9 0.5-1 0.5-0.7 0.5-1 0.5-0.8 0.5-1 0.5-1.1 0.5-0.9 0.5-1.1 0.5-0.9 0.5-0.9 0.5-0.8 0.5-0.7 0.5-0.8 0.5-0.9 0.5-0.6 0.5-0.7 0.5-0.7 0.5-0.8 0.5-1 0.5-0.7 0.5-1 0.5-0.9 0.5-0.9 0.5-1 0.5-1.1 0.5-1.3 0.5-1.4 0.5-2.4 0.5-3.4 0.5-3.8 0.5-3.5 0.5-3 0.5-1.8 0.5-1.4 0.5-0.9 0.5-0.9 0.5-0.8 0.5-1 0.5-0.7 0.5 0.1 0.5 0.3 0.5 0.3 0.5 0.6 0.5 0.8 0.5 0.8 0.5 0.7 0.5 0.8 0.5 1 0.5 1 0.5 0.9 0.5 1 0.5 1.1 0.5 1.2 0.5 1.4 0.5 1.2 0.5 1.2 0.5 0.9 0.5 1.1 0.5 0.5 0.5 0.8 0.5 0.8 0.5 0.9 0.5 0.5 0.5 0.1 0.5 0.3 0.5 0.5 0.5 0.5 0.5 0.1 0.5-0.2 0.5-0.1 0.5-0.3 0.5-0.2 0.5-0.3 0.5-0.2 0.5-0.3 0.5-0.5 0.5-0.7 0.5-0.7 0.5-0.6 0.5-0.6 0.5-0.7 0.5-0.6 0.5-0.8 0.5-0.5 0.5-0.7 0.5-0.7 0.5-1 0.5-0.9 0.5-1.2 0.5-0.9 0.5-0.8 0.5-0.6 0.5-0.6 0.5-0.6 0.5-0.5 0.5-0.6 0.5-0.6 0.5-0.5 0.5-0.4 0.5-0.4 0.5-0.3 0.5-0.4 0.5-0.4 0.5-0.5 0.5-0.5 0.5-0.6 0.5-0.5 0.5-0.4 0.5-0.3 0.5-0.4 0.5-0.4 0.5-0.3 0.5-0.5 0.5-0.3 0.5-0.4 0.5-0.3 0.5-0.4 0.5-0.2 0.5-0.3 0.5-0.3 0.5-0.3 0.5-0.4 0.5-0.3 0.5-0.3 0.5-0.4 0.5-0.5 0.5-0.6 0.5-0.4 0.5-0.4 0.5-0.3 0.5-0.5 0.5-0.3 0.5-0.5 0.5-0.5 0.5-0.8 0.5-0.4 0.5-0.4 0.5-0.4 0.5-0.5 0.5-0.4 0.5-0.4 0.5-0.5 0.5-0.6 0.5-0.5 0.5-0.6 0.5-0.5 0.5-0.5 0.5-0.7 0.5-0.4 0.5-0.7 0.5-0.6 0.5-0.8 0.5-0.6 0.5-0.6 0.5-0.6 0.5-0.5 0.5-0.7 0.5-0.6 0.5-0.7 0.5-0.6 0.5-0.8 0.5-0.7 0.5-0.9 0.5-0.9 0.5-0.9 0.5-0.6 0.5-0.7 0.5-0.7 0.5-0.7 0.5-0.5 0.5-0.8 0.5-0.7 0.5-0.5 0.5-0.5 0.5-0.4 0.5-0.5 0.5 0 0.5-0.1 0.5 0.2 0.5-0.1 0.5 0.3 0.5 0.2 0.5 0.5 0.5 0.4 0.5 0.6 0.5 0.4 0.5 0.5 0.5 0.4 0.5 0.5 0.5 0.4 0.5 0.4 0.5 0.4 0.5 0.8 0.5 0.6 0.5 0.6 0.5 0.7 0.5 0.9 0.5 1.2 0.5 0.9 0.5 0.9 0.5 0.9 0.5 1.1 0.5 0.9 0.5 1.2 0.5 1.3 0.5 1.5 0.5 1.3 0.5 1.6 0.5 1.7 0.5 1.8 0.5 1.7 0.5 1.8 0.5 1.5 0.5 1.6 0.5 1.5 0.5 1.2 0.5 1.5 0.5 1.5 0.5 1.6 0.5 1 0.5 1.3 0.5 1.2 0.5 1.3 0.5 1 0.5 1.3 0.5 1.1 0.5 0.9 0.5 0.5 0.5 0.6 0.5 0.4 0.5 0.5 0.5 0.2 0.5 0.5 0.5 0 0.5 0.1 0.5-0.1 0.5 0.1 0.5-0.1 0.5-0.2 0.5-0.1 0.5 0 0.5-0.2 0.5-0.2 0.5-0.3 0.5-0.4 0.5-0.7 0.5-0.6 0.5-0.6 0.5-0.5 0.5-0.9 0.5-0.9 0.5-1.1 0.5-0.9 0.5-0.7 0.5-0.7 0.5-0.9 0.5-1.3 0.5-1.4 0.5-1.1 0.5-1.2 0.5-1.3 0.5-1.8 0.5-1.9 0.5-1.9 0.5-1.8 0.5-2 0.5-2.5 0.5-3.1 0.5-4.3 0.5-5.6 0.5-4.3 0.5-5.2 0.5-6.5 0.5-7.2 0.5-7.2 0.5-7.5 0.5-3.8 0.5-0.5 0.5-0.1 0.5 0.4 0.5 0.4 0.5 0.2 0.5 0.6 0.5 1 0.5 1.8 0.5 2 0.5 2.2 0.5 2.3 0.5 2 0.5 2.4 0.5 0.9 0.5 0.1 0.5-0.3 0.5-0.3 0.5-0.2 0.5-0.6 0.5-1.4 0.5-1.9 0.5-1.8 0.5-2.1 0.5-2 0.5-1.6 0.5-1.3 0.5-1.3 0.5-1.4 0.5-1.9 0.5-2.3 0.5-2.1 0.5-2.2 0.5-2.1 0.5-2.1 0.5-2.1 0.5-2 0.5-2.1 0.5-2 0.5-2.2 0.5-2.3 0.5-2 0.5-2.5 0.5-2.5 0.5-3 0.5-2.9 0.5-3.3 0.5-3.4 0.5-3.9 0.5-3.9 0.5-4.2 0.5-3.8 0.5-3.5 0.5-2.9 0.5-2.4 0.5-1.8 0.5-1 0.5-0.5 0.5 1.6 0.5 1.9 0.5 1.8 0.5 1.9 0.5 2 0.5 2.2 0.5 2.2 0.5 2.2 0.5 2.2 0.5 2.2 0.5 2.1 0.5 1.9 0.5 2 0.5 2.2 0.5 2.1 0.5 2.2 0.5 2 0.5 2.2 0.5 2.3 0.5 2.4 0.5 2.2 0.5 2.2 0.5 2 0.5 2 0.5 1.9 0.5 2.1 0.5 2 0.5 2 0.5 2.1 0.5 2.2 0.5 2 0.5 2.3 0.5 2.1 0.5 2.4 0.5 2.2 0.5 1.9 0.5 1.6 0.5 1.3 0.5 1.3 0.5 1.2 0.5 1.2 0.5 1.2 0.5 0.9 0.5 1 0.5 0.7 0.5 1 0.5 0.8 0.5 1.1 0.5 0.9 0.5 1 0.5 0.9 0.5 0.8 0.5 0.9 0.5 0.9 0.5 0.9 0.5 0.9 0.5 1 0.5 0.8 0.5 1 0.5 0.7 0.5 1.1 0.5 0.8 0.5 0.8 0.5 0.7 0.5 0.9 0.5 0.9 0.5 0.7 0.5 0.6 0.5 0.5 0.5 0.9 0.5 0.6 0.5 0.7 0.5 0.7 0.5 0.7 0.5 0.7 0.5 0.4 0.5 0.6 0.5 0.5 0.5 0.6 0.5 0.6 0.5 0.5 0.5 0.6 0.5 0.5 0.5 0.6 0.5 0.7 0.5 0.7 0.5 0.7 0.5 0.5 0.5 0.6 0.5 0.5 0.5 0.6 0.5 0.6 0.5 0.6 0.5 0.5 0.5 0.5 0.5 0.4 0.5 0.5 0.5 0.7 0.5 0.9 0.5 0.4 0.5 0.6 0.5 0.3 0.5 0.5 0.5 0.4 0.5 0.6 0.5 0.6 0.5 0.6 0.5 0.6 0.5 0.5 0.5 0.4 0.5 0.6 0.5 0.7 0.5 0.6 0.5 0.3 0.5 0.7 0.5 0.6 0.5 0.8 0.5 0.3 0.5 0.7 0.5 0.5 0.5 0.8 0.5 0.8 0.5 0.8 0.5 0.8 0.5 0.6 0.5 0.7 0.5 0.6 0.5 0.4 0.5 0.3 0.5 0.7 0.5 0.8 0.5 0.8 0.5 0.5 0.5 0.6 0.5 0.3 0.5 0.6 0.5 0.6 0.5 0.6 0.5 0.5 0.5 0.7 0.5 0.5 0.5 0.5 0.5 0.3 0.5 0.3 0.5 0.1 0.5 0.3 0.5 0.1 0.5 0.2 0.5 0.2 0.5 0.1 0.5 0.3 0.5-0.2 0.5 0.2 0.5 0 0.5 0.1 0.5-0.1 0.5 0 0.5 0 0.5 0 0.5 0.1 0.5-0.1 0.5-0.2 0.5-0.3 0.5-0.3 0.5-0.4 0.5-0.2 0.5-0.5 0.5-0.2 0.5-0.2 0.5-0.1 0.5-0.2 0.5 0 0.5 0.7 0.5 0.6 0.5 0.4 0.5 0.5 0.5 0.7 0.5 0.7 0.5 0.7 0.5 0.5 0.5 0.7 0.5 0.7 0.5 0.7 0.5 0.5 0.5 0.7 0.5 0.6 0.5 0.7 0.5 0.3 0.5 0.5 0.5 0.5 0.5 0.6 0.5 0.2 0.5 0.2 0.5 0.1 0.5 0.3 0.5 0.2 0.5 0.4 0.5 0.3 0.5 0.2 0.5 0.1 0.5 0 0.5 0 0.5-0.1 0.5 0.1 0.5 0.4 0.5 0.3 0.5 0.3 0.5 0 0.5-0.1 0.5 0 0.5 0 0.5 0.4 0.5 0.1 0.5 0 0.5-0.2 0.5 0.1 0.5 0.2 0.5 0.1 0.5-0.1 0.5 0.1 0.5 0 0.5 0.2 0.5 0.1 0.5 0.1 0.5 0.2 0.5 0 0.5 0 0.5-0.2 0.5-0.1 0.5 0.2 0.5 0.2 0.5 0.2 0.5 0 0.5 0 0.5-0.1 0.5 0 0.5 0 0.5 0.2 0.5 0.1 0.5 0.1 0.5 0 0.5-0.1 0.5-0.2 0.5 0 0.5 0.2 0.5 0 0.5 0 0.5 0 0.5 0 0.5 0.1 0.5 0 0.5-0.1 0.5-0.1 0.5 0 0.5-0.1 0.5 0 0.5 0.1 0.5-0.1 0.5 0 0.5 0 0.5 0.1 0.5 0 0.5 0 0.5-0.1 0.5-0.2 0.5 0 0.5 0.1 0.5 0.1 0.5 0 0.5 0.2 0.5 0 0.5 0.4 0.5 0 0.5 0.1 0.5-0.2 0.5 0 0.5 0.4 0.5-0.1 0.5 0.2 0.5 0 0.5 0.3 0.5 0.2 0.5 0.3 0.5 0.2 0.5 0 0.5 0.2 0.5 0 0.5 0.2 0.5 0.1 0.5 0.1 0.5 0.1 0.5 0.1 0.5 0.5 0.5 0.2 0.5 0.2 0.5-0.1 0.5 0.1 0.5 0.1 0.5 0.3 0.5 0 0.5 0.1 0.5 0.2 0.5 0 0.5 0.4 0.5-0.1 0.5 0.1 0.5 0 0.5 0.2 0.5 0.3 0.5 0 0.5-0.1 0.5 0 0.5 0 0.5 0.2 0.5 0.1 0.5 0.1 0.5 0 0.5-0.2 0.5-0.1 0.5 0.1 0.5 0.2 0.5 0.1 0.5-0.1 0.5 0 0.5 0 0.5 0 0.5 0.1 0.5 0.1 0.5 0.1 0.5-0.1 0.5 0 0.5 0 0.5 0.3 0.5 0.1 0.5 0.1 0.5-0.1 0.5 0.3 0.5 0.3 0.5 0.1 0.5 0 0.5 0 0.5 0.3 0.5 0 0.5 0.3 0.5 0.1 0.5 0.3 0.5 0 0.5-0.1 0.5-0.1 0.5 0.1 0.5 0 0.5-0.1 0.5 0 0.5-0.2 0.5-0.3 0.5 0 0.5-0.2 0.5-0.1 0.5-0.2 0.5-0.3 0.5-0.4 0.5-0.5 0.5-0.2 0.5-0.4 0.5-0.5 0.5-0.6 0.5-0.8 0.5-0.9 0.5-1.1 0.5-1 0.5-1.3 0.5-1.2 0.5-1 0.5-0.7 0.5-0.4 0.5 0.7 0.5 0.5 0.5 0.6 0.5 0.8 0.5 1.1 0.5 0.8 0.5 0.9 0.5 1 0.5 1 0.5 0.7 0.5 0.6 0.5 0.4 0.5 0.4 0.5 0.1 0.5 0.6 0.5 0 0.5 0.1 0.5-0.1 0.5 0.1 0.5 0 0.5-0.1 0.5-0.3 0.5-0.1 0.5-0.2 0.5 0.1 0.5-0.1 0.5 0 0.5-0.3 0.5-0.3 0.5 0 0.5-0.3 0.5-0.1 0.5-0.3 0.5 0.1 0.5-0.1 0.5-0.2 0.5-0.2 0.5 0 0.5-0.3 0.5-0.2 0.5-0.5 0.5-0.2 0.5-0.4 0.5-0.3 0.5-0.2 0.5-0.2 0.5-0.1 0.5-0.5 0.5-0.2 0.5-0.3 0.5 0.2 0.5-0.3 0.5 0.2 0.5-0.1 0.5 0.1 0.5 0.2 0.5 0.4 0.5 0.5 0.5 0.1 0.5 0.2 0.5 0.2 0.5 0.2 0.5 0.2 0.5 0.2 0.5 0.4 0.5 0.3 0.5 0.3 0.5 0 0.5 0.2 0.5 0.3 0.5 0.3 0.5 0 0.5 0 0.5 0.3 0.5 0.4 0.5 0 0.5 0 0.5-0.1 0.5-0.2 0.5 0.5 0.5-0.1 0.5 0.2 0.5-0.4 0.5 0.3 0.5 0.3 0.5 0 0.5 0.1 0.5-0.1 0.5 0.5 0.5-0.1 0.5 0 0.5-0.1 0.5-0.1 0.5-0.1 0.5-0.2 0.5 0.1 0.5 0 0.5 0 0.5 0.4 0.5 0.1 0.5-0.1 0.5-0.3 0.5 0 0.5-0.2 0.5 0.1 0.5-0.4 0.5 0 0.5 0.1 0.5-0.1 0.5 0.2 0.5 0.1 0.5 0.5 0.5-0.1 0.5-0.5 0.5-0.5 0.5-0.1 0.5 0.4 0.5 0.2 0.5 0.3 0.5-0.5 0.5-0.1 0.5-0.2 0.5 0.1 0.5-0.1 0.5 0.2 0.5-0.1 0.5-0.3 0.5-0.7 0.5 0.3 0.5 0.1 0.5-0.4 0.5-0.4 0.5-0.1 0.5 0.1 0.5-0.5 0.5 0 0.5 0.2 0.5-0.1 0.5-0.3 0.5 0 0.5 0.1 0.5-0.3 0.5-0.2 0.5 0.2 0.5 0.5 0.5 0.3 0.5 0 0.5-0.6 0.5-0.5 0.5-0.8 0.5 0.1 0.5 0 0.5 0.4 0.5 0.2 0.5 0.4 0.5-0.3 0.5-0.1 0.5-0.2 0.5 0.3 0.5-0.3 0.5 0.3 0.5 0.3 0.5 0.8 0.5-0.8 0.5-0.5 0.5-0.7 0.5 0.4 0.5 0.7 0.5 0.7 0.5-0.4 0.5-0.6 0.5-0.1 0.5 0.6 0.5 0.8 0.5 0.3 0.5-0.3 0.5-0.4 0.5 0.3 0.5 0.5 0.5 0.6 0.5-0.3 0.5 0.7 0.5 0.3 0.5 0.3 0.5-0.6 0.5 0.6 0.5-0.4 0.5 0.4 0.5-0.6 0.5 0.2 0.5-0.3 0.5-0.1 0.5-0.2 0.5 0.2 0.5 0.1 0.5-0.2 0.5-0.2 0.5 0.5 0.5 0.1 0.5-0.5 0.5-0.9 0.5 0 0.5 0.9 0.5-0.2 0.5 0.3 0.5-0.7 0.5 0 0.5-0.7 0.5 0.3 0.5 0 0.5 0.5 0.5 0.2 0.5-0.3 0.5-1.2 0.5-1.5 0.5 0.3 0.5 0 0.5 0.3 0.5-0.7 0.5 0.7 0.5 0.3 0.5 0.3 0.5-1.4 0.5-0.8 0.5-0.5 0.5 0.4 0.5 0.2 0.5 0.4 0.5 0.1 0.5-0.1 0.5-0.9 0.5-0.6 0.5-0.8 0.5-0.2 0.5-0.7 0.5-0.2 0.5-0.1 0.5 0.4 0.5 0.1 0.5-0.9 0.5-0.1 0.5 0 0.5 1.3 0.5 0.4 0.5 0.1 0.5-0.4 0.5 0.4 0.5 0.4 0.5 1.1 0.5 0.4 0.5 1.1 0.5 0 0.5 0.1 0.5-0.4 0.5 1.2 0.5 0.9 0.5 0.9 0.5 1 0.5-0.2 0.5 0.3 0.5-1.9 0.5 0.2 0.5 0 0.5 0.3 0.5 0.9 0.5-1 0.5-0.6 0.5-1.9 0.5 0.3 0.5-0.1 0.5 0.7 0.5-0.1 0.5 1.2 0.5 0.5 0.5 1.5 0.5 0.8 0.5 1.2 0.5 1.1 0.5 1.2 0.5 1.7 0.5 0 0.5 1.5 0.5 0.5 0.5 1.9 0.5 0.1 0.5-0.2 0.5 0.2"/>
<path d="M179.5,583.4l0.5-0.1 0.5-0.1 0.5-0.1 0.5-0.2 0.5 0 0.5 0 0.5 0 0.5-0.2 0.5 0 0.5-0.1 0.5-0.1 0.5-0.2 0.5-0.1 0.5 0 0.5-0.2 0.5 0 0.5-0.1 0.5 0 0.5-0.2 0.5-0.2 0.5 0 0.5 0.1 0.5 0 0.5-0.1 0.5-0.3 0.5 0 0.5 0.1 0.5 0 0.5 0 0.5-0.2 0.5 0 0.5-0.1 0.5 0.1 0.5-0.1 0.5 0 0.5 0 0.5 0 0.5 0.1 0.5 0 0.5 0.1 0.5-0.2 0.5-0.1 0.5-0.1 0.5 0.1 0.5-0.1 0.5-0.2 0.5-0.1 0.5-0.1 0.5 0.1 0.5 0.1 0.5-0.1 0.5-0.1 0.5 0 0.5 0 0.5 0 0.5-0.1 0.5 0.1 0.5-0.1 0.5-0.1 0.5 0 0.5 0 0.5 0.1 0.5 0 0.5 0 0.5 0.1 0.5-0.1 0.5 0.2 0.5-0.2 0.5-0.2 0.5-0.2 0.5-0.1 0.5 0.2 0.5 0.1 0.5-0.2 0.5-0.1 0.5 0 0.5 0.2 0.5 0.1 0.5-0.2 0.5-0.1 0.5-0.1 0.5 0 0.5 0.2 0.5 0.1 0.5 0.1 0.5-0.2 0.5-0.2 0.5-0.3 0.5 0.1 0.5 0.1 0.5 0 0.5 0 0.5 0 0.5 0.1 0.5 0 0.5-0.1 0.5-0.1 0.5 0 0.5 0.1 0.5 0.1 0.5-0.2 0.5-0.1 0.5-0.1 0.5-0.1 0.5 0.1 0.5 0 0.5 0 0.5 0 0.5 0 0.5 0.3 0.5-0.1 0.5-0.1 0.5-0.2 0.5 0.2 0.5-0.1 0.5 0.1 0.5-0.2 0.5 0.1 0.5 0 0.5 0.1 0.5 0 0.5-0.2 0.5-0.2 0.5 0.1 0.5 0.1 0.5 0.1 0.5-0.2 0.5-0.2 0.5-0.1 0.5 0.3 0.5 0.2 0.5 0 0.5-0.2 0.5-0.4 0.5-0.1 0.5 0.1 0.5 0.3 0.5-0.1 0.5 0.1 0.5-0.2 0.5 0.1 0.5-0.2 0.5 0 0.5-0.2 0.5 0 0.5 0 0.5-0.1 0.5 0.1 0.5-0.1 0.5 0 0.5-0.1 0.5 0.1 0.5 0.1 0.5 0 0.5 0.1 0.5-0.3 0.5 0 0.5-0.1 0.5-0.1 0.5 0.1 0.5-0.1 0.5 0.1 0.5 0.1 0.5 0.1 0.5 0.1 0.5-0.1 0.5-0.1 0.5 0 0.5 0 0.5-0.2 0.5 0.1 0.5 0 0.5 0 0.5-0.2 0.5-0.3 0.5 0 0.5 0 0.5 0.2 0.5 0 0.5 0 0.5 0.1 0.5 0 0.5-0.1 0.5-0.1 0.5-0.1 0.5 0 0.5 0.1 0.5 0 0.5 0 0.5 0.1 0.5 0 0.5-0.1 0.5-0.3 0.5-0.1 0.5 0 0.5 0.2 0.5 0 0.5 0.1 0.5 0 0.5 0 0.5-0.3 0.5-0.2 0.5-0.2 0.5 0.2 0.5 0.1 0.5 0.2 0.5 0 0.5 0.1 0.5-0.2 0.5-0.2 0.5 0 0.5-0.1 0.5-0.1 0.5 0.1 0.5 0.2 0.5-0.1 0.5-0.2 0.5-0.3 0.5 0 0.5-0.1 0.5 0.1 0.5 0.2 0.5 0 0.5 0.1 0.5-0.2 0.5 0 0.5-0.1 0.5 0.2 0.5-0.1 0.5-0.3 0.5-0.1 0.5 0.1 0.5 0.1 0.5-0.1 0.5 0 0.5-0.1 0.5 0 0.5-0.1 0.5-0.1 0.5 0 0.5-0.1 0.5 0 0.5 0.1 0.5 0 0.5 0.2 0.5 0.1 0.5-0.1 0.5-0.2 0.5-0.3 0.5-0.1 0.5 0.1 0.5 0.1 0.5 0.1 0.5-0.1 0.5 0 0.5 0.1 0.5-0.2 0.5-0.3 0.5-0.1 0.5 0 0.5 0 0.5 0 0.5 0 0.5 0 0.5 0 0.5-0.1 0.5 0.1 0.5-0.1 0.5 0 0.5 0 0.5 0.1 0.5-0.2 0.5 0 0.5-0.1 0.5-0.1 0.5 0.1 0.5-0.2 0.5 0.2 0.5-0.1 0.5-0.2 0.5-0.3 0.5-0.2 0.5 0 0.5 0.1 0.5 0.1 0.5 0 0.5-0.1 0.5-0.1 0.5 0 0.5 0 0.5 0.2 0.5-0.1 0.5 0 0.5-0.3 0.5-0.1 0.5 0.1 0.5-0.2 0.5 0.2 0.5-0.2 0.5 0 0.5-0.1 0.5 0.1 0.5 0.1 0.5-0.3 0.5 0 0.5-0.1 0.5 0.2 0.5-0.1 0.5-0.1 0.5-0.3 0.5 0 0.5-0.2 0.5 0.1 0.5 0.1 0.5-0.1 0.5 0 0.5-0.3 0.5 0 0.5-0.3 0.5-0.1 0.5 0 0.5 0.2 0.5 0.1 0.5-0.1 0.5-0.1 0.5-0.2 0.5-0.2 0.5-0.2 0.5 0 0.5 0 0.5-0.2 0.5-0.1 0.5-0.1 0.5 0.1 0.5-0.2 0.5-0.1 0.5-0.3 0.5-0.1 0.5 0 0.5 0.1 0.5-0.2 0.5 0.1 0.5-0.3 0.5 0.1 0.5-0.2 0.5 0 0.5 0 0.5-0.1 0.5 0 0.5-0.3 0.5-0.1 0.5 0 0.5 0 0.5 0 0.5-0.2 0.5-0.3 0.5-0.3 0.5-0.2 0.5-0.1 0.5-0.1 0.5-0.1 0.5-0.1 0.5-0.1 0.5-0.2 0.5-0.3 0.5-0.1 0.5-0.4 0.5 0 0.5-0.1 0.5 0 0.5-0.3 0.5-0.2 0.5-0.2 0.5-0.2 0.5-0.2 0.5-0.2 0.5-0.3 0.5-0.3 0.5-0.1 0.5-0.2 0.5-0.3 0.5-0.2 0.5-0.3 0.5-0.2 0.5-0.3 0.5-0.3 0.5-0.2 0.5-0.4 0.5-0.2 0.5-0.3 0.5-0.2 0.5-0.5 0.5-0.2 0.5-0.6 0.5-0.4 0.5-0.7 0.5-0.6 0.5-0.4 0.5-0.5 0.5-0.3 0.5-0.3 0.5-0.5 0.5-0.5 0.5-0.7 0.5-0.7 0.5-0.4 0.5-0.6 0.5-0.6 0.5-0.8 0.5-0.9 0.5-0.9 0.5-0.8 0.5-0.8 0.5-0.6 0.5-0.8 0.5-0.7 0.5-0.9 0.5-0.8 0.5-0.8 0.5-1.2 0.5-1 0.5-1 0.5-0.7 0.5-1 0.5-1 0.5-1.1 0.5-1.1 0.5-0.8 0.5-1 0.5-1 0.5-1.2 0.5-1 0.5-1.1 0.5-1 0.5-1 0.5-0.9 0.5-0.9 0.5-0.9 0.5-1.1 0.5-0.8 0.5-0.7 0.5-0.6 0.5-0.5 0.5-0.7 0.5-0.6 0.5-0.5 0.5-0.4 0.5-0.7 0.5-0.7 0.5-0.3 0.5-0.2 0.5-0.3 0.5 0.3 0.5 0.5 0.5 0.8 0.5 0.5 0.5 0.7 0.5 1 0.5 1.3 0.5 1.2 0.5 1.5 0.5 1.7 0.5 1.9 0.5 1.5 0.5 1 0.5 0.8 0.5 0.6 0.5 0.3 0.5 0.1 0.5-0.1 0.5 0 0.5-0.2 0.5-0.1 0.5 0 0.5-0.1 0.5 0.2 0.5 0.1 0.5 0.1 0.5-0.3 0.5-0.1 0.5-0.3 0.5 0 0.5 0.1 0.5 0.2 0.5 0.6 0.5 0.8 0.5 0.7 0.5 0.7 0.5 0.5 0.5 0.7 0.5 0.9 0.5 0.9 0.5 1 0.5 0.9 0.5 1.1 0.5 1 0.5 1.2 0.5 1.1 0.5 1.3 0.5 1.4 0.5 1.6 0.5 1.5 0.5 1.7 0.5 1.2 0.5 1.6 0.5 1.3 0.5 1.8 0.5 1.4 0.5 1.5 0.5 1.4 0.5 1.6 0.5 1.3 0.5 1.3 0.5 1.3 0.5 1.6 0.5 1.5 0.5 1.5 0.5 1.1 0.5 1.1 0.5 1 0.5 1.2 0.5 1.1 0.5 1.1 0.5 1 0.5 1.1 0.5 1 0.5 1.1 0.5 0.6 0.5 0.8 0.5 0.5 0.5 0.8 0.5 0.8 0.5 0.7 0.5 0.9 0.5 0.5 0.5 0.7 0.5 0.4 0.5 0.4 0.5 0.6 0.5 0.5 0.5 0.4 0.5 0.1 0.5 0.5 0.5 0.6 0.5 0.4 0.5 0.3 0.5 0.2 0.5 0.3 0.5 0.3 0.5 0.2 0.5 0.1 0.5 0.3 0.5 0.2 0.5 0.3 0.5 0.2 0.5 0.1 0.5-0.1 0.5-0.1 0.5 0.1 0.5 0.1 0.5 0.1 0.5-0.1 0.5 0.1 0.5-0.2 0.5-0.1 0.5-0.3 0.5 0 0.5-0.2 0.5 0 0.5-0.1 0.5-0.3 0.5-0.3 0.5-0.3 0.5-0.2 0.5-0.5 0.5-0.3 0.5-0.4 0.5-0.4 0.5-0.5 0.5-0.5 0.5-0.5 0.5-0.7 0.5-0.5 0.5-0.5 0.5-0.5 0.5-0.8 0.5-0.8 0.5-0.7 0.5-0.7 0.5-0.6 0.5-0.8 0.5-0.9 0.5-1.1 0.5-1 0.5-1 0.5-1.2 0.5-1.2 0.5-1.2 0.5-1 0.5-1.1 0.5-1.1 0.5-1.2 0.5-1.1 0.5-1.1 0.5-1 0.5-1.2 0.5-1.1 0.5-1 0.5-1.1 0.5-1.2 0.5-1.2 0.5-1.1 0.5-1.2 0.5-1.2 0.5-1.3 0.5-1.4 0.5-1.3 0.5-1.4 0.5-1.7 0.5-2.1 0.5-2.9 0.5-3.4 0.5-3.7 0.5-3.7 0.5-3.3 0.5-2.3 0.5-1.9 0.5-1.5 0.5-1.4 0.5-1.2 0.5-1.1 0.5-0.9 0.5 0.2 0.5 0.3 0.5 0.4 0.5 0.4 0.5 0.8 0.5 1 0.5 0.8 0.5 1 0.5 1 0.5 1.3 0.5 0.9 0.5 1.4 0.5 1.4 0.5 1.8 0.5 1.7 0.5 1.8 0.5 1.6 0.5 1.5 0.5 1.2 0.5 1.1 0.5 0.8 0.5 0.8 0.5 0.8 0.5 0.8 0.5 0.5 0.5 0.7 0.5 0.5 0.5 0.5 0.5 0.1 0.5 0.1 0.5 0 0.5 0 0.5-0.2 0.5-0.6 0.5-0.3 0.5-0.5 0.5-0.2 0.5-0.7 0.5-0.7 0.5-0.7 0.5-0.7 0.5-0.7 0.5-0.7 0.5-0.9 0.5-0.8 0.5-0.8 0.5-0.9 0.5-1.3 0.5-1.5 0.5-1.5 0.5-1.2 0.5-0.9 0.5-0.9 0.5-0.9 0.5-1.1 0.5-0.5 0.5-0.6 0.5-0.4 0.5-0.8 0.5-0.7 0.5-0.7 0.5-0.6 0.5-0.7 0.5-0.4 0.5-0.4 0.5-0.3 0.5-0.7 0.5-0.6 0.5-0.8 0.5-0.6 0.5-0.5 0.5-0.4 0.5-0.2 0.5-0.2 0.5-0.4 0.5-0.5 0.5-0.5 0.5-0.3 0.5-0.3 0.5-0.4 0.5-0.3 0.5-0.5 0.5-0.5 0.5-0.5 0.5-0.5 0.5-0.6 0.5-0.5 0.5-0.5 0.5-0.5 0.5-0.7 0.5-0.6 0.5-0.7 0.5-0.5 0.5-0.7 0.5-0.6 0.5-0.4 0.5-0.6 0.5-0.8 0.5-0.6 0.5-0.6 0.5-0.5 0.5-0.8 0.5-0.5 0.5-0.7 0.5-0.7 0.5-0.8 0.5-0.7 0.5-0.7 0.5-0.5 0.5-0.6 0.5-0.6 0.5-0.8 0.5-0.8 0.5-0.9 0.5-0.9 0.5-0.9 0.5-0.9 0.5-0.9 0.5-0.7 0.5-0.9 0.5-0.9 0.5-1 0.5-0.7 0.5-0.8 0.5-0.9 0.5-1.1 0.5-1.2 0.5-1.1 0.5-1 0.5-0.9 0.5-0.9 0.5-0.9 0.5-0.7 0.5-0.6 0.5-0.7 0.5-0.5 0.5-0.5 0.5 0 0.5-0.2 0.5 0.1 0.5 0.2 0.5 0.4 0.5 0.5 0.5 0.4 0.5 0.4 0.5 0.5 0.5 0.6 0.5 0.6 0.5 0.8 0.5 0.4 0.5 0.5 0.5 0.6 0.5 0.8 0.5 0.8 0.5 1 0.5 1 0.5 1 0.5 0.9 0.5 1.2 0.5 1.2 0.5 1.3 0.5 1.2 0.5 1.4 0.5 1.4 0.5 1.4 0.5 1.5 0.5 1.6 0.5 1.8 0.5 2 0.5 1.9 0.5 1.8 0.5 1.9 0.5 2.1 0.5 2.2 0.5 2.1 0.5 2.1 0.5 2.1 0.5 1.7 0.5 1.7 0.5 1.7 0.5 1.8 0.5 1.9 0.5 1.8 0.5 1.6 0.5 1.9 0.5 1.9 0.5 1.7 0.5 1.5 0.5 1.1 0.5 0.9 0.5 0.4 0.5 0.6 0.5 0.4 0.5 0.5 0.5 0.3 0.5 0.1 0.5 0 0.5 0.1 0.5 0.1 0.5-0.2 0.5-0.2 0.5-0.4 0.5-0.1 0.5-0.3 0.5-0.4 0.5-0.3 0.5-0.8 0.5-0.6 0.5-1.1 0.5-0.7 0.5-0.9 0.5-0.7 0.5-0.9 0.5-1.3 0.5-1.4 0.5-1.5 0.5-1.2 0.5-1.4 0.5-1.7 0.5-2 0.5-2 0.5-1.8 0.5-2.4 0.5-2.8 0.5-3 0.5-2.9 0.5-2.9 0.5-3.6 0.5-4.6 0.5-6.5 0.5-8.7 0.5-5.9 0.5-6.4 0.5-6.9 0.5-7.9 0.5-7.4 0.5-6.7 0.5-3.3 0.5-1 0.5-0.4 0.5 0.4 0.5 0.5 0.5 0.7 0.5 0.9 0.5 1.7 0.5 2.1 0.5 2.3 0.5 2.6 0.5 2.6 0.5 2.9 0.5 3.2 0.5 1.6 0.5-0.2 0.5 0.2 0.5-0.1 0.5-0.1 0.5-0.8 0.5-2.2 0.5-2.7 0.5-2.7 0.5-2.9 0.5-2.8 0.5-2 0.5-1.8 0.5-1.4 0.5-2.1 0.5-2.5 0.5-3.3 0.5-2.9 0.5-2.6 0.5-2.7 0.5-2.8 0.5-2.8 0.5-2.9 0.5-2.7 0.5-2.9 0.5-2.8 0.5-2.8 0.5-2.8 0.5-3.1 0.5-3.2 0.5-3.4 0.5-3.8 0.5-4.1 0.5-4.6 0.5-4.4 0.5-4.5 0.5-4.6 0.5-4.5 0.5-4.1 0.5-3.4 0.5-2.9 0.5-2.2 0.5-1.6 0.5-1 0.5 2.3 0.5 2.7 0.5 2.6 0.5 2.6 0.5 2.5 0.5 2.3 0.5 2.6 0.5 2.5 0.5 2.5 0.5 2.5 0.5 2.2 0.5 2.1 0.5 2.1 0.5 2.3 0.5 2.6 0.5 2.5 0.5 2.6 0.5 2.7 0.5 2.6 0.5 2.7 0.5 2.4 0.5 2.5 0.5 2.5 0.5 2.7 0.5 2.5 0.5 2.6 0.5 2.5 0.5 2.5 0.5 2.7 0.5 2.6 0.5 2.7 0.5 2.7 0.5 3.4 0.5 3.6 0.5 3.2 0.5 2.4 0.5 1.7 0.5 1.6 0.5 1.7 0.5 1.8 0.5 1.6 0.5 1.3 0.5 1.3 0.5 1.4 0.5 1.1 0.5 1.2 0.5 1.2 0.5 1.1 0.5 1.1 0.5 1 0.5 1.2 0.5 1.1 0.5 1.4 0.5 1.2 0.5 1.1 0.5 1 0.5 1.2 0.5 1.4 0.5 1.4 0.5 1.1 0.5 1.1 0.5 1.3 0.5 1.2 0.5 1 0.5 0.7 0.5 1.1 0.5 1.1 0.5 1.1 0.5 0.9 0.5 1 0.5 1 0.5 0.9 0.5 0.8 0.5 0.7 0.5 0.8 0.5 0.8 0.5 1 0.5 0.8 0.5 0.9 0.5 0.5 0.5 0.7 0.5 0.7 0.5 0.9 0.5 0.9 0.5 1.1 0.5 0.8 0.5 0.7 0.5 0.8 0.5 0.9 0.5 0.9 0.5 0.5 0.5 0.9 0.5 0.8 0.5 0.9 0.5 0.6 0.5 0.9 0.5 0.7 0.5 0.6 0.5 0.6 0.5 0.6 0.5 0.6 0.5 0.6 0.5 0.5 0.5 0.8 0.5 0.7 0.5 0.8 0.5 0.5 0.5 0.7 0.5 0.8 0.5 0.9 0.5 0.5 0.5 0.6 0.5 0.6 0.5 0.8 0.5 0.7 0.5 0.9 0.5 0.6 0.5 0.8 0.5 0.7 0.5 0.9 0.5 0.7 0.5 0.8 0.5 0.8 0.5 0.9 0.5 0.9 0.5 0.7 0.5 0.6 0.5 0.6 0.5 0.7 0.5 0.8 0.5 0.7 0.5 0.7 0.5 0.7 0.5 0.8 0.5 0.8 0.5 0.8 0.5 0.7 0.5 0.7 0.5 0.7 0.5 0.7 0.5 0.6 0.5 0.5 0.5 0.4 0.5 0.3 0.5 0.4 0.5 0.4 0.5 0.3 0.5 0.4 0.5 0.2 0.5 0.4 0.5 0.2 0.5 0.3 0.5 0.1 0.5 0.3 0.5 0.1 0.5 0.1 0.5 0 0.5 0 0.5 0.2 0.5-0.1 0.5-0.3 0.5-0.2 0.5-0.3 0.5-0.4 0.5-0.7 0.5-0.6 0.5-0.4 0.5-0.2 0.5-0.3 0.5-0.3 0.5-0.4 0.5 0.1 0.5 0.4 0.5 0.9 0.5 0.7 0.5 0.9 0.5 0.8 0.5 0.9 0.5 1 0.5 0.9 0.5 0.8 0.5 0.7 0.5 0.6 0.5 0.9 0.5 0.5 0.5 0.4 0.5 0.5 0.5 0.6 0.5 1 0.5 0.6 0.5 0.5 0.5 0.2 0.5 0.4 0.5 0.4 0.5 0.2 0.5 0.3 0.5 0.3 0.5 0.3 0.5 0.2 0.5 0.2 0.5 0.4 0.5 0.2 0.5 0.3 0.5 0.2 0.5 0.2 0.5 0 0.5 0.1 0.5 0.1 0.5 0.2 0.5 0.2 0.5 0.2 0.5 0 0.5-0.1 0.5 0 0.5 0.2 0.5 0.3 0.5 0.2 0.5 0.2 0.5 0.1 0.5 0 0.5-0.1 0.5 0.1 0.5 0.2 0.5 0.2 0.5 0.1 0.5 0.1 0.5 0.1 0.5 0 0.5 0 0.5-0.1 0.5 0.1 0.5 0.2 0.5 0.1 0.5 0.1 0.5-0.2 0.5 0 0.5 0 0.5 0.2 0.5 0 0.5 0 0.5 0.1 0.5 0.2 0.5 0 0.5 0.1 0.5-0.1 0.5-0.1 0.5 0 0.5 0.3 0.5 0.2 0.5-0.1 0.5-0.2 0.5 0.1 0.5 0 0.5 0 0.5-0.1 0.5 0 0.5 0 0.5 0 0.5 0.1 0.5-0.2 0.5-0.1 0.5 0 0.5 0 0.5 0 0.5 0.1 0.5 0.2 0.5 0.3 0.5-0.2 0.5 0.1 0.5-0.2 0.5 0.3 0.5 0 0.5 0.1 0.5 0.1 0.5 0.1 0.5 0.4 0.5 0.1 0.5 0.2 0.5 0 0.5 0.2 0.5 0.2 0.5 0.1 0.5 0.1 0.5 0.1 0.5 0.2 0.5 0.4 0.5 0.3 0.5 0.2 0.5 0.1 0.5 0.1 0.5 0.2 0.5 0.1 0.5 0.3 0.5 0.2 0.5 0.1 0.5 0.3 0.5 0.1 0.5 0.2 0.5 0.1 0.5 0.3 0.5 0.2 0.5 0.3 0.5 0.2 0.5 0.2 0.5 0 0.5 0 0.5 0.1 0.5 0.1 0.5 0.2 0.5 0 0.5 0.1 0.5 0.2 0.5 0.2 0.5-0.1 0.5-0.1 0.5 0 0.5 0.2 0.5 0 0.5 0.1 0.5-0.1 0.5 0.1 0.5 0.1 0.5 0 0.5 0 0.5 0 0.5 0.2 0.5 0.2 0.5 0.1 0.5 0 0.5 0.1 0.5 0.1 0.5-0.1 0.5 0.2 0.5 0.1 0.5 0 0.5 0 0.5 0.1 0.5 0.1 0.5 0.2 0.5 0.3 0.5 0.3 0.5 0.1 0.5 0.1 0.5 0.2 0.5-0.1 0.5 0.2 0.5 0.1 0.5 0.1 0.5-0.1 0.5 0 0.5 0 0.5-0.1 0.5-0.1 0.5-0.2 0.5-0.2 0.5-0.2 0.5 0 0.5-0.1 0.5-0.3 0.5-0.4 0.5-0.5 0.5-0.4 0.5-0.5 0.5-0.3 0.5-0.4 0.5-0.6 0.5-1.1 0.5-1.2 0.5-1.2 0.5-1.3 0.5-1.5 0.5-1.3 0.5-1.2 0.5-0.9 0.5-1 0.5 1 0.5 0.9 0.5 1.1 0.5 1 0.5 1.5 0.5 1 0.5 0.9 0.5 0.8 0.5 0.8 0.5 0.9 0.5 0.6 0.5 0.7 0.5 0.5 0.5 0.5 0.5 0.1 0.5 0 0.5 0.2 0.5 0.1 0.5 0.3 0.5-0.1 0.5-0.2 0.5-0.1 0.5-0.1 0.5-0.1 0.5-0.1 0.5-0.1 0.5-0.2 0.5-0.1 0.5-0.2 0.5 0 0.5-0.4 0.5-0.1 0.5-0.1 0.5-0.1 0.5-0.2 0.5-0.3 0.5-0.2 0.5-0.3 0.5-0.3 0.5-0.2 0.5-0.2 0.5-0.4 0.5-0.5 0.5-0.2 0.5-0.2 0.5-0.3 0.5-0.3 0.5-0.3 0.5 0 0.5-0.4 0.5-0.1 0.5-0.2 0.5 0.2 0.5 0.2 0.5 0.2 0.5 0.1 0.5 0.4 0.5 0.4 0.5 0.6 0.5 0.2 0.5 0.2 0.5 0.3 0.5 0.3 0.5 0.4 0.5 0.1 0.5 0.1 0.5 0.1 0.5 0.5 0.5 0.3 0.5 0.3 0.5 0 0.5 0.3 0.5 0.1 0.5 0.2 0.5 0.3 0.5 0.1 0.5-0.1 0.5-0.1 0.5 0.2 0.5 0.3 0.5 0.4 0.5-0.2 0.5 0.1 0.5 0.1 0.5 0.3 0.5 0 0.5 0.1 0.5-0.3 0.5 0 0.5-0.3 0.5 0.1 0.5 0 0.5 0.3 0.5 0.1 0.5 0 0.5-0.3 0.5 0.1 0.5 0.2 0.5 0.2 0.5-0.1 0.5-0.1 0.5-0.1 0.5 0.1 0.5-0.3 0.5-0.2 0.5-0.1 0.5 0.3 0.5 0.1 0.5 0.4 0.5-0.2 0.5 0 0.5-0.4 0.5 0.1 0.5-0.2 0.5-0.1 0.5-0.3 0.5 0 0.5 0.1 0.5 0.5 0.5 0 0.5-0.2 0.5-0.2 0.5 0.1 0.5-0.1 0.5-0.3 0.5-0.3 0.5-0.1 0.5-0.1 0.5 0 0.5-0.2 0.5 0 0.5-0.2 0.5-0.3 0.5-0.3 0.5 0.2 0.5 0.4 0.5 0.2 0.5-0.3 0.5-0.3 0.5-0.5 0.5-0.5 0.5 0.1 0.5 0.2 0.5 0.3 0.5-0.2 0.5 0.6 0.5-0.3 0.5 0.5 0.5-0.7 0.5 0.5 0.5 0.1 0.5 0.5 0.5 0.1 0.5-0.4 0.5-0.8 0.5-0.9 0.5-0.1 0.5 0.6 0.5 0 0.5 0.2 0.5-0.4 0.5 0 0.5-0.4 0.5 0.5 0.5 0 0.5-0.1 0.5-0.6 0.5 0 0.5 0.2 0.5 0.4 0.5 0.5 0.5 0.4 0.5-0.2 0.5 0.4 0.5-0.5 0.5 0.6 0.5 0 0.5 0 0.5-0.2 0.5-0.2 0.5 0.4 0.5 0.3 0.5 0.8 0.5 0.1 0.5-1 0.5 0 0.5 0 0.5 1 0.5 0.1 0.5 0.6 0.5 0.5 0.5 0 0.5-0.2 0.5-0.8 0.5-0.3 0.5 0.2 0.5-0.3 0.5-0.2 0.5-0.1 0.5-0.1 0.5-0.4 0.5 0 0.5 0 0.5 0.8 0.5 0 0.5 0.6 0.5-0.8 0.5-0.7 0.5-0.2 0.5 0.2 0.5 0.6 0.5-1.2 0.5-0.2 0.5-0.3 0.5 0.6 0.5-0.2 0.5-0.7 0.5-0.2 0.5-0.8 0.5 0.3 0.5 0 0.5 0.3 0.5-0.7 0.5-0.1 0.5 0.5 0.5 0.4 0.5-0.2 0.5-1.2 0.5-0.6 0.5-0.9 0.5 0.7 0.5-0.1 0.5 0.3 0.5-0.9 0.5-0.8 0.5 0.2 0.5-0.4 0.5 0.2 0.5-0.5 0.5-0.4 0.5-0.1 0.5 0 0.5 0.4 0.5-0.5 0.5 0.2 0.5 0.4 0.5 0.6 0.5 0.3 0.5 0.6 0.5 0.4 0.5 1.1 0.5 0.8 0.5 1.1 0.5-0.3 0.5 0.1 0.5 0.4 0.5 0.9 0.5 0.3 0.5-0.2 0.5 0.4 0.5 0.7 0.5 0.9 0.5-0.5 0.5-0.3 0.5-0.7 0.5-0.2 0.5-0.9 0.5-0.9 0.5 0 0.5 0.4 0.5-0.2 0.5-0.3 0.5-0.2 0.5 1.2 0.5 0.9 0.5 1.5 0.5 1.7 0.5 1.1 0.5 1.4 0.5 0.4 0.5 1.1 0.5 0.2 0.5 0.6 0.5 1.1 0.5 1.7 0.5 0.6 0.5-0.1"/>
<path d="M179.5,582.6l0.5 0 0.5-0.1 0.5-0.1 0.5-0.2 0.5 0.1 0.5-0.1 0.5-0.1 0.5-0.1 0.5-0.1 0.5-0.2 0.5 0 0.5-0.3 0.5 0.1 0.5-0.1 0.5 0 0.5-0.1 0.5-0.2 0.5 0 0.5-0.1 0.5 0.1 0.5 0 0.5 0 0.5-0.1 0.5 0 0.5-0.1 0.5 0.1 0.5-0.1 0.5 0.1 0.5-0.1 0.5-0.3 0.5-0.1 0.5 0 0.5 0.2 0.5 0 0.5 0 0.5-0.3 0.5 0 0.5 0 0.5 0.2 0.5 0 0.5-0.1 0.5 0 0.5 0 0.5-0.1 0.5 0 0.5-0.1 0.5 0 0.5-0.2 0.5 0 0.5-0.1 0.5 0.1 0.5 0 0.5 0 0.5 0.1 0.5 0 0.5 0.2 0.5 0 0.5 0 0.5-0.2 0.5 0 0.5-0.1 0.5-0.1 0.5-0.2 0.5 0.1 0.5-0.1 0.5 0 0.5-0.2 0.5 0 0.5 0.1 0.5 0.2 0.5 0.1 0.5-0.2 0.5-0.2 0.5-0.1 0.5 0.2 0.5-0.2 0.5-0.1 0.5 0.1 0.5 0.2 0.5 0 0.5-0.3 0.5 0.1 0.5 0.2 0.5 0.1 0.5 0 0.5-0.3 0.5 0 0.5-0.2 0.5 0 0.5 0.1 0.5 0 0.5 0 0.5 0 0.5 0.3 0.5-0.1 0.5-0.1 0.5-0.3 0.5 0 0.5 0.2 0.5 0 0.5 0 0.5 0 0.5-0.1 0.5-0.1 0.5 0 0.5 0 0.5 0 0.5-0.1 0.5-0.1 0.5 0.1 0.5 0 0.5 0.2 0.5-0.2 0.5 0 0.5-0.2 0.5 0 0.5-0.1 0.5-0.1 0.5 0.2 0.5 0 0.5 0.1 0.5-0.1 0.5 0.1 0.5-0.2 0.5-0.1 0.5-0.3 0.5 0.3 0.5 0 0.5 0.3 0.5 0 0.5 0 0.5 0 0.5-0.1 0.5 0 0.5-0.2 0.5 0 0.5-0.2 0.5 0 0.5 0 0.5 0.2 0.5 0 0.5 0 0.5-0.1 0.5 0.1 0.5 0 0.5-0.1 0.5-0.1 0.5 0 0.5 0 0.5 0 0.5 0 0.5-0.1 0.5-0.3 0.5-0.2 0.5 0.1 0.5-0.1 0.5 0.2 0.5-0.2 0.5 0.2 0.5-0.1 0.5 0 0.5 0 0.5-0.2 0.5 0.1 0.5 0.1 0.5 0.3 0.5-0.2 0.5-0.2 0.5 0 0.5 0.2 0.5 0.3 0.5-0.1 0.5-0.1 0.5-0.2 0.5-0.1 0.5 0 0.5 0.1 0.5 0 0.5 0.1 0.5-0.3 0.5-0.2 0.5-0.2 0.5 0 0.5 0.1 0.5 0 0.5 0.2 0.5-0.1 0.5 0.1 0.5-0.2 0.5 0 0.5-0.1 0.5-0.1 0.5 0 0.5-0.1 0.5 0 0.5-0.1 0.5 0.2 0.5 0 0.5-0.1 0.5-0.1 0.5 0 0.5 0.1 0.5 0.1 0.5 0 0.5 0 0.5 0 0.5-0.1 0.5 0 0.5-0.2 0.5 0.1 0.5 0 0.5-0.1 0.5-0.1 0.5-0.1 0.5-0.1 0.5 0 0.5 0 0.5 0.2 0.5-0.1 0.5-0.2 0.5 0.1 0.5 0 0.5 0.1 0.5-0.3 0.5 0 0.5 0 0.5 0 0.5-0.1 0.5-0.1 0.5 0 0.5 0.1 0.5 0 0.5-0.1 0.5 0 0.5-0.1 0.5 0.1 0.5-0.1 0.5-0.2 0.5-0.1 0.5 0 0.5 0.1 0.5 0 0.5-0.1 0.5-0.1 0.5 0.1 0.5 0.1 0.5-0.1 0.5-0.2 0.5 0 0.5 0.1 0.5 0 0.5 0 0.5-0.2 0.5-0.1 0.5 0 0.5 0 0.5 0.1 0.5-0.1 0.5 0 0.5-0.2 0.5 0 0.5-0.1 0.5 0.1 0.5-0.2 0.5 0 0.5-0.2 0.5 0 0.5 0.3 0.5 0 0.5-0.1 0.5-0.2 0.5-0.1 0.5-0.1 0.5-0.1 0.5 0.1 0.5 0.3 0.5-0.1 0.5-0.2 0.5-0.2 0.5 0.1 0.5 0.1 0.5-0.1 0.5 0 0.5-0.2 0.5-0.1 0.5-0.1 0.5-0.1 0.5 0 0.5-0.2 0.5-0.1 0.5 0.1 0.5 0 0.5 0 0.5-0.2 0.5 0 0.5-0.1 0.5 0.1 0.5 0 0.5-0.1 0.5-0.1 0.5 0 0.5 0 0.5-0.1 0.5-0.3 0.5-0.1 0.5 0 0.5 0 0.5 0.1 0.5-0.1 0.5 0 0.5-0.1 0.5 0.1 0.5-0.3 0.5-0.2 0.5-0.2 0.5 0.2 0.5 0 0.5-0.1 0.5-0.4 0.5-0.2 0.5 0.1 0.5 0 0.5 0 0.5-0.3 0.5-0.1 0.5 0 0.5 0 0.5-0.2 0.5-0.3 0.5-0.1 0.5-0.1 0.5-0.1 0.5-0.2 0.5-0.1 0.5-0.1 0.5-0.1 0.5 0 0.5-0.1 0.5-0.1 0.5 0 0.5 0.1 0.5 0 0.5-0.1 0.5-0.2 0.5-0.2 0.5-0.2 0.5-0.2 0.5-0.2 0.5-0.1 0.5 0.1 0.5 0.1 0.5-0.2 0.5-0.2 0.5-0.3 0.5 0 0.5-0.1 0.5-0.1 0.5-0.3 0.5-0.2 0.5-0.3 0.5 0 0.5-0.1 0.5-0.1 0.5-0.3 0.5-0.1 0.5-0.2 0.5-0.1 0.5-0.1 0.5-0.2 0.5-0.4 0.5-0.4 0.5-0.3 0.5-0.2 0.5-0.1 0.5-0.2 0.5-0.3 0.5-0.1 0.5-0.3 0.5-0.2 0.5-0.4 0.5-0.3 0.5-0.4 0.5-0.3 0.5-0.3 0.5-0.5 0.5-0.3 0.5-0.3 0.5-0.1 0.5-0.4 0.5-0.6 0.5-0.4 0.5-0.6 0.5-0.4 0.5-0.6 0.5-0.4 0.5-0.5 0.5-0.4 0.5-0.8 0.5-0.7 0.5-0.9 0.5-0.5 0.5-0.7 0.5-0.5 0.5-0.7 0.5-0.5 0.5-0.7 0.5-0.7 0.5-0.8 0.5-0.9 0.5-0.9 0.5-1 0.5-1.1 0.5-1.1 0.5-1 0.5-0.8 0.5-0.9 0.5-1.2 0.5-1.3 0.5-1 0.5-1 0.5-1.2 0.5-1.1 0.5-1.2 0.5-1.2 0.5-1.3 0.5-1.2 0.5-1.1 0.5-1.2 0.5-1.1 0.5-1 0.5-1.2 0.5-1.4 0.5-1.4 0.5-1.3 0.5-1.2 0.5-1.1 0.5-1.1 0.5-1.1 0.5-1 0.5-1 0.5-1 0.5-0.9 0.5-0.7 0.5-0.6 0.5-0.8 0.5-0.8 0.5-0.5 0.5-0.7 0.5-0.5 0.5-0.7 0.5-0.2 0.5-0.4 0.5 0.4 0.5 0.5 0.5 0.8 0.5 0.8 0.5 1.1 0.5 1.3 0.5 1.2 0.5 1.3 0.5 1.7 0.5 1.9 0.5 1.9 0.5 1.6 0.5 1.2 0.5 0.6 0.5 0.4 0.5 0.2 0.5 0.3 0.5 0.2 0.5 0 0.5-0.1 0.5-0.2 0.5-0.1 0.5-0.2 0.5-0.1 0.5-0.2 0.5-0.3 0.5 0 0.5 0 0.5 0.1 0.5-0.1 0.5 0 0.5 0.3 0.5 0.4 0.5 0.6 0.5 0.8 0.5 0.9 0.5 1 0.5 0.7 0.5 1.1 0.5 1.2 0.5 1.2 0.5 0.7 0.5 0.9 0.5 1 0.5 1.2 0.5 1.3 0.5 1.5 0.5 1.9 0.5 1.4 0.5 1.8 0.5 1.4 0.5 1.9 0.5 1.5 0.5 1.7 0.5 1.5 0.5 1.7 0.5 1.5 0.5 1.4 0.5 1.5 0.5 1.6 0.5 1.7 0.5 1.5 0.5 1.3 0.5 1.5 0.5 1.5 0.5 1.3 0.5 1.2 0.5 1.3 0.5 1.2 0.5 1.2 0.5 1.2 0.5 1.4 0.5 1.2 0.5 1.2 0.5 1.2 0.5 0.9 0.5 0.7 0.5 0.7 0.5 0.7 0.5 0.9 0.5 0.9 0.5 0.7 0.5 0.8 0.5 0.8 0.5 0.7 0.5 0.6 0.5 0.5 0.5 0.4 0.5 0.6 0.5 0.5 0.5 0.7 0.5 0.4 0.5 0.5 0.5 0.4 0.5 0.6 0.5 0 0.5 0.2 0.5 0.3 0.5 0.5 0.5 0.4 0.5 0.2 0.5 0.3 0.5 0.1 0.5 0.2 0.5 0.2 0.5 0.2 0.5 0.2 0.5-0.2 0.5 0.2 0.5-0.1 0.5 0.1 0.5 0 0.5-0.1 0.5-0.2 0.5-0.3 0.5-0.2 0.5 0 0.5 0.1 0.5-0.3 0.5-0.4 0.5-0.4 0.5 0 0.5-0.4 0.5-0.4 0.5-0.4 0.5-0.2 0.5-0.5 0.5-0.4 0.5-0.6 0.5-0.4 0.5-0.7 0.5-0.5 0.5-0.5 0.5-0.5 0.5-0.6 0.5-0.8 0.5-0.8 0.5-0.8 0.5-0.8 0.5-0.9 0.5-1.1 0.5-1.3 0.5-1.1 0.5-1.3 0.5-1.1 0.5-1.3 0.5-1.5 0.5-1.3 0.5-1.5 0.5-1.1 0.5-1.2 0.5-1.2 0.5-1.1 0.5-1 0.5-1.1 0.5-1.3 0.5-1.4 0.5-1.2 0.5-1.5 0.5-1.5 0.5-1.5 0.5-1.3 0.5-1.6 0.5-1.5 0.5-1.9 0.5-1.8 0.5-2.3 0.5-2.1 0.5-3 0.5-3.5 0.5-4 0.5-3.9 0.5-3.3 0.5-2.6 0.5-1.9 0.5-1.8 0.5-1.9 0.5-1.9 0.5-1.4 0.5-1.3 0.5 0 0.5 0.3 0.5 0.8 0.5 0.7 0.5 1.1 0.5 0.9 0.5 0.9 0.5 1.1 0.5 0.9 0.5 1.5 0.5 1.2 0.5 1.8 0.5 1.8 0.5 2 0.5 1.9 0.5 1.9 0.5 1.9 0.5 1.6 0.5 1.6 0.5 1.1 0.5 1.3 0.5 0.9 0.5 0.8 0.5 0.9 0.5 0.8 0.5 0.8 0.5 0.5 0.5 0.5 0.5 0.4 0.5 0 0.5 0 0.5-0.4 0.5-0.2 0.5-0.3 0.5-0.2 0.5-0.4 0.5-0.4 0.5-0.5 0.5-0.7 0.5-0.9 0.5-0.8 0.5-0.9 0.5-0.8 0.5-1 0.5-0.7 0.5-1.1 0.5-1 0.5-1.5 0.5-1.7 0.5-1.8 0.5-1.5 0.5-0.9 0.5-1 0.5-1.1 0.5-1.1 0.5-1 0.5-0.6 0.5-0.8 0.5-0.5 0.5-0.8 0.5-0.6 0.5-0.7 0.5-0.7 0.5-0.9 0.5-0.4 0.5-0.7 0.5-0.5 0.5-0.6 0.5-0.5 0.5-0.6 0.5-0.6 0.5-0.6 0.5-0.4 0.5-0.4 0.5-0.5 0.5-0.5 0.5-0.5 0.5-0.3 0.5-0.2 0.5-0.4 0.5-0.5 0.5-0.6 0.5-0.7 0.5-0.7 0.5-0.6 0.5-0.5 0.5-0.6 0.5-0.5 0.5-0.6 0.5-0.7 0.5-1.1 0.5-0.7 0.5-0.6 0.5-0.6 0.5-0.8 0.5-0.7 0.5-0.6 0.5-0.6 0.5-0.9 0.5-0.7 0.5-0.9 0.5-0.6 0.5-0.7 0.5-0.5 0.5-0.8 0.5-0.8 0.5-1 0.5-0.7 0.5-0.9 0.5-0.9 0.5-0.9 0.5-0.9 0.5-0.7 0.5-0.9 0.5-0.7 0.5-1.1 0.5-1.1 0.5-1.2 0.5-0.9 0.5-0.7 0.5-1.1 0.5-0.9 0.5-1.3 0.5-1.1 0.5-1.1 0.5-1.2 0.5-1 0.5-1.2 0.5-1 0.5-1.2 0.5-1 0.5-1 0.5-1.1 0.5-1 0.5-1 0.5-0.6 0.5-0.2 0.5-0.3 0.5-0.1 0.5-0.1 0.5 0.3 0.5 0.4 0.5 0.5 0.5 0.5 0.5 0.8 0.5 0.7 0.5 0.7 0.5 0.7 0.5 0.6 0.5 0.5 0.5 0.7 0.5 1 0.5 1 0.5 0.8 0.5 1 0.5 1.1 0.5 1.2 0.5 1.3 0.5 1.3 0.5 1.3 0.5 1.4 0.5 1.6 0.5 1.6 0.5 1.5 0.5 1.6 0.5 1.9 0.5 2 0.5 1.9 0.5 1.8 0.5 2.2 0.5 2 0.5 2.3 0.5 2.4 0.5 2.5 0.5 2.4 0.5 2.4 0.5 2.5 0.5 2.2 0.5 2.1 0.5 2 0.5 2.2 0.5 2.3 0.5 2.3 0.5 2 0.5 2.2 0.5 2.1 0.5 2.2 0.5 1.9 0.5 1.3 0.5 1.1 0.5 1 0.5 0.7 0.5 0.6 0.5 0.3 0.5 0.4 0.5 0.2 0.5 0 0.5-0.1 0.5-0.2 0.5 0.3 0.5-0.1 0.5-0.2 0.5-0.5 0.5-0.4 0.5-0.4 0.5-0.4 0.5-0.6 0.5-0.8 0.5-1 0.5-1 0.5-1.1 0.5-1.2 0.5-1.3 0.5-1.4 0.5-1.1 0.5-1.4 0.5-1.6 0.5-2.2 0.5-2 0.5-2.2 0.5-2.1 0.5-2.6 0.5-3.1 0.5-3.2 0.5-3.6 0.5-3.7 0.5-3.8 0.5-4.5 0.5-5.4 0.5-8.4 0.5-11 0.5-7.4 0.5-6.8 0.5-7.6 0.5-8.3 0.5-7.9 0.5-5.7 0.5-3.3 0.5-1.1 0.5-0.7 0.5 0.6 0.5 0.8 0.5 0.8 0.5 1.2 0.5 1.8 0.5 2.5 0.5 2.5 0.5 2.9 0.5 3.2 0.5 3 0.5 4.3 0.5 2 0.5 0.5 0.5-0.2 0.5-0.4 0.5-0.3 0.5-0.7 0.5-2.3 0.5-3.6 0.5-3 0.5-3.6 0.5-3.2 0.5-2.6 0.5-2 0.5-1.9 0.5-2.2 0.5-3.1 0.5-3.6 0.5-3.7 0.5-3.4 0.5-3.1 0.5-3.4 0.5-3.3 0.5-3.5 0.5-3.2 0.5-3.3 0.5-3.4 0.5-3.4 0.5-3.3 0.5-3.5 0.5-3.8 0.5-4 0.5-4.3 0.5-4.7 0.5-5 0.5-5.1 0.5-4.9 0.5-4.7 0.5-5.1 0.5-4.6 0.5-4.2 0.5-3.3 0.5-2.5 0.5-1.7 0.5-1.3 0.5 3 0.5 3.4 0.5 3.1 0.5 2.9 0.5 2.7 0.5 2.8 0.5 2.8 0.5 2.9 0.5 2.5 0.5 2.3 0.5 2.4 0.5 2.7 0.5 2.6 0.5 2.6 0.5 2.7 0.5 2.7 0.5 2.8 0.5 2.7 0.5 2.8 0.5 2.9 0.5 2.9 0.5 2.9 0.5 2.7 0.5 2.8 0.5 2.9 0.5 3.1 0.5 3 0.5 3 0.5 3 0.5 3.2 0.5 3.3 0.5 3.5 0.5 3.9 0.5 3.8 0.5 3.6 0.5 2.9 0.5 2.6 0.5 2.1 0.5 1.9 0.5 1.8 0.5 1.7 0.5 1.8 0.5 1.6 0.5 1.5 0.5 1.6 0.5 1.3 0.5 1.2 0.5 1.2 0.5 1.4 0.5 1.1 0.5 1.2 0.5 1.4 0.5 1.6 0.5 1.5 0.5 1.3 0.5 1.2 0.5 1.5 0.5 1.5 0.5 1.7 0.5 1.5 0.5 1.3 0.5 1.3 0.5 1.5 0.5 1.3 0.5 1.3 0.5 1.1 0.5 1.1 0.5 1.3 0.5 0.9 0.5 1.1 0.5 0.9 0.5 1.2 0.5 1 0.5 1 0.5 1.1 0.5 1 0.5 1.1 0.5 0.8 0.5 1 0.5 1.1 0.5 1.1 0.5 0.9 0.5 0.9 0.5 1 0.5 1 0.5 0.8 0.5 1.1 0.5 0.8 0.5 1 0.5 1 0.5 0.9 0.5 1 0.5 1 0.5 1 0.5 0.9 0.5 0.7 0.5 0.9 0.5 0.8 0.5 0.7 0.5 0.8 0.5 0.8 0.5 1 0.5 0.7 0.5 0.8 0.5 0.9 0.5 0.6 0.5 0.7 0.5 0.5 0.5 0.9 0.5 1 0.5 0.7 0.5 0.9 0.5 0.8 0.5 0.6 0.5 0.7 0.5 0.6 0.5 1 0.5 1 0.5 0.9 0.5 0.9 0.5 1 0.5 0.8 0.5 0.7 0.5 0.7 0.5 0.9 0.5 0.9 0.5 1 0.5 0.8 0.5 0.9 0.5 0.7 0.5 0.5 0.5 0.9 0.5 1 0.5 1.1 0.5 0.7 0.5 0.9 0.5 0.8 0.5 0.9 0.5 0.8 0.5 0.8 0.5 0.7 0.5 0.4 0.5 0.5 0.5 0.5 0.5 0.5 0.5 0.4 0.5 0.3 0.5 0.4 0.5 0.4 0.5 0.4 0.5 0.1 0.5 0.3 0.5 0.4 0.5 0.5 0.5 0.3 0.5 0.1 0.5 0.2 0.5 0 0.5 0.1 0.5-0.1 0.5 0 0.5-0.3 0.5-0.3 0.5-0.6 0.5-0.7 0.5-0.6 0.5-0.7 0.5-0.5 0.5-0.5 0.5-0.6 0.5-0.5 0.5-0.1 0.5 0.9 0.5 0.8 0.5 1 0.5 0.9 0.5 1.2 0.5 1 0.5 1.1 0.5 0.9 0.5 0.9 0.5 0.7 0.5 0.8 0.5 0.6 0.5 0.8 0.5 0.6 0.5 0.6 0.5 0.6 0.5 0.4 0.5 0.7 0.5 0.5 0.5 0.8 0.5 0.2 0.5 0.3 0.5 0.2 0.5 0.5 0.5 0.6 0.5 0.5 0.5 0.4 0.5 0.1 0.5 0.2 0.5 0.2 0.5 0.3 0.5 0.2 0.5 0.1 0.5 0.1 0.5 0.3 0.5 0.2 0.5 0.2 0.5 0.1 0.5 0.2 0.5 0 0.5 0.1 0.5 0.2 0.5 0.3 0.5 0.1 0.5 0.1 0.5 0 0.5 0.1 0.5 0.1 0.5 0.3 0.5 0 0.5 0 0.5-0.1 0.5 0.2 0.5 0.3 0.5 0 0.5 0.1 0.5 0.2 0.5 0.2 0.5-0.2 0.5-0.2 0.5 0 0.5 0 0.5 0.3 0.5 0.1 0.5 0.2 0.5-0.2 0.5 0.1 0.5 0.1 0.5 0.2 0.5-0.1 0.5-0.1 0.5 0 0.5 0.1 0.5 0.2 0.5 0.1 0.5 0.1 0.5-0.1 0.5 0 0.5-0.1 0.5 0 0.5 0 0.5-0.1 0.5 0.1 0.5 0.2 0.5 0.2 0.5-0.1 0.5 0 0.5-0.2 0.5 0.3 0.5 0.2 0.5 0.2 0.5 0.1 0.5-0.2 0.5 0 0.5-0.1 0.5 0.3 0.5 0 0.5 0.2 0.5 0 0.5 0.1 0.5 0.2 0.5 0 0.5 0.3 0.5 0.1 0.5 0.1 0.5 0 0.5 0.3 0.5 0.3 0.5 0.3 0.5 0 0.5 0.3 0.5 0.2 0.5 0.3 0.5 0.2 0.5 0.1 0.5 0.2 0.5 0.2 0.5 0.2 0.5 0.2 0.5 0.2 0.5 0.4 0.5 0.1 0.5 0.3 0.5 0.3 0.5 0.3 0.5 0.1 0.5 0.2 0.5 0.2 0.5 0.3 0.5 0.3 0.5 0.1 0.5 0.1 0.5 0.2 0.5 0.1 0.5 0.1 0.5 0.1 0.5 0.2 0.5 0.1 0.5 0 0.5 0.1 0.5 0 0.5 0.3 0.5 0 0.5 0.2 0.5 0.1 0.5 0.1 0.5 0.1 0.5-0.1 0.5 0 0.5 0.2 0.5 0.2 0.5 0.3 0.5 0.1 0.5-0.1 0.5 0 0.5-0.1 0.5 0.1 0.5-0.1 0.5 0.2 0.5 0.1 0.5 0.2 0.5 0 0.5 0.4 0.5 0.1 0.5 0.1 0.5 0 0.5 0 0.5 0.2 0.5 0.2 0.5-0.1 0.5 0.1 0.5 0.2 0.5 0.3 0.5 0.1 0.5 0 0.5 0 0.5 0.2 0.5 0.1 0.5 0.2 0.5-0.2 0.5-0.2 0.5-0.2 0.5-0.1 0.5-0.1 0.5-0.2 0.5-0.3 0.5-0.4 0.5-0.5 0.5-0.4 0.5-0.4 0.5-0.3 0.5-0.3 0.5-0.6 0.5-1 0.5-1 0.5-1.4 0.5-1.5 0.5-1.5 0.5-1.5 0.5-1.5 0.5-1.3 0.5-1.2 0.5-1.2 0.5 1.2 0.5 1.1 0.5 1.3 0.5 1.2 0.5 1.4 0.5 1.2 0.5 1.5 0.5 1.1 0.5 0.7 0.5 0.9 0.5 0.6 0.5 0.8 0.5 0.5 0.5 0.4 0.5 0.5 0.5 0.2 0.5 0.2 0.5 0 0.5 0 0.5-0.1 0.5 0 0.5-0.1 0.5 0.1 0.5-0.1 0.5-0.3 0.5-0.2 0.5-0.1 0.5 0 0.5-0.4 0.5-0.2 0.5-0.5 0.5-0.1 0.5-0.2 0.5-0.1 0.5-0.1 0.5-0.3 0.5-0.3 0.5-0.2 0.5-0.1 0.5-0.3 0.5-0.5 0.5-0.6 0.5-0.5 0.5-0.3 0.5-0.1 0.5-0.2 0.5-0.3 0.5-0.4 0.5-0.2 0.5-0.2 0.5-0.2 0.5-0.1 0.5 0.1 0.5 0.3 0.5 0.3 0.5 0.4 0.5 0.4 0.5 0.5 0.5 0.3 0.5 0.6 0.5 0.3 0.5 0.5 0.5 0.4 0.5 0.6 0.5 0.2 0.5 0.1 0.5 0.1 0.5 0.2 0.5 0.1 0.5 0.3 0.5 0.1 0.5 0.4 0.5 0.2 0.5 0.2 0.5 0.2 0.5 0.2 0.5 0.1 0.5 0.1 0.5 0.1 0.5-0.2 0.5 0 0.5-0.1 0.5 0.6 0.5 0.3 0.5 0.3 0.5-0.1 0.5 0 0.5 0.2 0.5-0.2 0.5-0.1 0.5-0.1 0.5 0.1 0.5 0.3 0.5 0 0.5 0.3 0.5-0.3 0.5-0.1 0.5 0 0.5 0.1 0.5 0.2 0.5-0.3 0.5-0.1 0.5 0.1 0.5-0.2 0.5 0.1 0.5-0.3 0.5 0.1 0.5-0.2 0.5-0.3 0.5 0.1 0.5-0.1 0.5 0.6 0.5-0.2 0.5-0.2 0.5-0.3 0.5 0.2 0.5 0.4 0.5-0.2 0.5-0.2 0.5-0.3 0.5 0.1 0.5 0.2 0.5 0.2 0.5-0.2 0.5-0.4 0.5-0.3 0.5-0.1 0.5-0.2 0.5-0.2 0.5 0.2 0.5 0.3 0.5-0.2 0.5-0.1 0.5-0.3 0.5 0.3 0.5 0 0.5 0.1 0.5 0.1 0.5-0.1 0.5 0 0.5-0.2 0.5-0.7 0.5-0.7 0.5-0.1 0.5 0.3 0.5 0.1 0.5-0.3 0.5-0.6 0.5 0.7 0.5-0.3 0.5 0 0.5-0.2 0.5 0.8 0.5 0.4 0.5 0 0.5-0.1 0.5-0.1 0.5 0.5 0.5-0.1 0.5 0.1 0.5-0.8 0.5-0.2 0.5-0.6 0.5-0.2 0.5-0.3 0.5 0.1 0.5-0.2 0.5-0.1 0.5-0.3 0.5 0.6 0.5-0.2 0.5 0 0.5 0 0.5 0.8 0.5 0.7 0.5 0.4 0.5 0.1 0.5 0.6 0.5 0.7 0.5-0.1 0.5-0.1 0.5-0.3 0.5 0.3 0.5 0.4 0.5 0.6 0.5 0.3 0.5-0.1 0.5-0.3 0.5 0.1 0.5 0.8 0.5-0.5 0.5-0.1 0.5-0.2 0.5 0.6 0.5-0.1 0.5-0.5 0.5-0.6 0.5-0.4 0.5 0.3 0.5 0.4 0.5 0.2 0.5-0.3 0.5-0.2 0.5-0.5 0.5 1 0.5-0.3 0.5 0.5 0.5-1 0.5 0.1 0.5-0.1 0.5-0.6 0.5 0.5 0.5-0.2 0.5-0.4 0.5-0.4 0.5 0 0.5 0.3 0.5-0.6 0.5-0.8 0.5 0.6 0.5-0.2 0.5-0.1 0.5-1.6 0.5-0.6 0.5-0.8 0.5 0.3 0.5-0.1 0.5 0.2 0.5-0.3 0.5 0.1 0.5 0.1 0.5-0.3 0.5-0.1 0.5-0.2 0.5 0.2 0.5-0.5 0.5-0.2 0.5 0.6 0.5-0.3 0.5-0.7 0.5-1.4 0.5-0.1 0.5 1.5 0.5 2 0.5-0.2 0.5-0.2 0.5-1 0.5 2 0.5 0.1 0.5 0.2 0.5-0.1 0.5 0.3 0.5 0.7 0.5-0.9 0.5 0.5 0.5 0.7 0.5 1.4 0.5 0.2 0.5 0.4 0.5 0.1 0.5-0.5 0.5-0.1 0.5-0.7 0.5 0.4 0.5-0.5 0.5 0.9 0.5-0.4 0.5-0.3 0.5-0.7 0.5-0.5 0.5 0 0.5 0.3 0.5 0.2 0.5 0.1 0.5 1.1 0.5 2.3 0.5 2.1 0.5 0.9 0.5-0.8 0.5-0.4 0.5-0.6 0.5 1 0.5 1.5 0.5 1.4 0.5 1.1 0.5-0.3 0.5 0.5"/>
<path d="M179.5,581.7l0.5-0.1 0.5 0.1 0.5 0 0.5-0.1 0.5-0.2 0.5 0 0.5 0 0.5 0 0.5-0.1 0.5 0 0.5 0 0.5 0 0.5-0.1 0.5-0.1 0.5 0.1 0.5 0 0.5 0 0.5-0.3 0.5 0 0.5-0.2 0.5 0 0.5 0 0.5 0.1 0.5 0.2 0.5-0.2 0.5-0.1 0.5-0.4 0.5 0 0.5 0 0.5 0.2 0.5 0.2 0.5 0 0.5 0 0.5-0.2 0.5 0 0.5 0 0.5-0.2 0.5-0.2 0.5-0.1 0.5 0 0.5 0.1 0.5 0.1 0.5 0 0.5-0.2 0.5 0 0.5 0 0.5 0 0.5 0 0.5-0.1 0.5 0 0.5 0 0.5 0.1 0.5 0.1 0.5-0.1 0.5 0 0.5 0.1 0.5 0 0.5 0 0.5-0.1 0.5-0.2 0.5-0.3 0.5-0.1 0.5 0.1 0.5 0.3 0.5 0.1 0.5 0 0.5-0.2 0.5-0.1 0.5 0.1 0.5 0 0.5-0.1 0.5 0 0.5 0 0.5 0 0.5 0.1 0.5 0 0.5 0.1 0.5-0.1 0.5-0.3 0.5-0.1 0.5-0.1 0.5 0.1 0.5-0.2 0.5-0.1 0.5 0.1 0.5 0 0.5 0 0.5-0.2 0.5 0 0.5 0 0.5 0.1 0.5 0.1 0.5 0 0.5 0 0.5 0 0.5-0.2 0.5 0.1 0.5 0.1 0.5 0 0.5-0.1 0.5-0.1 0.5 0.2 0.5 0 0.5-0.1 0.5 0 0.5 0 0.5 0 0.5 0.1 0.5-0.1 0.5-0.1 0.5-0.1 0.5 0.1 0.5 0.1 0.5-0.1 0.5 0 0.5-0.2 0.5 0.1 0.5 0 0.5 0 0.5-0.1 0.5 0 0.5 0.1 0.5 0 0.5 0 0.5-0.1 0.5-0.1 0.5 0.1 0.5 0 0.5-0.1 0.5 0 0.5 0 0.5 0.1 0.5-0.1 0.5 0 0.5-0.1 0.5-0.1 0.5 0 0.5-0.1 0.5 0.3 0.5 0 0.5 0 0.5-0.2 0.5-0.1 0.5 0 0.5-0.1 0.5-0.1 0.5 0.2 0.5 0.1 0.5 0 0.5 0 0.5-0.1 0.5 0.2 0.5-0.2 0.5 0.2 0.5-0.4 0.5 0 0.5-0.2 0.5 0.2 0.5 0 0.5 0.1 0.5-0.4 0.5-0.1 0.5-0.1 0.5 0.2 0.5 0.2 0.5-0.1 0.5 0.1 0.5-0.1 0.5-0.1 0.5 0 0.5-0.1 0.5-0.1 0.5-0.1 0.5 0 0.5 0.1 0.5-0.1 0.5 0.1 0.5-0.1 0.5-0.1 0.5-0.1 0.5-0.1 0.5 0.2 0.5 0 0.5 0.2 0.5 0 0.5-0.2 0.5-0.2 0.5 0.1 0.5 0.2 0.5 0.2 0.5-0.2 0.5-0.1 0.5 0 0.5 0 0.5-0.1 0.5-0.2 0.5 0.1 0.5 0.1 0.5-0.1 0.5 0 0.5-0.1 0.5 0 0.5 0 0.5 0 0.5 0.2 0.5-0.2 0.5-0.2 0.5-0.2 0.5-0.1 0.5 0 0.5 0 0.5 0.2 0.5 0.1 0.5 0 0.5-0.3 0.5 0 0.5 0 0.5 0 0.5 0 0.5-0.1 0.5 0.1 0.5 0 0.5 0.1 0.5-0.2 0.5-0.2 0.5 0.1 0.5 0.1 0.5 0 0.5-0.2 0.5 0.1 0.5 0.1 0.5 0.1 0.5-0.3 0.5 0 0.5-0.1 0.5 0 0.5-0.2 0.5 0.1 0.5 0 0.5 0 0.5-0.3 0.5 0 0.5 0 0.5-0.1 0.5-0.1 0.5 0.1 0.5 0.1 0.5 0 0.5-0.1 0.5 0 0.5-0.1 0.5-0.1 0.5-0.1 0.5 0 0.5 0 0.5-0.1 0.5-0.2 0.5-0.1 0.5 0 0.5 0.1 0.5 0 0.5 0.1 0.5-0.1 0.5-0.1 0.5-0.2 0.5 0 0.5 0.1 0.5 0.1 0.5-0.3 0.5-0.1 0.5-0.1 0.5 0.2 0.5-0.1 0.5 0.1 0.5 0 0.5 0 0.5-0.1 0.5-0.3 0.5 0 0.5 0 0.5 0.1 0.5-0.2 0.5 0 0.5 0 0.5 0 0.5-0.1 0.5-0.2 0.5-0.1 0.5-0.1 0.5-0.1 0.5-0.1 0.5 0 0.5 0 0.5 0.1 0.5 0 0.5-0.2 0.5-0.2 0.5 0 0.5-0.1 0.5 0 0.5-0.3 0.5 0 0.5-0.2 0.5 0 0.5-0.1 0.5 0.1 0.5 0 0.5-0.2 0.5 0 0.5-0.1 0.5 0 0.5-0.3 0.5 0.1 0.5-0.1 0.5-0.1 0.5-0.1 0.5-0.1 0.5-0.1 0.5-0.1 0.5 0 0.5-0.1 0.5-0.2 0.5 0 0.5-0.2 0.5-0.1 0.5 0 0.5-0.1 0.5-0.2 0.5-0.2 0.5-0.2 0.5 0.2 0.5-0.2 0.5-0.2 0.5-0.3 0.5 0 0.5-0.2 0.5-0.2 0.5-0.3 0.5-0.1 0.5 0.1 0.5-0.1 0.5 0.1 0.5-0.1 0.5-0.1 0.5-0.3 0.5-0.3 0.5 0 0.5-0.3 0.5 0 0.5 0 0.5-0.1 0.5-0.4 0.5-0.3 0.5 0 0.5-0.1 0.5-0.2 0.5-0.2 0.5-0.3 0.5-0.1 0.5-0.1 0.5-0.2 0.5-0.1 0.5-0.4 0.5-0.2 0.5-0.3 0.5-0.1 0.5-0.1 0.5-0.1 0.5-0.1 0.5-0.1 0.5-0.4 0.5-0.4 0.5-0.4 0.5-0.4 0.5-0.1 0.5-0.4 0.5-0.1 0.5-0.4 0.5-0.3 0.5-0.5 0.5-0.1 0.5-0.4 0.5-0.3 0.5-0.4 0.5-0.2 0.5-0.3 0.5-0.5 0.5-0.3 0.5-0.6 0.5-0.5 0.5-0.7 0.5-0.6 0.5-0.5 0.5-0.6 0.5-0.5 0.5-0.6 0.5-0.6 0.5-0.6 0.5-0.7 0.5-0.8 0.5-0.9 0.5-0.8 0.5-0.5 0.5-0.6 0.5-0.7 0.5-1.2 0.5-1 0.5-0.9 0.5-0.9 0.5-1.2 0.5-1.2 0.5-1.2 0.5-1.1 0.5-1.2 0.5-1.2 0.5-1.1 0.5-1.3 0.5-1.1 0.5-1.4 0.5-1.1 0.5-1.4 0.5-1.2 0.5-1.4 0.5-1.6 0.5-1.5 0.5-1.4 0.5-1.1 0.5-1.3 0.5-1.4 0.5-1.4 0.5-1.5 0.5-1.3 0.5-1.4 0.5-1.3 0.5-1.4 0.5-1.6 0.5-1.5 0.5-1.3 0.5-1.1 0.5-1.1 0.5-1 0.5-1 0.5-0.9 0.5-0.8 0.5-0.8 0.5-0.7 0.5-0.8 0.5-0.8 0.5-0.8 0.5-0.8 0.5-0.6 0.5-0.3 0.5 0.8 0.5 0.8 0.5 1 0.5 0.9 0.5 1.2 0.5 1.1 0.5 1.4 0.5 1.3 0.5 2 0.5 2.3 0.5 2.2 0.5 1.7 0.5 1 0.5 0.6 0.5 0.4 0.5 0.2 0.5 0 0.5 0.2 0.5 0 0.5-0.1 0.5-0.3 0.5-0.2 0.5 0.1 0.5-0.1 0.5-0.4 0.5-0.3 0.5-0.2 0.5 0 0.5 0 0.5 0 0.5 0.2 0.5 0.3 0.5 0.3 0.5 0.6 0.5 0.7 0.5 1.1 0.5 1.2 0.5 1.2 0.5 1.1 0.5 1 0.5 0.9 0.5 1.1 0.5 1 0.5 1.4 0.5 1.2 0.5 1.7 0.5 1.5 0.5 1.7 0.5 1.5 0.5 1.4 0.5 1.7 0.5 1.7 0.5 1.7 0.5 1.8 0.5 1.7 0.5 1.8 0.5 1.6 0.5 1.7 0.5 1.6 0.5 1.7 0.5 1.5 0.5 1.7 0.5 1.5 0.5 1.7 0.5 1.5 0.5 1.6 0.5 1.4 0.5 1.4 0.5 1.6 0.5 1.4 0.5 1.2 0.5 1.3 0.5 1.3 0.5 1.3 0.5 1.2 0.5 1.1 0.5 0.9 0.5 1 0.5 0.7 0.5 1.1 0.5 0.7 0.5 0.9 0.5 0.8 0.5 0.8 0.5 0.7 0.5 0.9 0.5 0.8 0.5 0.7 0.5 0.6 0.5 0.7 0.5 0.5 0.5 0.6 0.5 0.4 0.5 0.6 0.5 0.4 0.5 0.2 0.5 0.5 0.5 0.2 0.5 0.6 0.5 0.3 0.5 0.4 0.5 0.2 0.5 0.2 0.5 0.3 0.5 0.2 0.5 0.2 0.5 0 0.5-0.1 0.5 0.2 0.5 0 0.5 0.1 0.5-0.1 0.5 0 0.5 0 0.5-0.1 0.5 0 0.5-0.1 0.5-0.1 0.5-0.1 0.5-0.2 0.5-0.3 0.5-0.3 0.5-0.4 0.5-0.4 0.5-0.5 0.5-0.4 0.5-0.2 0.5-0.3 0.5-0.6 0.5-0.7 0.5-0.6 0.5-0.4 0.5-0.4 0.5-0.6 0.5-0.5 0.5-0.7 0.5-0.9 0.5-0.9 0.5-1 0.5-0.8 0.5-1.2 0.5-1.3 0.5-1.2 0.5-1.3 0.5-1.2 0.5-1.6 0.5-1.1 0.5-1.3 0.5-1.4 0.5-1.5 0.5-1.5 0.5-1.3 0.5-1.3 0.5-1.3 0.5-1.3 0.5-1.6 0.5-1.5 0.5-1.7 0.5-1.5 0.5-1.7 0.5-1.4 0.5-1.7 0.5-1.9 0.5-2 0.5-2.2 0.5-1.9 0.5-2.3 0.5-2.7 0.5-3.3 0.5-3.8 0.5-3.8 0.5-3.9 0.5-3.6 0.5-3 0.5-2.3 0.5-2.1 0.5-2.1 0.5-1.9 0.5-1.8 0.5-1.2 0.5 0.1 0.5 0.4 0.5 0.5 0.5 0.8 0.5 1 0.5 1.1 0.5 1 0.5 1 0.5 1.1 0.5 1 0.5 1.4 0.5 1.9 0.5 2.1 0.5 2.4 0.5 2.4 0.5 2.4 0.5 2.2 0.5 2.1 0.5 1.9 0.5 1.3 0.5 1.1 0.5 1.1 0.5 1.1 0.5 0.9 0.5 0.9 0.5 0.7 0.5 0.7 0.5 0.6 0.5 0.3 0.5 0 0.5-0.1 0.5 0 0.5 0 0.5-0.1 0.5-0.3 0.5-0.4 0.5-0.7 0.5-0.6 0.5-0.8 0.5-0.9 0.5-0.9 0.5-0.8 0.5-0.9 0.5-1 0.5-1.2 0.5-0.9 0.5-1.2 0.5-1.7 0.5-2.1 0.5-2 0.5-1.6 0.5-1.2 0.5-1.3 0.5-1 0.5-1 0.5-1 0.5-1.1 0.5-0.9 0.5-0.7 0.5-0.9 0.5-0.8 0.5-0.8 0.5-0.5 0.5-0.7 0.5-0.6 0.5-0.9 0.5-0.6 0.5-0.7 0.5-0.5 0.5-0.8 0.5-0.5 0.5-0.6 0.5-0.2 0.5-0.7 0.5-0.6 0.5-0.4 0.5-0.4 0.5-0.4 0.5-0.6 0.5-0.6 0.5-0.5 0.5-0.5 0.5-0.6 0.5-0.7 0.5-0.7 0.5-0.7 0.5-0.5 0.5-0.7 0.5-0.6 0.5-1 0.5-0.8 0.5-0.9 0.5-0.7 0.5-0.9 0.5-0.7 0.5-0.6 0.5-0.9 0.5-0.7 0.5-0.9 0.5-0.6 0.5-0.9 0.5-0.9 0.5-0.7 0.5-0.9 0.5-0.8 0.5-1.1 0.5-0.8 0.5-1 0.5-0.8 0.5-0.7 0.5-0.9 0.5-0.9 0.5-1.3 0.5-1.2 0.5-1.2 0.5-1.1 0.5-1.1 0.5-0.9 0.5-0.9 0.5-1.1 0.5-1.2 0.5-1.4 0.5-1.2 0.5-1.2 0.5-1.1 0.5-1.4 0.5-1.3 0.5-1.3 0.5-1.2 0.5-1.2 0.5-1.2 0.5-1.2 0.5-1.2 0.5-1 0.5-0.7 0.5-1.1 0.5-0.4 0.5-0.4 0.5 0 0.5-0.1 0.5 0.2 0.5 0.7 0.5 0.4 0.5 0.6 0.5 0.6 0.5 1 0.5 1 0.5 0.9 0.5 0.7 0.5 0.7 0.5 0.9 0.5 0.9 0.5 1 0.5 1 0.5 1.2 0.5 1.3 0.5 1.3 0.5 1.3 0.5 1.6 0.5 1.6 0.5 1.5 0.5 1.4 0.5 1.7 0.5 1.9 0.5 2 0.5 2.1 0.5 2.1 0.5 1.9 0.5 2.2 0.5 2.1 0.5 2.5 0.5 2.5 0.5 2.7 0.5 2.7 0.5 2.8 0.5 2.8 0.5 2.6 0.5 2.5 0.5 2.3 0.5 2.4 0.5 2.5 0.5 2.5 0.5 2.8 0.5 2.4 0.5 2.5 0.5 2.6 0.5 2.5 0.5 2.3 0.5 1.6 0.5 1 0.5 0.9 0.5 0.9 0.5 1.1 0.5 0.6 0.5 0.7 0.5 0 0.5 0 0.5-0.2 0.5 0.2 0.5-0.2 0.5 0 0.5-0.6 0.5-0.3 0.5-0.4 0.5-0.4 0.5-0.6 0.5-0.8 0.5-0.6 0.5-1 0.5-1 0.5-1.4 0.5-1.4 0.5-1.4 0.5-1.2 0.5-1.3 0.5-1.9 0.5-2.2 0.5-2.2 0.5-2.2 0.5-2.6 0.5-2.5 0.5-3.1 0.5-3.3 0.5-3.8 0.5-4.1 0.5-4.4 0.5-4.6 0.5-5.4 0.5-6.6 0.5-9.5 0.5-13.1 0.5-8.5 0.5-8.1 0.5-7.7 0.5-8.8 0.5-8 0.5-5.2 0.5-2.8 0.5-1.1 0.5-1 0.5 0.5 0.5 0.6 0.5 0.9 0.5 1.4 0.5 2.4 0.5 2.8 0.5 2.8 0.5 3.1 0.5 3.4 0.5 3.6 0.5 4.8 0.5 2.4 0.5 0.4 0.5-0.1 0.5-0.1 0.5-0.5 0.5-0.8 0.5-2.9 0.5-3.7 0.5-3.4 0.5-3.7 0.5-3.9 0.5-3 0.5-2.6 0.5-2.1 0.5-2.5 0.5-3.4 0.5-4.3 0.5-4.1 0.5-3.6 0.5-3.7 0.5-3.6 0.5-4 0.5-3.7 0.5-3.8 0.5-3.9 0.5-3.6 0.5-3.8 0.5-3.8 0.5-4 0.5-4.4 0.5-4.5 0.5-4.9 0.5-5.2 0.5-5.2 0.5-5.3 0.5-5.3 0.5-5.6 0.5-5.7 0.5-5.1 0.5-4 0.5-3.5 0.5-2.8 0.5-2.5 0.5-1.9 0.5 3.6 0.5 4 0.5 3.4 0.5 3.2 0.5 3.2 0.5 3.2 0.5 3.2 0.5 3 0.5 2.7 0.5 2.7 0.5 2.7 0.5 2.7 0.5 2.6 0.5 2.8 0.5 2.8 0.5 3 0.5 3 0.5 2.8 0.5 3 0.5 3.1 0.5 3.2 0.5 3.1 0.5 3.2 0.5 2.8 0.5 3.1 0.5 3.3 0.5 3.5 0.5 3.4 0.5 3.4 0.5 3.7 0.5 3.7 0.5 3.9 0.5 4.4 0.5 4.9 0.5 4.3 0.5 3.3 0.5 2.7 0.5 2.4 0.5 2.2 0.5 1.9 0.5 2.1 0.5 1.9 0.5 1.8 0.5 1.7 0.5 1.6 0.5 1.4 0.5 1.6 0.5 1.5 0.5 1.5 0.5 1.4 0.5 1.2 0.5 1.5 0.5 1.6 0.5 1.6 0.5 1.6 0.5 1.5 0.5 1.6 0.5 1.8 0.5 1.9 0.5 1.8 0.5 1.4 0.5 1.5 0.5 1.6 0.5 1.6 0.5 1.5 0.5 1.4 0.5 1.2 0.5 1.3 0.5 1.3 0.5 1.2 0.5 1.2 0.5 1.3 0.5 1.3 0.5 1.1 0.5 1.1 0.5 1 0.5 1.3 0.5 1.2 0.5 1.2 0.5 1.3 0.5 0.9 0.5 1.1 0.5 1 0.5 1.2 0.5 1.1 0.5 1.3 0.5 1.1 0.5 1 0.5 1 0.5 1.1 0.5 0.9 0.5 0.9 0.5 1 0.5 1.2 0.5 1.1 0.5 0.9 0.5 1 0.5 0.9 0.5 1.1 0.5 0.8 0.5 0.9 0.5 0.7 0.5 1 0.5 1 0.5 1.1 0.5 0.6 0.5 0.8 0.5 0.6 0.5 1 0.5 1 0.5 0.8 0.5 0.9 0.5 0.8 0.5 0.8 0.5 0.8 0.5 0.9 0.5 1 0.5 0.9 0.5 0.9 0.5 1 0.5 0.9 0.5 1 0.5 1 0.5 1 0.5 0.8 0.5 0.9 0.5 0.8 0.5 1 0.5 1 0.5 1 0.5 1.1 0.5 0.9 0.5 1 0.5 0.7 0.5 1 0.5 0.9 0.5 1 0.5 0.8 0.5 0.8 0.5 0.8 0.5 0.7 0.5 0.6 0.5 0.7 0.5 0.6 0.5 0.6 0.5 0.5 0.5 0.6 0.5 0.5 0.5 0.5 0.5 0.5 0.5 0.4 0.5 0.3 0.5 0.2 0.5 0.3 0.5 0.4 0.5 0.3 0.5 0.2 0.5-0.1 0.5 0 0.5-0.1 0.5 0 0.5-0.1 0.5-0.5 0.5-0.7 0.5-0.8 0.5-0.7 0.5-1 0.5-0.6 0.5-0.7 0.5-0.3 0.5-0.7 0.5 0 0.5 0.8 0.5 1 0.5 1 0.5 1 0.5 1.2 0.5 1.3 0.5 1.2 0.5 1.2 0.5 0.9 0.5 0.8 0.5 0.8 0.5 1 0.5 0.8 0.5 0.8 0.5 0.6 0.5 0.7 0.5 0.6 0.5 0.4 0.5 0.6 0.5 0.4 0.5 0.6 0.5 0.4 0.5 0.3 0.5 0.4 0.5 0.4 0.5 0.5 0.5 0.3 0.5 0.3 0.5 0.3 0.5 0.4 0.5 0.6 0.5 0.3 0.5 0.1 0.5 0.1 0.5 0.2 0.5 0.2 0.5 0.1 0.5 0.3 0.5 0.1 0.5 0.2 0.5 0 0.5 0 0.5 0.1 0.5 0.1 0.5 0.1 0.5 0.2 0.5 0.1 0.5 0.3 0.5 0.2 0.5 0.2 0.5 0 0.5 0.2 0.5 0.1 0.5 0 0.5 0 0.5-0.1 0.5 0.1 0.5 0.1 0.5 0.3 0.5 0.1 0.5-0.1 0.5 0.1 0.5-0.1 0.5 0 0.5 0.2 0.5 0.3 0.5 0.2 0.5-0.2 0.5 0 0.5 0 0.5 0.2 0.5 0.1 0.5 0.1 0.5 0.1 0.5 0.1 0.5-0.1 0.5 0 0.5 0.2 0.5 0.1 0.5 0.1 0.5-0.1 0.5 0 0.5-0.1 0.5 0 0.5 0 0.5 0 0.5 0.1 0.5 0.3 0.5 0 0.5 0 0.5-0.1 0.5 0.1 0.5 0.2 0.5 0.1 0.5-0.1 0.5 0.1 0.5 0.2 0.5 0.3 0.5 0.1 0.5 0.1 0.5-0.2 0.5 0.1 0.5 0.3 0.5 0.3 0.5 0.2 0.5 0.2 0.5 0.2 0.5 0.3 0.5 0.1 0.5 0.3 0.5 0.1 0.5 0.3 0.5 0.4 0.5 0 0.5 0.3 0.5-0.1 0.5 0.3 0.5 0.2 0.5 0.3 0.5 0.5 0.5 0.2 0.5 0.3 0.5 0.2 0.5 0.2 0.5 0.3 0.5 0.4 0.5 0.3 0.5 0.2 0.5 0.2 0.5 0.1 0.5 0.1 0.5 0.1 0.5 0.4 0.5 0.5 0.5 0.2 0.5 0.1 0.5 0 0.5 0 0.5 0.1 0.5 0.2 0.5 0.1 0.5 0.1 0.5 0 0.5 0.2 0.5 0.3 0.5 0.2 0.5-0.1 0.5 0 0.5 0 0.5 0.1 0.5 0.1 0.5 0.4 0.5 0.3 0.5-0.1 0.5 0.1 0.5-0.1 0.5 0.3 0.5-0.3 0.5 0.3 0.5 0 0.5 0.2 0.5-0.1 0.5 0.2 0.5 0.3 0.5 0.2 0.5 0 0.5 0.2 0.5 0.1 0.5 0 0.5 0.1 0.5 0.2 0.5 0.3 0.5 0.1 0.5 0 0.5 0 0.5 0.1 0.5 0.2 0.5 0.1 0.5 0 0.5-0.1 0.5-0.1 0.5 0 0.5-0.1 0.5 0 0.5-0.4 0.5-0.6 0.5-0.6 0.5-0.3 0.5-0.3 0.5-0.5 0.5-0.6 0.5-0.6 0.5-0.6 0.5-0.7 0.5-0.8 0.5-1.3 0.5-1.7 0.5-2.1 0.5-1.8 0.5-1.5 0.5-1.5 0.5-1.4 0.5-1.6 0.5 1.5 0.5 1.4 0.5 1.4 0.5 1.5 0.5 1.5 0.5 1.6 0.5 1.3 0.5 1.3 0.5 0.9 0.5 0.9 0.5 0.9 0.5 0.5 0.5 0.6 0.5 0.4 0.5 0.6 0.5 0.1 0.5 0.2 0.5-0.1 0.5 0.2 0.5 0 0.5 0 0.5-0.2 0.5 0 0.5 0 0.5 0 0.5-0.2 0.5-0.3 0.5-0.2 0.5-0.2 0.5-0.3 0.5-0.3 0.5-0.2 0.5-0.2 0.5 0 0.5-0.3 0.5-0.2 0.5-0.4 0.5-0.2 0.5-0.5 0.5-0.4 0.5-0.3 0.5-0.2 0.5-0.4 0.5-0.4 0.5-0.3 0.5-0.3 0.5-0.4 0.5-0.5 0.5-0.4 0.5-0.1 0.5 0 0.5 0.1 0.5 0.2 0.5 0.1 0.5 0.5 0.5 0.2 0.5 0.6 0.5 0.4 0.5 0.6 0.5 0.4 0.5 0.4 0.5 0.6 0.5 0.5 0.5 0.5 0.5 0.2 0.5 0.2 0.5 0.2 0.5 0.3 0.5 0.4 0.5 0.3 0.5 0.4 0.5 0.1 0.5 0 0.5 0.2 0.5 0.2 0.5 0 0.5 0.2 0.5 0.4 0.5 0.3 0.5 0 0.5-0.3 0.5-0.1 0.5 0.1 0.5 0.2 0.5 0.1 0.5 0 0.5 0.2 0.5 0.2 0.5 0.1 0.5 0 0.5 0.2 0.5 0.2 0.5 0 0.5-0.3 0.5 0 0.5 0 0.5 0.2 0.5 0 0.5-0.1 0.5 0 0.5 0.1 0.5 0.2 0.5-0.4 0.5-0.1 0.5-0.4 0.5 0.7 0.5-0.5 0.5 0.1 0.5-0.4 0.5 0.1 0.5-0.1 0.5 0.1 0.5-0.2 0.5-0.2 0.5-0.1 0.5-0.1 0.5 0.1 0.5-0.3 0.5 0.1 0.5-0.3 0.5-0.2 0.5-0.1 0.5 0.4 0.5 0.5 0.5 0.3 0.5-0.2 0.5-0.2 0.5-0.2 0.5-0.4 0.5-0.1 0.5-0.3 0.5 0.4 0.5 0.1 0.5 0 0.5-0.3 0.5 0.1 0.5 0 0.5 0 0.5-0.1 0.5-0.1 0.5 0.5 0.5-0.1 0.5-0.1 0.5-0.8 0.5 0.5 0.5 0.2 0.5-0.2 0.5-1 0.5 0.1 0.5 0.9 0.5 0.6 0.5-0.3 0.5-0.3 0.5-0.3 0.5 0 0.5-0.4 0.5-0.1 0.5-0.4 0.5-0.1 0.5 0.6 0.5-0.3 0.5-0.6 0.5-0.7 0.5 0 0.5 0 0.5-0.3 0.5 0.1 0.5-0.1 0.5 0 0.5 0.1 0.5 0 0.5 0.5 0.5 0.2 0.5 0.2 0.5 0.7 0.5 0.2 0.5 0.9 0.5-0.2 0.5 0.8 0.5-0.4 0.5 0.3 0.5-0.3 0.5 0.4 0.5 0.8 0.5-0.3 0.5 0.1 0.5-0.8 0.5 1 0.5 0.3 0.5-0.1 0.5-0.4 0.5-0.2 0.5 0.2 0.5 0.6 0.5 0 0.5 0.2 0.5-0.7 0.5-0.4 0.5 0 0.5-0.6 0.5-0.1 0.5 0.1 0.5 0.4 0.5 1 0.5-0.9 0.5 0.6 0.5 0.2 0.5 0.2 0.5-0.6 0.5-0.8 0.5 0.4 0.5-0.3 0.5 0 0.5-0.5 0.5-0.6 0.5-0.6 0.5-0.5 0.5 0.3 0.5 0 0.5 0.1 0.5-0.9 0.5 0 0.5 0 0.5 0.1 0.5-0.6 0.5 0.2 0.5 0 0.5-0.2 0.5-0.5 0.5-0.5 0.5 0.3 0.5-0.6 0.5-0.7 0.5-0.5 0.5 0.8 0.5 1.1 0.5 0.2 0.5-1.2 0.5-1 0.5-0.4 0.5 0.5 0.5 1 0.5 1 0.5-0.9 0.5-0.7 0.5-0.4 0.5 0.5 0.5 0.9 0.5-0.3 0.5 0.9 0.5-0.3 0.5 1.2 0.5 0 0.5 0.2 0.5 0 0.5 0.5 0.5 2.5 0.5 0.5 0.5 0.6 0.5-2.2 0.5 0.3 0.5 0.5 0.5 0.2 0.5-1.1 0.5-0.6 0.5 0.4 0.5-1.2 0.5-1.7 0.5-0.9 0.5 1.7 0.5 0.1 0.5 0.2 0.5 0.5 0.5 1.2 0.5 1.2 0.5 0.5 0.5 1.1 0.5-0.2 0.5 0.7 0.5 0.9 0.5 2 0.5-0.1 0.5 1 0.5 1.5 0.5 1.4 0.5-0.7 0.5-1"/>
<path d="M179.5,581.3l0.5 0 0.5-0.1 0.5 0.2 0.5 0 0.5-0.1 0.5-0.1 0.5-0.1 0.5 0 0.5-0.1 0.5-0.1 0.5 0 0.5 0 0.5-0.1 0.5-0.1 0.5 0 0.5 0 0.5-0.2 0.5-0.1 0.5-0.1 0.5 0.2 0.5 0.1 0.5-0.1 0.5-0.1 0.5-0.2 0.5 0 0.5 0 0.5-0.1 0.5-0.1 0.5 0.1 0.5 0.2 0.5 0.1 0.5-0.2 0.5-0.2 0.5 0 0.5-0.1 0.5 0.1 0.5-0.2 0.5 0.2 0.5 0 0.5 0 0.5 0 0.5-0.2 0.5 0 0.5-0.1 0.5 0.2 0.5-0.1 0.5 0 0.5 0.1 0.5 0.1 0.5 0.1 0.5-0.3 0.5 0 0.5-0.1 0.5-0.2 0.5-0.1 0.5-0.1 0.5 0.1 0.5 0.1 0.5 0 0.5 0 0.5-0.1 0.5 0.1 0.5-0.1 0.5 0.1 0.5-0.1 0.5-0.1 0.5 0 0.5-0.1 0.5 0.3 0.5-0.1 0.5 0.1 0.5-0.3 0.5 0 0.5 0.1 0.5 0.2 0.5-0.1 0.5-0.1 0.5 0 0.5 0.1 0.5-0.1 0.5 0.1 0.5-0.1 0.5 0.2 0.5-0.1 0.5-0.1 0.5 0 0.5-0.1 0.5 0 0.5-0.2 0.5 0.1 0.5 0.1 0.5 0.2 0.5-0.2 0.5-0.1 0.5-0.2 0.5 0.2 0.5-0.1 0.5-0.1 0.5 0.1 0.5 0.1 0.5 0.3 0.5-0.1 0.5 0 0.5-0.2 0.5 0 0.5-0.1 0.5 0 0.5-0.3 0.5 0 0.5 0.1 0.5 0.1 0.5-0.1 0.5 0 0.5-0.1 0.5 0.1 0.5-0.1 0.5 0.1 0.5 0.1 0.5 0 0.5-0.1 0.5-0.1 0.5-0.1 0.5 0 0.5 0 0.5-0.1 0.5 0 0.5 0.1 0.5 0 0.5 0 0.5-0.2 0.5 0.1 0.5-0.1 0.5 0.2 0.5 0 0.5-0.1 0.5-0.2 0.5 0 0.5 0.2 0.5 0 0.5-0.2 0.5 0 0.5 0.1 0.5-0.2 0.5 0.1 0.5 0 0.5 0.1 0.5-0.1 0.5-0.2 0.5-0.1 0.5 0.2 0.5 0 0.5 0 0.5-0.4 0.5 0.2 0.5-0.1 0.5 0.1 0.5-0.1 0.5 0 0.5 0.2 0.5-0.1 0.5 0.2 0.5-0.2 0.5 0 0.5 0 0.5 0 0.5-0.1 0.5-0.2 0.5 0.1 0.5 0 0.5 0.1 0.5-0.1 0.5 0.1 0.5-0.1 0.5-0.1 0.5-0.3 0.5 0 0.5-0.1 0.5 0.2 0.5 0.1 0.5-0.1 0.5-0.1 0.5-0.3 0.5 0.4 0.5 0 0.5 0.1 0.5 0 0.5 0 0.5-0.1 0.5-0.1 0.5-0.2 0.5-0.1 0.5-0.2 0.5 0 0.5 0 0.5 0 0.5 0.1 0.5-0.1 0.5 0 0.5 0 0.5 0.2 0.5-0.1 0.5-0.2 0.5-0.1 0.5 0 0.5 0 0.5 0 0.5 0 0.5-0.1 0.5-0.1 0.5 0.1 0.5 0 0.5 0 0.5-0.1 0.5 0 0.5 0 0.5-0.1 0.5 0.1 0.5 0 0.5 0 0.5 0 0.5 0.1 0.5 0 0.5-0.2 0.5-0.1 0.5 0 0.5 0.1 0.5 0.2 0.5-0.3 0.5 0 0.5-0.1 0.5 0.1 0.5 0 0.5 0 0.5-0.3 0.5-0.1 0.5-0.2 0.5 0 0.5 0.1 0.5-0.1 0.5 0 0.5 0 0.5 0.1 0.5 0 0.5-0.2 0.5-0.1 0.5 0 0.5 0.2 0.5-0.1 0.5-0.1 0.5-0.2 0.5 0 0.5-0.1 0.5 0 0.5 0.1 0.5-0.1 0.5-0.2 0.5-0.1 0.5 0.2 0.5 0.1 0.5 0.2 0.5-0.1 0.5 0 0.5-0.2 0.5-0.3 0.5-0.1 0.5 0.1 0.5 0 0.5-0.2 0.5-0.1 0.5 0.1 0.5 0.1 0.5-0.2 0.5 0 0.5-0.2 0.5-0.1 0.5-0.1 0.5 0.1 0.5-0.1 0.5-0.2 0.5-0.1 0.5 0.1 0.5 0.1 0.5-0.2 0.5-0.2 0.5-0.2 0.5 0.2 0.5 0 0.5 0 0.5-0.1 0.5-0.1 0.5-0.1 0.5 0.1 0.5 0 0.5-0.2 0.5-0.3 0.5-0.1 0.5 0.1 0.5 0 0.5-0.2 0.5-0.2 0.5 0 0.5 0.1 0.5-0.1 0.5-0.1 0.5-0.1 0.5 0 0.5 0 0.5-0.1 0.5 0 0.5 0 0.5-0.2 0.5 0 0.5-0.2 0.5-0.1 0.5-0.2 0.5 0 0.5 0 0.5-0.2 0.5-0.1 0.5-0.1 0.5-0.2 0.5-0.2 0.5-0.1 0.5 0.1 0.5-0.1 0.5-0.2 0.5-0.3 0.5-0.3 0.5 0 0.5-0.1 0.5-0.1 0.5-0.3 0.5-0.1 0.5 0 0.5 0 0.5 0 0.5-0.3 0.5-0.2 0.5-0.2 0.5-0.1 0.5 0 0.5-0.2 0.5-0.1 0.5-0.2 0.5-0.2 0.5-0.2 0.5 0 0.5 0 0.5-0.2 0.5-0.1 0.5-0.2 0.5-0.1 0.5-0.1 0.5-0.2 0.5-0.2 0.5-0.1 0.5-0.2 0.5-0.2 0.5-0.4 0.5-0.2 0.5-0.3 0.5-0.1 0.5-0.2 0.5-0.2 0.5-0.2 0.5-0.2 0.5-0.2 0.5-0.4 0.5-0.3 0.5-0.3 0.5-0.3 0.5-0.1 0.5-0.5 0.5-0.3 0.5-0.5 0.5 0 0.5-0.2 0.5-0.2 0.5-0.6 0.5-0.5 0.5-0.6 0.5-0.4 0.5-0.2 0.5-0.1 0.5-0.4 0.5-0.7 0.5-0.5 0.5-0.2 0.5-0.3 0.5-0.7 0.5-0.6 0.5-0.7 0.5-0.3 0.5-0.8 0.5-0.7 0.5-0.9 0.5-0.5 0.5-0.6 0.5-0.7 0.5-1.1 0.5-0.8 0.5-0.9 0.5-0.7 0.5-0.9 0.5-0.8 0.5-1.1 0.5-1 0.5-1.2 0.5-1.1 0.5-1.2 0.5-1.4 0.5-1.4 0.5-1 0.5-1.1 0.5-1.2 0.5-1.3 0.5-1.4 0.5-1.4 0.5-1.4 0.5-1.5 0.5-1.4 0.5-1.3 0.5-1.4 0.5-1.3 0.5-1.8 0.5-1.5 0.5-1.6 0.5-1.4 0.5-1.5 0.5-1.4 0.5-1.4 0.5-1.6 0.5-1.5 0.5-1.6 0.5-1.5 0.5-1.7 0.5-1.5 0.5-1.4 0.5-1.4 0.5-1.3 0.5-1.2 0.5-0.9 0.5-0.9 0.5-1 0.5-0.8 0.5-0.7 0.5-0.9 0.5-0.9 0.5-0.8 0.5-0.6 0.5-0.6 0.5-0.4 0.5 0.5 0.5 0.8 0.5 1.1 0.5 1.1 0.5 1.2 0.5 1.3 0.5 1.2 0.5 1.5 0.5 2 0.5 2.6 0.5 2.5 0.5 1.9 0.5 1.1 0.5 0.6 0.5 0.3 0.5 0.1 0.5 0 0.5 0 0.5-0.1 0.5-0.2 0.5 0 0.5-0.1 0.5-0.1 0.5-0.2 0.5-0.2 0.5-0.4 0.5-0.2 0.5-0.3 0.5 0.1 0.5-0.2 0.5 0.1 0.5 0.1 0.5 0.5 0.5 0.5 0.5 0.9 0.5 1 0.5 1.5 0.5 1.2 0.5 1.3 0.5 1 0.5 1.2 0.5 1.1 0.5 1.2 0.5 1.4 0.5 1.5 0.5 1.7 0.5 1.4 0.5 1.6 0.5 1.6 0.5 1.9 0.5 1.7 0.5 1.8 0.5 1.7 0.5 1.7 0.5 1.7 0.5 1.7 0.5 1.6 0.5 1.6 0.5 1.7 0.5 1.8 0.5 1.7 0.5 1.6 0.5 1.7 0.5 1.6 0.5 1.7 0.5 1.5 0.5 1.4 0.5 1.5 0.5 1.5 0.5 1.6 0.5 1.5 0.5 1.6 0.5 1.4 0.5 1.3 0.5 1.2 0.5 1.1 0.5 1.3 0.5 1.1 0.5 1 0.5 0.9 0.5 0.8 0.5 0.9 0.5 1 0.5 0.8 0.5 1 0.5 0.8 0.5 0.8 0.5 0.8 0.5 0.7 0.5 0.6 0.5 0.4 0.5 0.4 0.5 0.6 0.5 0.7 0.5 0.5 0.5 0.5 0.5 0.5 0.5 0.3 0.5 0.4 0.5 0.4 0.5 0.3 0.5 0.3 0.5 0 0.5 0.4 0.5 0.4 0.5 0.3 0.5 0.2 0.5 0.3 0.5 0.1 0.5-0.1 0.5-0.1 0.5 0 0.5 0.1 0.5-0.2 0.5 0.1 0.5-0.1 0.5 0 0.5-0.3 0.5-0.2 0.5-0.1 0.5-0.3 0.5-0.3 0.5-0.5 0.5-0.2 0.5-0.4 0.5-0.3 0.5-0.4 0.5-0.4 0.5-0.5 0.5-0.4 0.5-0.5 0.5-0.7 0.5-0.5 0.5-0.3 0.5-0.5 0.5-0.7 0.5-0.8 0.5-1 0.5-1 0.5-1.1 0.5-0.9 0.5-1.2 0.5-1.4 0.5-1.5 0.5-1.7 0.5-1.4 0.5-1.4 0.5-1.3 0.5-1.3 0.5-1.6 0.5-1.5 0.5-1.6 0.5-1.5 0.5-1.2 0.5-1.6 0.5-1.5 0.5-1.6 0.5-1.6 0.5-1.6 0.5-1.8 0.5-1.9 0.5-1.9 0.5-1.9 0.5-2 0.5-2.3 0.5-2.6 0.5-2.6 0.5-2.7 0.5-3.2 0.5-3.7 0.5-3.9 0.5-4 0.5-3.6 0.5-3.3 0.5-2.7 0.5-2.5 0.5-2.2 0.5-2.1 0.5-1.8 0.5-1.5 0.5-0.1 0.5 0.7 0.5 0.6 0.5 0.9 0.5 0.9 0.5 1.1 0.5 1 0.5 1.2 0.5 1.3 0.5 1.3 0.5 1.4 0.5 1.8 0.5 2.3 0.5 2.3 0.5 2.5 0.5 2.8 0.5 2.6 0.5 2.3 0.5 2 0.5 1.4 0.5 1.3 0.5 1.1 0.5 1.1 0.5 0.9 0.5 0.9 0.5 1 0.5 0.8 0.5 0.5 0.5 0.3 0.5 0.2 0.5 0.2 0.5 0 0.5-0.4 0.5-0.4 0.5-0.4 0.5-0.3 0.5-0.4 0.5-0.5 0.5-0.9 0.5-0.7 0.5-1.2 0.5-0.9 0.5-1 0.5-0.9 0.5-1.1 0.5-1.2 0.5-1.3 0.5-2.1 0.5-2.2 0.5-2.2 0.5-1.7 0.5-1.4 0.5-1.4 0.5-1 0.5-1.2 0.5-1 0.5-1 0.5-0.7 0.5-1 0.5-0.9 0.5-1 0.5-0.6 0.5-0.8 0.5-0.6 0.5-0.9 0.5-0.9 0.5-0.7 0.5-0.5 0.5-0.4 0.5-0.6 0.5-0.6 0.5-0.6 0.5-0.6 0.5-0.7 0.5-0.4 0.5-0.6 0.5-0.4 0.5-0.7 0.5-0.6 0.5-0.5 0.5-0.7 0.5-0.5 0.5-0.7 0.5-0.5 0.5-0.8 0.5-0.6 0.5-0.7 0.5-0.7 0.5-0.9 0.5-0.9 0.5-0.9 0.5-0.9 0.5-0.7 0.5-0.9 0.5-0.9 0.5-1.1 0.5-0.8 0.5-0.8 0.5-0.8 0.5-0.8 0.5-1 0.5-0.8 0.5-1 0.5-0.9 0.5-0.9 0.5-1 0.5-0.9 0.5-1 0.5-0.9 0.5-1 0.5-0.8 0.5-1.1 0.5-0.9 0.5-1.1 0.5-1.4 0.5-1.1 0.5-1.2 0.5-1 0.5-1.1 0.5-1.2 0.5-1.3 0.5-1.4 0.5-1.4 0.5-1.4 0.5-1.4 0.5-1.2 0.5-1.5 0.5-1.5 0.5-1.5 0.5-1.1 0.5-1.1 0.5-1.2 0.5-1.4 0.5-1.2 0.5-0.9 0.5-1 0.5-0.3 0.5-0.2 0.5-0.1 0.5-0.2 0.5 0 0.5 0.7 0.5 0.6 0.5 0.8 0.5 0.6 0.5 0.7 0.5 0.9 0.5 0.8 0.5 1.1 0.5 0.9 0.5 1.2 0.5 1.1 0.5 1 0.5 1 0.5 1.1 0.5 1.3 0.5 1.5 0.5 1.6 0.5 1.6 0.5 1.6 0.5 1.7 0.5 1.9 0.5 1.6 0.5 1.8 0.5 2 0.5 2.1 0.5 2.2 0.5 2.2 0.5 2.4 0.5 2.4 0.5 2.6 0.5 2.7 0.5 2.8 0.5 2.9 0.5 3.1 0.5 3 0.5 2.7 0.5 2.8 0.5 2.8 0.5 2.9 0.5 2.7 0.5 2.7 0.5 2.8 0.5 2.5 0.5 2.6 0.5 2.9 0.5 2.9 0.5 2.6 0.5 1.7 0.5 1.3 0.5 1.3 0.5 1 0.5 0.8 0.5 0.7 0.5 0.4 0.5 0.3 0.5-0.1 0.5 0.1 0.5-0.1 0.5-0.2 0.5-0.1 0.5-0.4 0.5-0.4 0.5-0.6 0.5-0.5 0.5-0.3 0.5-0.5 0.5-0.8 0.5-1.2 0.5-1.3 0.5-1.4 0.5-1.2 0.5-1.4 0.5-1.6 0.5-1.6 0.5-2.1 0.5-2.3 0.5-2.6 0.5-2.4 0.5-2.7 0.5-2.8 0.5-3.3 0.5-3.8 0.5-4.1 0.5-4.6 0.5-4.8 0.5-5 0.5-6 0.5-7 0.5-10.9 0.5-14.3 0.5-9.4 0.5-8.1 0.5-8.1 0.5-9.1 0.5-8.3 0.5-4.8 0.5-2.6 0.5-1.2 0.5-1.1 0.5 0.5 0.5 0.6 0.5 1 0.5 1.5 0.5 2.6 0.5 3.2 0.5 3.2 0.5 3.2 0.5 3.5 0.5 3.7 0.5 5.3 0.5 2.8 0.5 0.5 0.5 0.1 0.5-0.5 0.5-0.4 0.5-0.9 0.5-3 0.5-4.2 0.5-3.8 0.5-4.5 0.5-4.1 0.5-3.2 0.5-2.4 0.5-2.3 0.5-2.8 0.5-3.7 0.5-4.8 0.5-4.4 0.5-4.1 0.5-4.1 0.5-4 0.5-4 0.5-4.1 0.5-4.4 0.5-4.3 0.5-3.9 0.5-3.9 0.5-3.9 0.5-4.5 0.5-4.5 0.5-4.9 0.5-5.2 0.5-5.5 0.5-5.7 0.5-5.8 0.5-5.7 0.5-5.9 0.5-5.9 0.5-5.3 0.5-4.4 0.5-3.6 0.5-2.9 0.5-2 0.5-2 0.5 3.7 0.5 4 0.5 3.7 0.5 3.7 0.5 3.4 0.5 3.3 0.5 3.2 0.5 3.1 0.5 3.1 0.5 2.9 0.5 2.6 0.5 2.8 0.5 2.7 0.5 3.2 0.5 2.9 0.5 3.2 0.5 3 0.5 3.3 0.5 3 0.5 3 0.5 3.1 0.5 3.2 0.5 3.4 0.5 3.4 0.5 3.4 0.5 3.5 0.5 3.6 0.5 3.7 0.5 3.7 0.5 3.8 0.5 3.9 0.5 4.4 0.5 4.9 0.5 5.2 0.5 4.6 0.5 3.5 0.5 2.9 0.5 2.6 0.5 2.5 0.5 2.4 0.5 2.2 0.5 2 0.5 1.8 0.5 1.7 0.5 1.6 0.5 1.7 0.5 1.6 0.5 1.8 0.5 1.4 0.5 1.7 0.5 1.6 0.5 1.5 0.5 1.5 0.5 1.7 0.5 1.9 0.5 1.9 0.5 2 0.5 1.8 0.5 1.8 0.5 1.6 0.5 1.6 0.5 1.8 0.5 1.7 0.5 1.7 0.5 1.5 0.5 1.5 0.5 1.4 0.5 1.6 0.5 1.3 0.5 1.5 0.5 1.3 0.5 1.4 0.5 1.1 0.5 1.2 0.5 1.4 0.5 1.3 0.5 1.3 0.5 1.3 0.5 1.2 0.5 1.3 0.5 1.3 0.5 1 0.5 1.1 0.5 1.1 0.5 1.4 0.5 1.2 0.5 1.3 0.5 1.2 0.5 1.2 0.5 1 0.5 1 0.5 1 0.5 1 0.5 1.3 0.5 1.2 0.5 1.1 0.5 0.9 0.5 1 0.5 1.1 0.5 1.1 0.5 1 0.5 1.1 0.5 0.8 0.5 0.8 0.5 0.8 0.5 1 0.5 1 0.5 0.8 0.5 1 0.5 0.9 0.5 1.1 0.5 1 0.5 0.9 0.5 0.9 0.5 0.9 0.5 1 0.5 0.9 0.5 0.9 0.5 1 0.5 1.1 0.5 0.9 0.5 1 0.5 1.1 0.5 1 0.5 1.1 0.5 0.8 0.5 0.9 0.5 0.8 0.5 1 0.5 0.9 0.5 1 0.5 1.1 0.5 1 0.5 0.8 0.5 1 0.5 1.2 0.5 1.1 0.5 1.1 0.5 0.7 0.5 0.7 0.5 0.8 0.5 0.9 0.5 0.9 0.5 0.6 0.5 0.5 0.5 0.7 0.5 0.5 0.5 0.5 0.5 0.5 0.5 0.4 0.5 0.4 0.5 0.5 0.5 0.4 0.5 0.3 0.5 0.1 0.5 0.4 0.5 0.5 0.5 0.1 0.5-0.1 0.5 0 0.5-0.1 0.5-0.1 0.5-0.6 0.5-0.8 0.5-1 0.5-0.9 0.5-0.7 0.5-0.9 0.5-0.6 0.5-0.8 0.5-0.5 0.5 0.1 0.5 1 0.5 1.1 0.5 1.1 0.5 1.3 0.5 1.4 0.5 1.3 0.5 1.3 0.5 1 0.5 0.9 0.5 0.9 0.5 1 0.5 0.7 0.5 0.8 0.5 0.6 0.5 0.8 0.5 0.6 0.5 0.8 0.5 0.4 0.5 0.7 0.5 0.6 0.5 0.6 0.5 0.4 0.5 0.2 0.5 0.6 0.5 0.4 0.5 0.7 0.5 0.4 0.5 0.4 0.5 0.3 0.5 0.5 0.5 0.2 0.5 0.2 0.5 0.1 0.5 0.2 0.5 0.1 0.5 0.4 0.5 0.1 0.5 0.1 0.5 0.1 0.5 0.2 0.5 0.3 0.5 0.1 0.5 0.3 0.5 0.1 0.5 0.1 0.5 0 0.5 0 0.5 0.2 0.5 0.1 0.5 0.3 0.5 0.2 0.5 0 0.5 0.1 0.5-0.2 0.5 0.1 0.5 0.1 0.5 0.1 0.5 0.1 0.5 0 0.5 0 0.5 0 0.5 0.2 0.5 0.2 0.5 0.3 0.5 0 0.5-0.1 0.5 0 0.5 0 0.5 0.3 0.5 0 0.5 0.3 0.5-0.1 0.5 0.1 0.5 0.1 0.5 0.2 0.5 0.2 0.5-0.1 0.5 0.1 0.5 0 0.5 0 0.5 0 0.5 0.2 0.5 0 0.5 0 0.5 0 0.5 0 0.5 0.1 0.5 0.2 0.5 0 0.5-0.1 0.5-0.1 0.5 0.1 0.5 0.1 0.5 0 0.5 0.2 0.5 0.2 0.5 0.1 0.5-0.1 0.5 0.2 0.5 0.2 0.5 0.4 0.5 0.1 0.5 0.1 0.5 0.1 0.5 0.2 0.5 0.2 0.5 0.2 0.5 0.5 0.5 0.3 0.5 0.2 0.5-0.1 0.5 0.3 0.5 0.1 0.5 0.3 0.5 0.2 0.5 0.2 0.5 0.4 0.5 0.4 0.5 0.2 0.5 0.3 0.5 0.3 0.5 0.4 0.5 0.1 0.5 0.3 0.5 0.3 0.5 0.3 0.5 0.2 0.5 0.3 0.5 0.3 0.5 0.4 0.5 0.1 0.5 0.2 0.5 0.3 0.5 0.2 0.5 0.3 0.5 0.2 0.5 0.4 0.5 0 0.5 0.1 0.5-0.1 0.5 0.2 0.5 0.2 0.5 0.1 0.5 0.2 0.5 0 0.5 0.2 0.5-0.1 0.5 0.2 0.5 0.2 0.5 0.2 0.5 0 0.5 0.2 0.5 0.1 0.5 0 0.5 0 0.5 0.1 0.5 0.2 0.5 0.2 0.5 0.1 0.5 0 0.5-0.2 0.5 0.1 0.5 0.1 0.5 0.2 0.5 0.2 0.5 0.4 0.5 0.3 0.5 0.3 0.5 0 0.5 0 0.5-0.1 0.5 0.1 0.5 0.2 0.5 0.1 0.5 0.3 0.5 0 0.5 0.2 0.5-0.1 0.5 0 0.5 0 0.5-0.1 0.5-0.3 0.5-0.3 0.5-0.2 0.5-0.3 0.5-0.2 0.5-0.3 0.5-0.5 0.5-0.4 0.5-0.6 0.5-0.5 0.5-0.7 0.5-0.8 0.5-0.7 0.5-0.9 0.5-1.4 0.5-1.8 0.5-2 0.5-1.8 0.5-1.8 0.5-1.8 0.5-1.8 0.5-1.5 0.5 1.7 0.5 1.7 0.5 1.4 0.5 1.7 0.5 1.7 0.5 1.8 0.5 1.5 0.5 1.3 0.5 0.8 0.5 0.8 0.5 1 0.5 0.7 0.5 0.8 0.5 0.3 0.5 0.4 0.5 0.2 0.5 0.3 0.5 0 0.5 0 0.5 0 0.5 0.1 0.5 0 0.5-0.1 0.5 0 0.5-0.1 0.5-0.3 0.5-0.2 0.5-0.4 0.5 0 0.5-0.4 0.5-0.1 0.5-0.6 0.5 0 0.5-0.4 0.5 0 0.5-0.4 0.5-0.3 0.5-0.3 0.5-0.2 0.5-0.4 0.5-0.3 0.5-0.5 0.5-0.5 0.5-0.4 0.5-0.4 0.5-0.4 0.5-0.1 0.5-0.4 0.5-0.2 0.5-0.3 0.5-0.2 0.5 0 0.5 0 0.5 0.5 0.5 0.3 0.5 0.5 0.5 0.6 0.5 0.6 0.5 0.6 0.5 0.7 0.5 0.6 0.5 0.5 0.5 0.3 0.5 0.5 0.5 0.3 0.5 0.4 0.5 0.4 0.5 0.2 0.5 0.3 0.5 0.1 0.5 0.3 0.5-0.1 0.5 0 0.5 0.2 0.5 0.5 0.5 0.5 0.5 0.3 0.5-0.1 0.5-0.1 0.5-0.1 0.5 0.4 0.5 0.1 0.5 0 0.5 0 0.5 0.2 0.5 0.1 0.5 0.1 0.5-0.2 0.5 0.1 0.5-0.1 0.5 0.3 0.5 0 0.5 0.1 0.5-0.1 0.5 0.1 0.5-0.2 0.5 0.1 0.5-0.2 0.5 0.1 0.5 0 0.5 0 0.5-0.1 0.5-0.1 0.5 0 0.5 0.4 0.5 0 0.5-0.1 0.5-0.2 0.5 0 0.5 0 0.5-0.3 0.5 0.2 0.5 0 0.5 0.1 0.5-0.6 0.5-0.1 0.5-0.4 0.5 0.1 0.5 0.1 0.5 0 0.5-0.3 0.5-0.2 0.5 0.4 0.5 0.2 0.5-0.3 0.5-0.3 0.5-0.1 0.5 0.2 0.5 0 0.5-0.2 0.5 0 0.5 0.2 0.5 0.1 0.5-0.2 0.5-0.5 0.5 0 0.5 0 0.5 0.4 0.5-0.4 0.5-0.1 0.5 0.6 0.5-0.2 0.5-0.2 0.5-0.4 0.5 0 0.5 0.1 0.5-0.1 0.5 0.2 0.5 0 0.5 0 0.5-0.2 0.5 0.3 0.5-0.2 0.5 0 0.5-0.3 0.5 0.1 0.5 0.4 0.5 0.1 0.5-0.2 0.5-0.6 0.5-0.6 0.5 0 0.5-0.4 0.5 0.2 0.5-0.9 0.5 0 0.5-0.7 0.5-0.2 0.5-0.9 0.5 0.2 0.5 0.9 0.5 1.1 0.5-0.1 0.5 0.8 0.5 0.4 0.5 0.7 0.5 0 0.5 0.3 0.5 1.1 0.5 0.1 0.5 0.4 0.5-0.2 0.5 0 0.5 0.2 0.5 0.5 0.5 0.6 0.5 0.4 0.5-0.2 0.5-0.3 0.5 0.1 0.5-0.1 0.5 0.4 0.5-0.4 0.5-0.2 0.5-0.8 0.5 0.2 0.5-0.2 0.5 0.4 0.5 0.2 0.5 0.5 0.5-0.2 0.5-0.4 0.5 0.5 0.5 0.1 0.5 0.3 0.5-0.5 0.5 0.6 0.5-0.6 0.5 0.1 0.5-0.7 0.5 0.1 0.5-1 0.5-0.6 0.5-0.6 0.5 0.1 0.5 0 0.5-0.3 0.5 0 0.5-0.4 0.5 0.2 0.5-0.8 0.5 0 0.5-0.6 0.5 0.4 0.5-0.8 0.5-0.1 0.5-0.9 0.5 0.6 0.5-0.6 0.5 0.9 0.5-0.3 0.5 0.6 0.5-0.5 0.5 0 0.5-1 0.5-0.3 0.5-0.9 0.5 0.4 0.5-0.1 0.5 0.8 0.5 0.1 0.5 0.4 0.5-0.5 0.5 0 0.5-0.1 0.5 0.1 0.5 0 0.5 0.6 0.5 0.4 0.5 0.2 0.5-0.3 0.5-0.3 0.5 0.1 0.5 0.4 0.5 1 0.5 0.5 0.5 0.3 0.5-0.2 0.5 0.8 0.5 0.1 0.5 1.3 0.5-0.6 0.5 0.1 0.5-1 0.5 0 0.5 0.1 0.5-1.1 0.5-1.4 0.5-0.3 0.5 1.3 0.5 1.4 0.5-0.7 0.5 0.7 0.5-0.2 0.5 1.7 0.5-0.6 0.5 0.8 0.5-0.5 0.5 1.3 0.5 1.5 0.5 1.7 0.5 1.2 0.5 0.7 0.5 1 0.5 0.3 0.5-0.3 0.5-0.3"/>
<path d="M179.5,581.1l0.5 0 0.5 0 0.5 0 0.5 0 0.5-0.1 0.5-0.1 0.5 0 0.5 0 0.5 0.1 0.5-0.2 0.5 0.1 0.5 0 0.5 0 0.5-0.1 0.5-0.2 0.5-0.3 0.5-0.2 0.5 0.2 0.5 0.1 0.5-0.2 0.5-0.2 0.5 0 0.5 0.2 0.5 0.1 0.5 0.1 0.5-0.2 0.5 0 0.5-0.2 0.5 0 0.5-0.3 0.5-0.1 0.5 0.1 0.5 0.2 0.5 0.2 0.5-0.3 0.5 0 0.5-0.1 0.5-0.1 0.5 0 0.5 0 0.5 0.1 0.5 0.1 0.5 0.1 0.5 0 0.5 0 0.5-0.3 0.5 0 0.5-0.2 0.5 0 0.5 0.1 0.5 0.2 0.5 0.1 0.5 0 0.5 0 0.5-0.2 0.5-0.1 0.5-0.1 0.5 0 0.5 0 0.5 0.1 0.5-0.1 0.5 0.1 0.5 0 0.5 0.1 0.5-0.1 0.5-0.1 0.5 0 0.5 0 0.5 0.1 0.5-0.1 0.5 0 0.5-0.2 0.5-0.1 0.5-0.1 0.5 0.2 0.5 0 0.5 0 0.5-0.1 0.5-0.1 0.5 0.1 0.5 0 0.5 0.2 0.5 0 0.5 0 0.5-0.2 0.5-0.1 0.5-0.2 0.5 0.2 0.5 0 0.5 0.1 0.5-0.2 0.5 0 0.5 0.1 0.5 0.1 0.5 0 0.5 0.2 0.5-0.2 0.5 0 0.5-0.3 0.5 0.1 0.5 0 0.5 0.2 0.5-0.2 0.5-0.1 0.5 0 0.5-0.2 0.5 0 0.5-0.1 0.5 0.1 0.5 0.1 0.5-0.1 0.5 0.2 0.5 0 0.5 0 0.5 0 0.5-0.1 0.5-0.1 0.5-0.2 0.5 0 0.5 0.1 0.5 0.1 0.5-0.1 0.5-0.1 0.5 0 0.5 0 0.5 0 0.5-0.1 0.5 0 0.5-0.1 0.5 0 0.5 0 0.5 0.2 0.5 0.1 0.5 0 0.5 0 0.5 0.1 0.5-0.1 0.5-0.1 0.5-0.1 0.5 0 0.5 0.1 0.5-0.1 0.5-0.1 0.5 0 0.5 0 0.5-0.2 0.5 0 0.5-0.2 0.5 0.1 0.5-0.1 0.5 0.2 0.5-0.1 0.5 0.2 0.5 0 0.5 0 0.5-0.1 0.5 0 0.5-0.1 0.5-0.2 0.5-0.1 0.5 0 0.5 0.2 0.5 0 0.5-0.2 0.5 0.1 0.5-0.1 0.5 0.1 0.5 0.1 0.5 0 0.5 0 0.5-0.3 0.5 0.1 0.5-0.1 0.5 0.2 0.5-0.2 0.5 0.1 0.5-0.1 0.5-0.1 0.5-0.1 0.5 0 0.5-0.1 0.5 0 0.5 0.1 0.5 0.1 0.5-0.1 0.5 0 0.5 0.1 0.5 0.1 0.5-0.1 0.5-0.1 0.5-0.2 0.5-0.1 0.5 0 0.5 0.2 0.5-0.2 0.5 0 0.5 0 0.5 0.1 0.5 0 0.5 0 0.5-0.3 0.5 0.2 0.5-0.2 0.5 0.1 0.5-0.1 0.5-0.2 0.5-0.1 0.5 0.2 0.5 0.1 0.5-0.1 0.5-0.3 0.5 0 0.5 0.1 0.5 0.1 0.5-0.1 0.5 0 0.5 0 0.5 0 0.5-0.3 0.5 0 0.5 0 0.5 0.2 0.5 0.1 0.5 0 0.5 0 0.5-0.2 0.5 0.1 0.5-0.1 0.5 0 0.5-0.3 0.5-0.1 0.5 0 0.5 0.2 0.5 0.1 0.5-0.2 0.5-0.2 0.5-0.1 0.5 0 0.5 0 0.5-0.1 0.5 0 0.5-0.1 0.5-0.2 0.5-0.1 0.5 0 0.5 0.1 0.5 0.1 0.5-0.2 0.5 0 0.5-0.1 0.5 0.1 0.5-0.2 0.5 0.1 0.5 0 0.5 0.1 0.5-0.2 0.5 0 0.5-0.1 0.5 0.2 0.5 0 0.5 0 0.5-0.2 0.5-0.2 0.5-0.2 0.5 0.1 0.5 0.2 0.5 0 0.5-0.4 0.5 0 0.5 0 0.5 0.1 0.5-0.2 0.5-0.1 0.5 0.1 0.5-0.1 0.5 0 0.5-0.1 0.5 0.1 0.5-0.2 0.5-0.1 0.5-0.3 0.5 0.1 0.5-0.3 0.5 0.1 0.5-0.1 0.5 0.2 0.5-0.1 0.5 0 0.5 0 0.5-0.1 0.5-0.2 0.5-0.1 0.5 0 0.5-0.2 0.5-0.1 0.5-0.1 0.5 0 0.5-0.2 0.5 0 0.5 0 0.5-0.1 0.5-0.2 0.5-0.1 0.5 0 0.5 0.1 0.5-0.2 0.5-0.1 0.5-0.1 0.5-0.1 0.5-0.1 0.5 0 0.5 0.1 0.5 0.1 0.5-0.1 0.5-0.2 0.5-0.1 0.5-0.2 0.5-0.2 0.5 0 0.5-0.1 0.5-0.2 0.5-0.3 0.5-0.2 0.5 0 0.5-0.3 0.5-0.1 0.5-0.2 0.5 0 0.5 0 0.5-0.1 0.5-0.4 0.5-0.5 0.5 0 0.5 0 0.5 0 0.5-0.3 0.5-0.2 0.5 0.1 0.5-0.1 0.5-0.1 0.5 0 0.5-0.2 0.5-0.2 0.5-0.4 0.5 0 0.5-0.1 0.5 0 0.5-0.1 0.5-0.1 0.5-0.1 0.5-0.3 0.5-0.3 0.5-0.4 0.5-0.1 0.5 0.2 0.5-0.1 0.5-0.1 0.5-0.4 0.5-0.2 0.5-0.3 0.5-0.2 0.5-0.3 0.5-0.3 0.5-0.2 0.5-0.2 0.5-0.2 0.5-0.3 0.5-0.4 0.5-0.3 0.5-0.3 0.5-0.2 0.5-0.2 0.5-0.1 0.5-0.4 0.5-0.5 0.5-0.5 0.5-0.4 0.5-0.2 0.5-0.5 0.5-0.2 0.5-0.4 0.5-0.2 0.5-0.3 0.5-0.3 0.5-0.5 0.5-0.6 0.5-0.7 0.5-0.5 0.5-0.5 0.5-0.5 0.5-0.6 0.5-0.6 0.5-0.7 0.5-0.7 0.5-0.8 0.5-0.7 0.5-0.9 0.5-0.7 0.5-0.7 0.5-0.8 0.5-0.8 0.5-0.9 0.5-0.8 0.5-1 0.5-0.9 0.5-1.3 0.5-0.9 0.5-1.2 0.5-1 0.5-1.4 0.5-1.4 0.5-1.2 0.5-1.4 0.5-1.3 0.5-1.6 0.5-1.3 0.5-1.5 0.5-1.2 0.5-1.5 0.5-1.3 0.5-1.7 0.5-1.5 0.5-1.4 0.5-1.3 0.5-1.4 0.5-1.9 0.5-1.7 0.5-1.6 0.5-1.4 0.5-1.4 0.5-1.6 0.5-1.7 0.5-1.8 0.5-1.8 0.5-1.6 0.5-1.7 0.5-1.5 0.5-1.2 0.5-1.2 0.5-1.3 0.5-1.2 0.5-1 0.5-1 0.5-1.2 0.5-1 0.5-1.2 0.5-1 0.5-1 0.5-0.6 0.5-0.4 0.5-0.5 0.5-0.5 0.5 0.5 0.5 0.7 0.5 1.2 0.5 1.4 0.5 1.5 0.5 1.4 0.5 1.2 0.5 1.4 0.5 2.1 0.5 2.4 0.5 2.2 0.5 1.9 0.5 1.2 0.5 0.7 0.5 0.2 0.5 0.2 0.5 0.1 0.5 0 0.5-0.2 0.5-0.2 0.5-0.1 0.5-0.1 0.5-0.1 0.5-0.3 0.5-0.2 0.5-0.4 0.5-0.2 0.5-0.1 0.5-0.1 0.5 0 0.5-0.1 0.5 0.4 0.5 0.6 0.5 0.8 0.5 0.6 0.5 1.1 0.5 1.1 0.5 1.2 0.5 1.2 0.5 1.2 0.5 1.1 0.5 1.2 0.5 1.3 0.5 1.6 0.5 1.5 0.5 1.6 0.5 1.5 0.5 1.9 0.5 1.6 0.5 1.9 0.5 1.6 0.5 1.7 0.5 1.9 0.5 1.8 0.5 1.9 0.5 1.8 0.5 1.6 0.5 1.7 0.5 1.6 0.5 1.8 0.5 1.7 0.5 1.9 0.5 1.7 0.5 1.6 0.5 1.5 0.5 1.5 0.5 1.8 0.5 1.4 0.5 1.7 0.5 1.6 0.5 1.5 0.5 1.4 0.5 1.1 0.5 1.4 0.5 1.2 0.5 1.4 0.5 1 0.5 1.2 0.5 1 0.5 1.1 0.5 1.2 0.5 1.1 0.5 0.9 0.5 1 0.5 0.8 0.5 1 0.5 0.8 0.5 0.9 0.5 0.7 0.5 0.5 0.5 0.5 0.5 0.5 0.5 0.5 0.5 0.4 0.5 0.7 0.5 0.6 0.5 0.4 0.5 0.3 0.5 0.3 0.5 0.5 0.5 0.6 0.5 0.4 0.5 0.4 0.5 0.3 0.5 0.3 0.5 0.3 0.5 0.1 0.5 0.1 0.5-0.1 0.5 0.2 0.5 0.1 0.5 0 0.5-0.1 0.5-0.2 0.5 0.1 0.5 0 0.5-0.1 0.5-0.1 0.5-0.3 0.5 0 0.5-0.4 0.5-0.2 0.5-0.3 0.5-0.3 0.5-0.3 0.5-0.3 0.5-0.4 0.5-0.5 0.5-0.4 0.5-0.4 0.5-0.5 0.5-0.5 0.5-0.6 0.5-0.4 0.5-0.4 0.5-0.9 0.5-0.8 0.5-0.9 0.5-0.8 0.5-1.3 0.5-1.4 0.5-1.4 0.5-1.1 0.5-1.3 0.5-1.4 0.5-1.4 0.5-1.5 0.5-1.4 0.5-1.6 0.5-1.4 0.5-1.5 0.5-1.7 0.5-1.8 0.5-1.5 0.5-1.4 0.5-1.5 0.5-1.6 0.5-1.8 0.5-1.9 0.5-1.8 0.5-2 0.5-2.1 0.5-2.1 0.5-1.9 0.5-2 0.5-2.5 0.5-2.7 0.5-3.1 0.5-3.4 0.5-3.8 0.5-4.2 0.5-4.2 0.5-3.9 0.5-3.3 0.5-2.7 0.5-2.2 0.5-2.3 0.5-2 0.5-2.1 0.5-1.7 0.5-0.2 0.5 0.7 0.5 0.6 0.5 0.9 0.5 0.9 0.5 1.2 0.5 1.2 0.5 1.3 0.5 1.3 0.5 1.4 0.5 1.3 0.5 1.9 0.5 2.4 0.5 2.7 0.5 2.7 0.5 2.7 0.5 2.5 0.5 2.5 0.5 2 0.5 1.4 0.5 1.2 0.5 1.2 0.5 1.4 0.5 1.1 0.5 1.1 0.5 0.7 0.5 0.7 0.5 0.3 0.5 0.5 0.5 0.2 0.5 0.2 0.5 0 0.5 0 0.5-0.1 0.5-0.4 0.5-0.5 0.5-0.5 0.5-0.7 0.5-0.7 0.5-1 0.5-0.9 0.5-1 0.5-1 0.5-1.2 0.5-1.3 0.5-1.2 0.5-1.4 0.5-2 0.5-2.2 0.5-2.3 0.5-2 0.5-1.4 0.5-1.3 0.5-1.1 0.5-1.1 0.5-1.3 0.5-0.9 0.5-1 0.5-0.7 0.5-1.2 0.5-0.9 0.5-0.9 0.5-0.5 0.5-0.8 0.5-0.8 0.5-0.9 0.5-0.8 0.5-0.5 0.5-0.6 0.5-0.7 0.5-0.9 0.5-0.7 0.5-0.5 0.5-0.4 0.5-0.6 0.5-0.5 0.5-0.5 0.5-0.4 0.5-0.6 0.5-0.6 0.5-0.5 0.5-0.6 0.5-0.8 0.5-0.8 0.5-0.9 0.5-0.5 0.5-0.8 0.5-0.7 0.5-1.1 0.5-0.7 0.5-0.9 0.5-0.8 0.5-0.9 0.5-1.1 0.5-0.8 0.5-1.1 0.5-0.8 0.5-0.9 0.5-0.7 0.5-0.9 0.5-1.1 0.5-1 0.5-0.9 0.5-0.8 0.5-0.9 0.5-1 0.5-1 0.5-1.1 0.5-0.9 0.5-1.2 0.5-1.2 0.5-0.9 0.5-1.3 0.5-1 0.5-1.3 0.5-1 0.5-1.1 0.5-1.2 0.5-1.3 0.5-1.1 0.5-1.2 0.5-1.3 0.5-1.5 0.5-1.5 0.5-1.6 0.5-1.5 0.5-1.4 0.5-1.4 0.5-1.4 0.5-1.3 0.5-1.3 0.5-1.4 0.5-1.5 0.5-1.3 0.5-1.1 0.5-0.8 0.5-0.2 0.5-0.2 0.5-0.4 0.5 0.2 0.5 0.1 0.5 0.7 0.5 0.6 0.5 0.7 0.5 0.7 0.5 0.7 0.5 0.8 0.5 0.9 0.5 1.1 0.5 1.1 0.5 1.2 0.5 1.1 0.5 1.1 0.5 1.1 0.5 1.3 0.5 1.4 0.5 1.6 0.5 1.4 0.5 1.5 0.5 1.7 0.5 1.8 0.5 2 0.5 1.8 0.5 1.9 0.5 1.9 0.5 2.2 0.5 2.2 0.5 2.5 0.5 2.5 0.5 2.5 0.5 2.6 0.5 2.7 0.5 3.1 0.5 3 0.5 3.1 0.5 3 0.5 3 0.5 2.9 0.5 3 0.5 2.9 0.5 3 0.5 2.9 0.5 2.7 0.5 2.8 0.5 2.9 0.5 2.9 0.5 2.8 0.5 2.5 0.5 2.2 0.5 1.4 0.5 1.6 0.5 1.2 0.5 1 0.5 0.4 0.5 0.3 0.5 0.2 0.5 0.2 0.5 0 0.5 0 0.5-0.1 0.5-0.5 0.5-0.2 0.5-0.5 0.5-0.2 0.5-0.6 0.5-0.5 0.5-0.8 0.5-0.8 0.5-1.1 0.5-0.9 0.5-1.4 0.5-1.4 0.5-1.7 0.5-1.6 0.5-1.7 0.5-2.3 0.5-2.2 0.5-2.5 0.5-2.7 0.5-2.8 0.5-3.3 0.5-3.4 0.5-4.2 0.5-4.3 0.5-4.7 0.5-4.9 0.5-5.4 0.5-6.2 0.5-7.7 0.5-11.4 0.5-15.3 0.5-9.9 0.5-8.4 0.5-8.4 0.5-9.4 0.5-8.4 0.5-4.3 0.5-2.5 0.5-1.3 0.5-1 0.5 0.5 0.5 0.7 0.5 0.9 0.5 1.6 0.5 2.8 0.5 2.9 0.5 3.3 0.5 3.2 0.5 4 0.5 4 0.5 5.5 0.5 2.9 0.5 0.5 0.5 0.1 0.5-0.1 0.5-0.4 0.5-0.7 0.5-3.3 0.5-4.5 0.5-4.5 0.5-4.5 0.5-4.4 0.5-3 0.5-2.6 0.5-2.4 0.5-3 0.5-4 0.5-4.8 0.5-4.6 0.5-4.5 0.5-4.4 0.5-4.2 0.5-4.2 0.5-4.3 0.5-4.4 0.5-4.3 0.5-4.2 0.5-4.3 0.5-4.4 0.5-4.4 0.5-4.7 0.5-4.9 0.5-5.5 0.5-5.5 0.5-6.1 0.5-5.9 0.5-6 0.5-6.2 0.5-6.1 0.5-5.5 0.5-4.4 0.5-3.8 0.5-2.9 0.5-2.5 0.5-2.2 0.5 3.9 0.5 4.4 0.5 3.9 0.5 3.6 0.5 3.7 0.5 3.3 0.5 3.5 0.5 3.4 0.5 3.2 0.5 2.8 0.5 2.8 0.5 2.7 0.5 3.1 0.5 3 0.5 3.1 0.5 2.9 0.5 3 0.5 3.3 0.5 3.3 0.5 3.3 0.5 3.4 0.5 3.4 0.5 3.4 0.5 3.4 0.5 3.7 0.5 3.6 0.5 3.8 0.5 3.8 0.5 3.8 0.5 4 0.5 4.1 0.5 4.5 0.5 5.3 0.5 5.5 0.5 4.8 0.5 3.8 0.5 3.1 0.5 2.7 0.5 2.6 0.5 2.3 0.5 2.4 0.5 2.1 0.5 2 0.5 1.8 0.5 1.8 0.5 1.6 0.5 1.5 0.5 1.6 0.5 1.7 0.5 1.6 0.5 1.7 0.5 1.8 0.5 1.7 0.5 1.8 0.5 1.8 0.5 1.9 0.5 1.9 0.5 2 0.5 1.9 0.5 2.1 0.5 1.8 0.5 1.7 0.5 1.8 0.5 1.6 0.5 1.7 0.5 1.6 0.5 1.7 0.5 1.4 0.5 1.3 0.5 1.4 0.5 1.5 0.5 1.3 0.5 1.3 0.5 1.2 0.5 1.5 0.5 1.4 0.5 1.6 0.5 1.2 0.5 1.1 0.5 1.2 0.5 1.5 0.5 1.3 0.5 1.4 0.5 1 0.5 1.2 0.5 1.1 0.5 1.4 0.5 1.3 0.5 1.3 0.5 1.1 0.5 1.4 0.5 1.1 0.5 1.2 0.5 1 0.5 1.2 0.5 1.2 0.5 0.9 0.5 1 0.5 1.1 0.5 1.2 0.5 1.2 0.5 1 0.5 0.9 0.5 0.9 0.5 1 0.5 1 0.5 1 0.5 0.8 0.5 1 0.5 0.8 0.5 0.9 0.5 0.9 0.5 1 0.5 1.1 0.5 0.9 0.5 1.2 0.5 1 0.5 1 0.5 1 0.5 0.9 0.5 1.2 0.5 1 0.5 1.2 0.5 1.1 0.5 0.9 0.5 0.7 0.5 1 0.5 1.1 0.5 1.1 0.5 0.9 0.5 0.9 0.5 1.1 0.5 1.1 0.5 1 0.5 0.9 0.5 1 0.5 1 0.5 1.2 0.5 0.9 0.5 1 0.5 0.7 0.5 0.8 0.5 0.8 0.5 0.7 0.5 0.6 0.5 0.5 0.5 0.6 0.5 0.6 0.5 0.7 0.5 0.5 0.5 0.5 0.5 0.4 0.5 0.5 0.5 0.4 0.5 0.4 0.5 0 0.5 0.1 0.5 0.2 0.5 0.5 0.5 0.2 0.5-0.2 0.5-0.5 0.5-0.6 0.5-0.8 0.5-0.9 0.5-1.1 0.5-1 0.5-0.8 0.5-0.4 0.5-0.7 0.5-0.8 0.5-0.1 0.5 0.9 0.5 1.4 0.5 0.9 0.5 1.3 0.5 1.1 0.5 1.6 0.5 1.3 0.5 1.2 0.5 0.9 0.5 0.8 0.5 0.9 0.5 0.9 0.5 0.8 0.5 0.8 0.5 0.7 0.5 0.9 0.5 0.7 0.5 0.8 0.5 0.6 0.5 0.6 0.5 0.6 0.5 0.4 0.5 0.5 0.5 0.2 0.5 0.4 0.5 0.4 0.5 0.4 0.5 0.4 0.5 0.3 0.5 0.4 0.5 0.5 0.5 0.5 0.5 0.5 0.5 0.1 0.5 0 0.5 0 0.5 0.2 0.5 0.1 0.5 0.3 0.5-0.1 0.5 0.3 0.5 0 0.5 0.3 0.5 0.3 0.5 0.2 0.5 0.1 0.5 0.2 0.5-0.1 0.5 0.2 0.5-0.1 0.5 0.3 0.5 0 0.5 0.2 0.5 0.1 0.5 0.1 0.5 0.1 0.5 0.1 0.5-0.1 0.5 0.1 0.5 0 0.5 0.2 0.5 0.1 0.5 0 0.5 0.1 0.5 0.2 0.5 0.2 0.5 0.2 0.5 0.1 0.5 0 0.5-0.1 0.5-0.1 0.5 0.1 0.5 0.2 0.5 0.2 0.5 0.1 0.5 0.1 0.5 0 0.5-0.1 0.5-0.1 0.5 0.2 0.5 0.2 0.5 0.2 0.5 0 0.5 0 0.5 0 0.5 0.2 0.5-0.1 0.5 0.1 0.5 0 0.5 0.2 0.5 0.1 0.5 0 0.5 0.2 0.5-0.1 0.5 0.1 0.5 0.1 0.5 0.1 0.5 0.1 0.5 0 0.5 0.3 0.5 0.2 0.5 0.1 0.5 0.3 0.5 0.1 0.5 0.4 0.5 0.1 0.5 0.3 0.5 0.4 0.5 0.2 0.5 0.1 0.5 0.2 0.5 0.4 0.5 0.3 0.5 0.2 0.5 0.1 0.5 0.2 0.5 0.4 0.5 0.3 0.5 0.5 0.5 0.2 0.5 0.4 0.5 0.3 0.5 0.3 0.5 0.4 0.5 0 0.5 0.3 0.5 0.1 0.5 0.3 0.5 0.3 0.5 0.3 0.5 0.4 0.5 0.3 0.5 0.1 0.5 0.2 0.5 0.1 0.5 0.3 0.5 0.2 0.5 0.2 0.5 0.1 0.5 0 0.5 0.2 0.5 0 0.5 0.3 0.5 0.2 0.5 0.2 0.5 0.2 0.5 0 0.5 0 0.5 0.1 0.5 0.2 0.5 0.1 0.5 0.2 0.5 0 0.5 0.1 0.5 0.2 0.5-0.1 0.5 0.1 0.5-0.1 0.5 0.3 0.5 0.1 0.5 0.2 0.5 0.2 0.5 0.1 0.5 0.3 0.5 0.1 0.5 0.2 0.5 0 0.5 0.1 0.5 0.2 0.5 0.2 0.5 0.1 0.5 0.1 0.5 0.3 0.5 0.1 0.5-0.1 0.5 0.1 0.5-0.1 0.5 0.3 0.5-0.1 0.5 0.1 0.5-0.2 0.5-0.2 0.5-0.1 0.5-0.3 0.5 0 0.5-0.5 0.5-0.4 0.5-0.7 0.5-0.4 0.5-0.8 0.5-0.5 0.5-0.5 0.5-0.5 0.5-0.8 0.5-1.1 0.5-1.5 0.5-1.8 0.5-2.1 0.5-2 0.5-1.9 0.5-1.6 0.5-1.9 0.5-1.8 0.5 1.7 0.5 1.8 0.5 1.6 0.5 1.8 0.5 1.8 0.5 2 0.5 1.4 0.5 1.2 0.5 1 0.5 1.1 0.5 0.7 0.5 0.5 0.5 0.5 0.5 0.8 0.5 0.5 0.5 0.3 0.5 0.2 0.5 0.3 0.5-0.1 0.5 0.1 0.5-0.3 0.5 0.2 0.5-0.1 0.5 0 0.5-0.2 0.5-0.3 0.5-0.2 0.5-0.2 0.5-0.2 0.5-0.3 0.5-0.2 0.5-0.1 0.5-0.3 0.5-0.4 0.5-0.5 0.5-0.2 0.5 0 0.5-0.3 0.5-0.5 0.5-0.4 0.5-0.4 0.5-0.3 0.5-0.4 0.5-0.3 0.5-0.4 0.5-0.3 0.5-0.5 0.5-0.4 0.5-0.1 0.5-0.2 0.5-0.2 0.5-0.3 0.5 0.1 0.5 0.3 0.5 0.5 0.5 0.6 0.5 0.5 0.5 0.6 0.5 0.6 0.5 0.7 0.5 0.6 0.5 0.5 0.5 0.6 0.5 0.4 0.5 0.4 0.5 0.1 0.5 0.3 0.5 0.3 0.5 0.4 0.5 0.3 0.5 0.3 0.5-0.1 0.5 0.2 0.5 0.3 0.5 0.4 0.5 0.3 0.5 0.3 0.5-0.1 0.5 0 0.5-0.1 0.5 0.2 0.5 0 0.5 0 0.5 0.1 0.5 0.4 0.5 0.3 0.5 0.2 0.5 0.2 0.5 0 0.5-0.2 0.5-0.2 0.5 0.2 0.5-0.1 0.5 0.1 0.5-0.4 0.5 0.2 0.5 0.1 0.5 0.2 0.5 0 0.5-0.2 0.5-0.1 0.5-0.3 0.5-0.1 0.5 0.1 0.5 0 0.5 0.2 0.5 0 0.5-0.1 0.5-0.2 0.5-0.3 0.5-0.1 0.5 0 0.5 0.3 0.5-0.3 0.5 0 0.5-0.1 0.5 0.3 0.5-0.1 0.5-0.1 0.5-0.4 0.5-0.1 0.5 0.1 0.5 0.4 0.5 0.2 0.5 0 0.5-0.3 0.5-0.2 0.5-0.5 0.5 0.2 0.5-0.3 0.5 0.2 0.5-0.1 0.5 0.3 0.5-0.2 0.5-0.1 0.5-0.4 0.5 0 0.5-0.4 0.5-0.3 0.5 0.4 0.5 0.3 0.5 0.4 0.5-0.3 0.5-0.1 0.5-0.2 0.5 0.4 0.5 0.4 0.5-0.1 0.5 0.1 0.5-0.2 0.5 0.5 0.5-0.4 0.5-0.3 0.5-0.6 0.5-0.3 0.5 0.7 0.5-0.3 0.5 0.3 0.5-0.8 0.5 0.5 0.5-0.2 0.5 0 0.5-0.6 0.5-0.4 0.5-0.3 0.5-0.6 0.5-0.5 0.5-0.8 0.5-0.6 0.5 0.2 0.5 0.4 0.5 1.8 0.5 0.3 0.5 0.6 0.5-0.6 0.5 0.7 0.5 0.7 0.5 1.1 0.5 0 0.5 0.1 0.5 0 0.5 0.4 0.5-0.1 0.5-0.2 0.5 0.5 0.5 0.5 0.5 0.1 0.5-0.4 0.5 0.3 0.5-0.1 0.5-0.1 0.5 0 0.5 0.1 0.5 0.5 0.5-0.5 0.5 0.5 0.5-0.6 0.5 0.7 0.5-0.5 0.5-0.1 0.5-0.9 0.5 0.4 0.5 0 0.5 0.9 0.5-0.4 0.5 0.6 0.5-0.8 0.5 0.6 0.5-0.8 0.5-0.4 0.5-0.6 0.5-0.6 0.5 0 0.5 0.1 0.5 1 0.5-0.4 0.5-0.9 0.5-1 0.5-0.4 0.5 0.5 0.5 0.2 0.5 0.1 0.5-0.5 0.5-1.1 0.5 0.5 0.5-0.3 0.5 0.9 0.5-0.3 0.5-0.8 0.5-0.6 0.5-0.5 0.5 0.7 0.5-0.8 0.5-0.3 0.5-1 0.5 0.8 0.5 0 0.5 1.2 0.5-0.3 0.5-0.5 0.5-0.4 0.5 0 0.5 0.5 0.5-0.4 0.5 0.6 0.5 0.1 0.5-0.3 0.5-0.1 0.5 0.8 0.5-1 0.5 0.2 0.5-0.7 0.5 1.7 0.5 0.8 0.5 1.3 0.5 1.9 0.5 0.7 0.5-0.8 0.5-1.2 0.5-0.4 0.5 1.4 0.5 0.7 0.5 0.1 0.5 0.6 0.5-0.2 0.5-0.9 0.5-2.8 0.5-0.7 0.5-1.4 0.5 1.3 0.5-1.6 0.5 0 0.5-0.1 0.5 2.1 0.5 1 0.5 0.3 0.5 0.4 0.5 0.7 0.5 1.1 0.5-0.2 0.5 1.9 0.5 0.7 0.5 2.3 0.5 0 0.5 1.2 0.5-0.1 0.5 0.6"/>
<path d="M179.5,580.8l0.5 0 0.5 0 0.5-0.2 0.5 0 0.5-0.1 0.5 0.1 0.5-0.1 0.5-0.2 0.5 0 0.5 0 0.5 0.3 0.5-0.2 0.5-0.1 0.5 0 0.5 0 0.5-0.1 0.5 0.1 0.5 0 0.5-0.1 0.5 0 0.5 0 0.5-0.1 0.5-0.2 0.5-0.1 0.5 0 0.5 0.1 0.5 0 0.5 0 0.5 0 0.5 0.1 0.5-0.2 0.5-0.1 0.5-0.1 0.5 0.2 0.5 0.1 0.5-0.1 0.5 0 0.5 0.2 0.5 0 0.5-0.2 0.5 0 0.5-0.1 0.5 0 0.5-0.2 0.5 0.1 0.5 0 0.5 0.2 0.5-0.1 0.5 0 0.5-0.3 0.5-0.1 0.5-0.1 0.5 0.1 0.5 0.1 0.5-0.1 0.5-0.1 0.5 0.2 0.5 0.1 0.5 0.1 0.5-0.1 0.5-0.1 0.5 0 0.5 0 0.5-0.1 0.5-0.2 0.5 0 0.5 0 0.5-0.1 0.5 0 0.5-0.1 0.5 0 0.5 0.1 0.5 0.1 0.5-0.1 0.5-0.1 0.5 0 0.5 0.3 0.5-0.1 0.5 0 0.5-0.2 0.5 0.1 0.5-0.1 0.5-0.1 0.5 0.1 0.5-0.1 0.5 0.1 0.5-0.1 0.5 0.2 0.5 0 0.5 0 0.5-0.2 0.5 0 0.5 0 0.5 0.1 0.5 0.1 0.5-0.1 0.5 0.1 0.5-0.1 0.5 0.1 0.5-0.1 0.5 0.1 0.5 0 0.5 0 0.5-0.1 0.5-0.1 0.5 0 0.5 0 0.5 0.1 0.5-0.2 0.5 0.1 0.5 0 0.5 0.2 0.5-0.1 0.5-0.1 0.5 0 0.5 0 0.5 0.1 0.5-0.1 0.5-0.2 0.5-0.2 0.5 0 0.5 0 0.5 0 0.5 0 0.5 0.1 0.5 0 0.5-0.1 0.5-0.1 0.5-0.1 0.5 0 0.5 0 0.5 0.2 0.5 0 0.5-0.1 0.5-0.1 0.5-0.1 0.5 0.1 0.5 0 0.5 0.2 0.5-0.1 0.5-0.1 0.5 0 0.5 0.1 0.5 0 0.5-0.1 0.5-0.3 0.5 0.1 0.5-0.1 0.5 0 0.5-0.1 0.5 0.1 0.5 0.1 0.5 0 0.5 0.2 0.5-0.1 0.5-0.2 0.5 0 0.5 0 0.5 0 0.5-0.2 0.5-0.1 0.5 0.1 0.5-0.1 0.5 0 0.5-0.1 0.5 0.2 0.5-0.1 0.5 0.1 0.5-0.1 0.5 0.1 0.5 0.1 0.5 0 0.5-0.2 0.5-0.2 0.5-0.1 0.5 0.1 0.5 0 0.5 0.1 0.5-0.1 0.5 0.1 0.5-0.1 0.5-0.1 0.5-0.1 0.5 0 0.5 0.1 0.5 0.1 0.5 0 0.5-0.1 0.5 0 0.5-0.2 0.5 0 0.5-0.1 0.5 0 0.5 0 0.5 0 0.5 0.1 0.5 0 0.5-0.1 0.5-0.1 0.5-0.1 0.5-0.2 0.5 0 0.5 0 0.5 0.1 0.5-0.1 0.5 0 0.5 0 0.5 0.1 0.5 0 0.5 0 0.5-0.2 0.5 0.1 0.5 0 0.5 0 0.5-0.2 0.5 0 0.5 0.1 0.5 0.2 0.5-0.1 0.5 0 0.5-0.1 0.5-0.1 0.5-0.2 0.5 0 0.5 0.2 0.5 0 0.5-0.3 0.5-0.2 0.5 0 0.5 0.1 0.5 0.1 0.5 0.1 0.5-0.1 0.5-0.3 0.5-0.1 0.5 0 0.5 0 0.5 0 0.5-0.2 0.5 0.1 0.5 0 0.5 0 0.5 0.1 0.5 0 0.5-0.2 0.5-0.3 0.5-0.1 0.5 0.1 0.5 0 0.5 0.1 0.5-0.1 0.5-0.1 0.5-0.1 0.5 0 0.5 0.1 0.5 0 0.5-0.2 0.5 0 0.5-0.1 0.5 0.1 0.5-0.2 0.5 0.1 0.5-0.1 0.5 0.1 0.5-0.3 0.5-0.2 0.5-0.2 0.5 0 0.5 0.2 0.5 0 0.5 0 0.5-0.1 0.5-0.2 0.5-0.1 0.5 0.1 0.5 0 0.5-0.1 0.5-0.1 0.5-0.1 0.5 0 0.5-0.1 0.5-0.1 0.5 0 0.5 0.1 0.5 0.2 0.5-0.1 0.5-0.2 0.5-0.3 0.5-0.3 0.5-0.1 0.5 0.1 0.5 0 0.5-0.1 0.5-0.1 0.5-0.1 0.5-0.1 0.5-0.2 0.5 0 0.5 0.1 0.5 0 0.5 0 0.5-0.2 0.5-0.3 0.5-0.3 0.5 0.1 0.5 0.2 0.5 0 0.5-0.3 0.5-0.2 0.5-0.1 0.5 0 0.5-0.1 0.5 0 0.5 0 0.5-0.1 0.5-0.2 0.5 0 0.5-0.3 0.5-0.2 0.5-0.2 0.5-0.2 0.5 0 0.5 0.2 0.5-0.1 0.5-0.2 0.5-0.2 0.5-0.2 0.5-0.2 0.5-0.3 0.5-0.1 0.5 0.1 0.5-0.1 0.5-0.1 0.5-0.4 0.5-0.2 0.5 0 0.5-0.2 0.5 0 0.5-0.3 0.5-0.1 0.5-0.1 0.5-0.3 0.5-0.1 0.5-0.2 0.5 0.1 0.5-0.3 0.5-0.2 0.5-0.1 0.5-0.2 0.5-0.1 0.5-0.1 0.5-0.1 0.5-0.2 0.5-0.2 0.5-0.2 0.5-0.1 0.5-0.2 0.5-0.1 0.5-0.3 0.5-0.3 0.5-0.3 0.5-0.4 0.5-0.3 0.5-0.5 0.5-0.1 0.5-0.2 0.5 0 0.5-0.3 0.5-0.4 0.5-0.2 0.5-0.4 0.5-0.1 0.5-0.5 0.5-0.2 0.5-0.4 0.5-0.2 0.5-0.4 0.5-0.4 0.5-0.4 0.5-0.4 0.5-0.5 0.5-0.4 0.5-0.5 0.5-0.4 0.5-0.4 0.5-0.3 0.5-0.5 0.5-0.5 0.5-0.4 0.5-0.7 0.5-0.7 0.5-0.8 0.5-0.5 0.5-0.7 0.5-0.7 0.5-0.8 0.5-0.8 0.5-0.8 0.5-1 0.5-1 0.5-0.9 0.5-0.7 0.5-0.6 0.5-1 0.5-0.9 0.5-1.3 0.5-1 0.5-1.2 0.5-1.4 0.5-1.5 0.5-1.4 0.5-1.3 0.5-1.4 0.5-1.4 0.5-1.4 0.5-1.4 0.5-1.7 0.5-1.5 0.5-1.6 0.5-1.2 0.5-1.5 0.5-1.4 0.5-1.7 0.5-1.7 0.5-1.7 0.5-1.8 0.5-1.4 0.5-1.6 0.5-1.6 0.5-1.6 0.5-1.6 0.5-1.6 0.5-1.7 0.5-1.8 0.5-1.6 0.5-1.6 0.5-1.9 0.5-1.7 0.5-1.6 0.5-1.3 0.5-1.1 0.5-1.2 0.5-0.9 0.5-1 0.5-1 0.5-0.9 0.5-1 0.5-0.7 0.5-0.9 0.5-0.7 0.5-0.6 0.5-0.5 0.5 0.7 0.5 0.9 0.5 1.2 0.5 1.1 0.5 1.2 0.5 1.3 0.5 1.6 0.5 1.6 0.5 2.1 0.5 2.5 0.5 2.7 0.5 1.9 0.5 1.3 0.5 0.5 0.5 0.5 0.5-0.2 0.5-0.3 0.5-0.2 0.5 0 0.5 0.2 0.5-0.2 0.5-0.1 0.5-0.4 0.5-0.1 0.5-0.3 0.5-0.2 0.5-0.2 0.5-0.1 0.5-0.2 0.5-0.2 0.5-0.1 0.5 0.4 0.5 0.7 0.5 0.8 0.5 0.7 0.5 1 0.5 1.2 0.5 1.3 0.5 1.3 0.5 1.2 0.5 1.3 0.5 1.1 0.5 1.2 0.5 1.5 0.5 1.6 0.5 1.6 0.5 1.6 0.5 1.8 0.5 1.8 0.5 1.8 0.5 1.7 0.5 1.8 0.5 1.8 0.5 1.7 0.5 1.8 0.5 1.7 0.5 1.7 0.5 1.9 0.5 1.8 0.5 1.8 0.5 1.8 0.5 1.9 0.5 1.6 0.5 1.7 0.5 1.5 0.5 1.8 0.5 1.6 0.5 1.7 0.5 1.6 0.5 1.4 0.5 1.2 0.5 1.4 0.5 1.5 0.5 1.6 0.5 1.4 0.5 1.1 0.5 1.4 0.5 1.1 0.5 1.1 0.5 0.9 0.5 1 0.5 1.2 0.5 1 0.5 1 0.5 0.8 0.5 0.9 0.5 0.9 0.5 1 0.5 0.8 0.5 0.6 0.5 0.7 0.5 0.6 0.5 0.6 0.5 0.6 0.5 0.4 0.5 0.5 0.5 0.4 0.5 0.4 0.5 0.6 0.5 0.4 0.5 0.5 0.5 0.3 0.5 0.3 0.5 0.4 0.5 0.3 0.5 0.4 0.5 0.3 0.5 0.1 0.5 0.2 0.5 0 0.5 0.2 0.5 0 0.5-0.3 0.5 0 0.5-0.1 0.5 0.1 0.5-0.2 0.5-0.1 0.5-0.2 0.5-0.1 0.5-0.2 0.5-0.2 0.5-0.2 0.5-0.1 0.5-0.3 0.5-0.6 0.5-0.6 0.5-0.4 0.5-0.4 0.5-0.4 0.5-0.3 0.5-0.4 0.5-0.6 0.5-0.4 0.5-0.6 0.5-0.6 0.5-0.9 0.5-0.9 0.5-1.2 0.5-1.2 0.5-1.5 0.5-1.2 0.5-1.1 0.5-1.2 0.5-1.4 0.5-1.8 0.5-1.5 0.5-1.6 0.5-1.5 0.5-1.6 0.5-1.5 0.5-1.4 0.5-1.6 0.5-1.7 0.5-1.7 0.5-1.6 0.5-1.6 0.5-1.7 0.5-1.8 0.5-1.9 0.5-2.2 0.5-2.1 0.5-1.9 0.5-2.3 0.5-2.4 0.5-2.7 0.5-2.6 0.5-3.3 0.5-3.7 0.5-4 0.5-3.9 0.5-3.9 0.5-3.8 0.5-3.6 0.5-3 0.5-2.4 0.5-2.5 0.5-2.2 0.5-2.1 0.5-1.6 0.5 0 0.5 0.4 0.5 0.8 0.5 1.1 0.5 0.9 0.5 1.1 0.5 1.1 0.5 1.4 0.5 1.4 0.5 1.4 0.5 1.5 0.5 1.9 0.5 2.3 0.5 2.7 0.5 2.8 0.5 3 0.5 2.7 0.5 2.6 0.5 2 0.5 1.7 0.5 1.2 0.5 1.4 0.5 1.1 0.5 1.1 0.5 0.8 0.5 0.9 0.5 0.8 0.5 0.8 0.5 0.4 0.5 0.2 0.5-0.1 0.5 0.1 0.5-0.1 0.5-0.2 0.5-0.3 0.5-0.5 0.5-0.6 0.5-0.8 0.5-0.6 0.5-0.8 0.5-0.8 0.5-1 0.5-1.2 0.5-1.1 0.5-1.3 0.5-1.3 0.5-1.5 0.5-1.9 0.5-2.5 0.5-2.3 0.5-2.2 0.5-1.2 0.5-1.2 0.5-1.3 0.5-1.4 0.5-1.2 0.5-1 0.5-1 0.5-1.1 0.5-1 0.5-0.7 0.5-0.9 0.5-0.7 0.5-1.1 0.5-0.6 0.5-0.8 0.5-0.7 0.5-0.8 0.5-0.7 0.5-0.6 0.5-0.7 0.5-0.6 0.5-0.6 0.5-0.5 0.5-0.5 0.5-0.6 0.5-0.6 0.5-0.6 0.5-0.4 0.5-0.4 0.5-0.4 0.5-0.8 0.5-1.1 0.5-1 0.5-0.6 0.5-0.6 0.5-0.8 0.5-0.8 0.5-0.8 0.5-0.9 0.5-0.9 0.5-1.1 0.5-1.1 0.5-1 0.5-0.9 0.5-0.7 0.5-0.9 0.5-0.9 0.5-1.2 0.5-0.8 0.5-0.9 0.5-1 0.5-1 0.5-1 0.5-0.8 0.5-0.9 0.5-1.2 0.5-0.9 0.5-1.2 0.5-0.9 0.5-1.3 0.5-0.9 0.5-1.4 0.5-1.1 0.5-1.2 0.5-1 0.5-1.4 0.5-1.3 0.5-1.1 0.5-1.4 0.5-1.3 0.5-1.5 0.5-1.4 0.5-1.5 0.5-1.5 0.5-1.5 0.5-1.6 0.5-1.5 0.5-1.5 0.5-1.4 0.5-1.4 0.5-1.3 0.5-1.4 0.5-1.2 0.5-1 0.5-1 0.5-0.5 0.5-0.3 0.5 0 0.5-0.2 0.5 0.1 0.5 0.4 0.5 1.1 0.5 0.9 0.5 0.9 0.5 0.7 0.5 0.7 0.5 1 0.5 0.9 0.5 1 0.5 1 0.5 1.4 0.5 1.3 0.5 1.1 0.5 1.2 0.5 1.3 0.5 1.5 0.5 1.5 0.5 1.8 0.5 2.1 0.5 2 0.5 2.1 0.5 1.7 0.5 2 0.5 2 0.5 2.2 0.5 2.5 0.5 2.4 0.5 2.4 0.5 2.4 0.5 2.5 0.5 2.9 0.5 3.3 0.5 3.4 0.5 3.2 0.5 3 0.5 3.1 0.5 2.8 0.5 3 0.5 3 0.5 3.1 0.5 3 0.5 3.1 0.5 2.9 0.5 3.1 0.5 3.1 0.5 3.1 0.5 2.7 0.5 2.3 0.5 1.4 0.5 1.4 0.5 1.1 0.5 1 0.5 0.6 0.5 0.2 0.5 0.2 0.5 0.2 0.5 0.1 0.5-0.3 0.5-0.2 0.5-0.1 0.5-0.1 0.5-0.3 0.5-0.7 0.5-0.4 0.5-0.6 0.5-0.6 0.5-0.9 0.5-0.9 0.5-1.3 0.5-1.4 0.5-1.8 0.5-1.6 0.5-1.9 0.5-1.7 0.5-2.2 0.5-2.1 0.5-2.4 0.5-2.6 0.5-3.2 0.5-3.5 0.5-3.7 0.5-4.2 0.5-4.5 0.5-5.1 0.5-5.3 0.5-5.5 0.5-6.3 0.5-8 0.5-12.1 0.5-16 0.5-10.2 0.5-8.9 0.5-8.4 0.5-9.4 0.5-8.3 0.5-4.3 0.5-2.4 0.5-1.5 0.5-1.1 0.5 0.5 0.5 1 0.5 1 0.5 1.6 0.5 2.7 0.5 3.1 0.5 3.3 0.5 3.4 0.5 4.1 0.5 4.2 0.5 5.9 0.5 2.8 0.5 0.4 0.5 0.1 0.5 0 0.5-0.3 0.5-0.9 0.5-3.6 0.5-4.6 0.5-4.3 0.5-4.7 0.5-4.4 0.5-3.4 0.5-2.7 0.5-2.6 0.5-3.1 0.5-3.9 0.5-5.1 0.5-4.6 0.5-4.7 0.5-4.5 0.5-4.4 0.5-4.6 0.5-4.6 0.5-4.7 0.5-4.3 0.5-4.2 0.5-4.4 0.5-4.6 0.5-4.8 0.5-5 0.5-5.3 0.5-5.5 0.5-5.8 0.5-5.8 0.5-5.9 0.5-6 0.5-6.4 0.5-6.4 0.5-5.6 0.5-4.4 0.5-3.9 0.5-3.2 0.5-2.6 0.5-2.2 0.5 4.1 0.5 4.4 0.5 3.9 0.5 4 0.5 3.7 0.5 3.8 0.5 3.3 0.5 3.2 0.5 3 0.5 3.2 0.5 3.1 0.5 2.9 0.5 2.9 0.5 2.9 0.5 3.4 0.5 3.4 0.5 3.4 0.5 3.1 0.5 3.1 0.5 3.3 0.5 3.3 0.5 3.4 0.5 3.3 0.5 3.7 0.5 3.9 0.5 3.8 0.5 3.8 0.5 3.8 0.5 4.1 0.5 4.3 0.5 4.2 0.5 4.6 0.5 5.4 0.5 5.7 0.5 5.2 0.5 3.8 0.5 3.1 0.5 2.8 0.5 2.7 0.5 2.5 0.5 2.2 0.5 2 0.5 2.3 0.5 2.1 0.5 1.9 0.5 1.5 0.5 1.7 0.5 1.7 0.5 1.9 0.5 1.7 0.5 1.7 0.5 1.7 0.5 1.7 0.5 1.8 0.5 1.8 0.5 2.1 0.5 2.2 0.5 1.9 0.5 1.8 0.5 2 0.5 2 0.5 1.9 0.5 1.6 0.5 1.8 0.5 1.8 0.5 1.7 0.5 1.4 0.5 1.7 0.5 1.7 0.5 1.6 0.5 1.5 0.5 1.3 0.5 1.4 0.5 1.2 0.5 1.4 0.5 1.5 0.5 1.4 0.5 1.2 0.5 1.4 0.5 1.4 0.5 1.4 0.5 1.3 0.5 1.3 0.5 1.2 0.5 1.3 0.5 1.5 0.5 1.2 0.5 1.3 0.5 1.1 0.5 1.3 0.5 1 0.5 1.3 0.5 1.4 0.5 1.3 0.5 1.2 0.5 1 0.5 1.2 0.5 1.1 0.5 1.1 0.5 1.1 0.5 0.9 0.5 0.9 0.5 1 0.5 1.2 0.5 1.1 0.5 1 0.5 1 0.5 1.2 0.5 1.1 0.5 1 0.5 0.8 0.5 1 0.5 0.8 0.5 1.2 0.5 0.8 0.5 1.1 0.5 0.8 0.5 1.2 0.5 1 0.5 1.2 0.5 1 0.5 1 0.5 0.9 0.5 0.9 0.5 1.2 0.5 1.1 0.5 1.1 0.5 0.9 0.5 1 0.5 1.1 0.5 1.1 0.5 1.3 0.5 1 0.5 1.2 0.5 0.9 0.5 1 0.5 0.8 0.5 1 0.5 1 0.5 1.2 0.5 0.9 0.5 0.7 0.5 0.7 0.5 0.8 0.5 0.8 0.5 0.5 0.5 0.7 0.5 0.4 0.5 0.6 0.5 0.6 0.5 0.7 0.5 0.5 0.5 0.4 0.5 0.5 0.5 0.3 0.5 0.2 0.5 0.3 0.5 0.2 0.5 0.1 0.5-0.2 0.5-0.1 0.5-0.3 0.5-0.4 0.5-0.8 0.5-1 0.5-1.3 0.5-1.1 0.5-0.8 0.5-0.8 0.5-0.6 0.5-0.8 0.5 0.2 0.5 1.2 0.5 1 0.5 1 0.5 1.2 0.5 1.4 0.5 1.7 0.5 1.4 0.5 1.3 0.5 0.9 0.5 0.9 0.5 0.9 0.5 0.9 0.5 1 0.5 0.8 0.5 0.6 0.5 0.6 0.5 0.6 0.5 0.8 0.5 0.6 0.5 0.5 0.5 0.6 0.5 0.3 0.5 0.7 0.5 0.3 0.5 0.5 0.5 0.4 0.5 0.6 0.5 0.3 0.5 0.4 0.5 0.4 0.5 0.5 0.5 0.3 0.5 0.3 0.5 0 0.5 0.1 0.5 0.3 0.5 0.4 0.5 0.3 0.5 0.1 0.5 0.1 0.5 0.2 0.5 0.3 0.5 0.1 0.5 0 0.5-0.1 0.5 0.1 0.5 0.3 0.5 0.3 0.5 0.2 0.5 0 0.5-0.1 0.5 0.1 0.5 0.2 0.5 0.1 0.5 0.1 0.5 0 0.5 0.2 0.5 0 0.5 0.1 0.5 0 0.5 0.3 0.5-0.1 0.5 0 0.5 0.1 0.5 0.1 0.5 0.2 0.5 0 0.5 0 0.5 0.2 0.5 0.1 0.5 0.1 0.5 0.1 0.5 0 0.5 0.1 0.5 0.2 0.5 0 0.5 0.1 0.5 0 0.5 0.1 0.5-0.1 0.5 0 0.5 0.3 0.5-0.1 0.5 0 0.5 0.3 0.5 0.3 0.5 0.1 0.5-0.2 0.5 0.1 0.5 0.2 0.5 0.1 0.5 0.1 0.5 0 0.5 0.1 0.5 0.1 0.5 0.3 0.5 0.2 0.5 0 0.5 0.1 0.5 0.1 0.5 0.1 0.5 0.1 0.5 0.1 0.5 0.3 0.5 0.3 0.5 0.3 0.5 0.3 0.5 0.3 0.5 0.2 0.5 0.1 0.5 0.1 0.5 0.4 0.5 0.2 0.5 0.4 0.5 0.1 0.5 0.4 0.5 0.3 0.5 0.4 0.5 0.3 0.5 0 0.5 0.4 0.5 0.2 0.5 0.5 0.5 0.4 0.5 0.4 0.5 0.2 0.5 0.2 0.5 0.2 0.5 0.4 0.5 0.4 0.5 0.3 0.5 0.2 0.5 0.2 0.5 0.3 0.5 0.2 0.5 0.1 0.5 0.3 0.5 0.2 0.5 0.1 0.5 0.1 0.5 0.2 0.5 0.2 0.5-0.1 0.5 0.1 0.5 0 0.5 0.2 0.5 0.3 0.5 0.1 0.5 0.2 0.5 0 0.5 0.2 0.5 0.1 0.5 0.1 0.5 0.1 0.5 0.2 0.5 0.1 0.5 0.2 0.5 0.1 0.5 0 0.5 0.1 0.5 0.1 0.5 0.3 0.5 0 0.5-0.1 0.5 0.2 0.5 0.2 0.5 0.3 0.5 0.2 0.5 0.1 0.5 0.2 0.5 0.2 0.5 0.1 0.5 0.1 0.5 0 0.5 0.2 0.5-0.2 0.5 0.2 0.5-0.1 0.5 0.1 0.5-0.1 0.5 0 0.5 0 0.5 0 0.5-0.3 0.5-0.4 0.5-0.6 0.5-0.4 0.5-0.5 0.5-0.3 0.5-0.6 0.5-0.6 0.5-0.8 0.5-0.9 0.5-0.6 0.5-0.8 0.5-1.4 0.5-2.1 0.5-2.1 0.5-2.1 0.5-1.9 0.5-1.9 0.5-2 0.5-1.9 0.5 1.9 0.5 2.1 0.5 1.7 0.5 1.8 0.5 1.9 0.5 1.7 0.5 1.7 0.5 1.1 0.5 1 0.5 0.7 0.5 0.9 0.5 0.9 0.5 0.7 0.5 0.5 0.5 0.5 0.5 0.3 0.5 0.4 0.5 0 0.5 0.4 0.5 0 0.5 0 0.5-0.3 0.5-0.2 0.5 0.1 0.5-0.1 0.5-0.1 0.5-0.2 0.5-0.2 0.5-0.3 0.5-0.5 0.5-0.3 0.5-0.3 0.5-0.2 0.5-0.2 0.5-0.3 0.5-0.4 0.5-0.3 0.5-0.1 0.5-0.5 0.5-0.4 0.5-0.6 0.5-0.3 0.5-0.3 0.5-0.2 0.5-0.4 0.5-0.4 0.5-0.5 0.5-0.4 0.5-0.2 0.5-0.3 0.5-0.2 0.5-0.2 0.5 0.2 0.5 0.5 0.5 0.5 0.5 0.5 0.5 0.5 0.5 0.5 0.5 0.7 0.5 0.8 0.5 0.7 0.5 0.6 0.5 0.5 0.5 0.5 0.5 0.5 0.5 0.3 0.5 0.4 0.5 0.1 0.5 0.6 0.5 0 0.5 0.2 0.5-0.2 0.5 0.3 0.5 0.3 0.5 0.2 0.5 0.2 0.5-0.1 0.5 0.3 0.5 0.2 0.5 0.1 0.5 0 0.5 0.4 0.5 0.1 0.5 0.3 0.5 0.1 0.5 0.3 0.5 0 0.5 0.1 0.5-0.1 0.5 0.2 0.5 0 0.5-0.2 0.5 0 0.5-0.1 0.5 0.2 0.5-0.1 0.5-0.1 0.5-0.3 0.5 0.1 0.5 0.2 0.5-0.1 0.5-0.1 0.5-0.1 0.5 0 0.5 0 0.5-0.5 0.5 0 0.5-0.1 0.5 0.4 0.5 0.3 0.5 0 0.5-0.1 0.5-0.4 0.5-0.1 0.5 0 0.5 0 0.5-0.1 0.5 0 0.5 0 0.5-0.3 0.5-0.2 0.5-0.2 0.5 0.4 0.5-0.3 0.5-0.3 0.5-0.1 0.5 0.3 0.5-0.1 0.5 0.4 0.5-0.2 0.5 0.3 0.5-0.4 0.5-0.1 0.5 0.1 0.5-0.3 0.5 0.4 0.5-0.1 0.5 0 0.5-0.4 0.5 0 0.5-0.2 0.5 0 0.5-0.1 0.5 0.1 0.5 0.2 0.5 0.2 0.5-0.3 0.5-0.4 0.5-0.1 0.5 0 0.5 0.3 0.5 0.3 0.5 0.2 0.5 0.4 0.5-0.4 0.5-0.1 0.5-0.1 0.5 0.6 0.5-0.2 0.5-1 0.5-0.3 0.5-0.2 0.5-0.3 0.5-0.9 0.5 0.3 0.5-0.2 0.5-0.1 0.5-1.2 0.5 0 0.5 0.2 0.5 0.6 0.5 0.5 0.5 0.1 0.5 0.6 0.5-0.2 0.5 0.4 0.5 0.6 0.5 1.3 0.5 0.5 0.5 0.5 0.5 0 0.5 1.1 0.5 0.4 0.5 0.9 0.5-0.3 0.5-0.4 0.5-1.3 0.5 0 0.5 0.2 0.5 0.5 0.5-0.6 0.5-0.5 0.5 0.5 0.5-0.4 0.5 0.6 0.5 0 0.5 0.7 0.5-0.5 0.5 0 0.5-0.3 0.5 0.3 0.5-0.5 0.5 0 0.5-0.2 0.5 0.6 0.5-0.3 0.5-0.7 0.5-0.5 0.5-0.1 0.5 0.3 0.5 0.1 0.5-0.2 0.5-0.2 0.5-0.7 0.5-0.1 0.5-0.2 0.5-0.2 0.5 0.3 0.5-0.1 0.5 0.1 0.5-1 0.5-0.4 0.5-0.1 0.5 0.8 0.5-0.8 0.5-0.5 0.5-1 0.5 0.3 0.5 0.2 0.5-0.1 0.5-0.6 0.5-0.2 0.5-0.3 0.5 0.3 0.5-0.6 0.5 0.1 0.5 0.4 0.5 0.1 0.5 0 0.5 0.1 0.5 0 0.5 0.1 0.5-0.3 0.5 0 0.5-0.4 0.5 0.6 0.5 0 0.5 0.7 0.5 0 0.5 0.5 0.5 0 0.5 0.4 0.5 0.1 0.5 0 0.5 0 0.5 0.6 0.5 0.6 0.5 1 0.5 1.1 0.5 0.7 0.5-0.6 0.5-1.1 0.5-0.7 0.5-0.4 0.5-0.3 0.5-0.4 0.5-0.8 0.5-0.7 0.5-1.2 0.5-0.4 0.5-0.3 0.5 0.5 0.5 0.9 0.5 1.1 0.5 1.2 0.5 1.5 0.5 0.4 0.5 0.6 0.5 0.9 0.5 1 0.5 0.4 0.5 0 0.5 0.4 0.5 0.3 0.5 0.3 0.5 1.2 0.5 0.9"/>
<path d="M603,532.1l0.5-1.6 0.5-1.7 0.5-1.8 0.5-1.6 0.5-2 0.5-2.1 0.5-2.3 0.5-2.4 0.5-2.9 0.5-3.2 0.5-3.3 0.5-3.6 0.5-4.1 0.5-5 0.5-7.2 0.5-9.8 0.5-6.7 0.5-6.6 0.5-7.4 0.5-8.4 0.5-7.8 0.5-6.1 0.5-3.2 0.5-0.9 0.5-0.7 0.5 0.5 0.5 0.6 0.5 0.8 0.5 1 0.5 1.8 0.5 2.3 0.5 2.5 0.5 2.7 0.5 2.9 0.5 3.1 0.5 3.6 0.5 1.8 0.5 0.2 0.5 0.1 0.5 0 0.5-0.3 0.5-0.8 0.5-2.5 0.5-3.1 0.5-2.7 0.5-3.2 0.5-3 0.5-2.4 0.5-1.9 0.5-1.9 0.5-2.2 0.5-2.7 0.5-3.4 0.5-3.1 0.5-3.1 0.5-3 0.5-2.9 0.5-3.1 0.5-3.2 0.5-3.3 0.5-3 0.5-3 0.5-2.9 0.5-3.1 0.5-3.2 0.5-3.4 0.5-3.8 0.5-4.2 0.5-4.6 0.5-4.6 0.5-4.7 0.5-4.9 0.5-4.7 0.5-4.7 0.5-4.3 0.5-3.6 0.5-3.2 0.5-2.3 0.5-1.9 0.5-1.2 0.5 2.6 0.5 3.2 0.5 2.9 0.5 2.7 0.5 2.8 0.5 2.8 0.5 2.7 0.5 2.5 0.5 2.3 0.5 2.3 0.5 2.5 0.5 2.4 0.5 2.7 0.5 2.4 0.5 2.6 0.5 2.6 0.5 2.5 0.5 2.7 0.5 2.7 0.5 2.7 0.5 2.5 0.5 2.7 0.5 2.7 0.5 2.8 0.5 2.8 0.5 2.7 0.5 2.8 0.5 2.8 0.5 2.8 0.5 2.8"/>
<path d="M603,525.7l0.5-1.8 0.5-1.9 0.5-2.1 0.5-2.2 0.5-2.3 0.5-2.4 0.5-2.7 0.5-3.1 0.5-3.6 0.5-3.9 0.5-3.9 0.5-4.4 0.5-4.8 0.5-6.2 0.5-8.8 0.5-12.1 0.5-7.7 0.5-7.3 0.5-7.7 0.5-8.6 0.5-8 0.5-5.4 0.5-3 0.5-1.1 0.5-1 0.5 0.6 0.5 0.8 0.5 0.8 0.5 1.2 0.5 2.1 0.5 2.7 0.5 2.9 0.5 2.8 0.5 3.4 0.5 3.3 0.5 4.6 0.5 2 0.5 0.3 0.5-0.1 0.5-0.2 0.5-0.2 0.5-0.7 0.5-2.5 0.5-3.8 0.5-3.5 0.5-3.8 0.5-3.5 0.5-2.7 0.5-2 0.5-2.2 0.5-2.3 0.5-3.3 0.5-3.8 0.5-3.9 0.5-3.6 0.5-3.5 0.5-3.6 0.5-3.5 0.5-3.7 0.5-3.6 0.5-3.5 0.5-3.4 0.5-3.5 0.5-3.6 0.5-3.8 0.5-3.9 0.5-4.1 0.5-4.4 0.5-4.9 0.5-5.2 0.5-5.3 0.5-5.1 0.5-5.3 0.5-5.4 0.5-4.8 0.5-4.1 0.5-3.4 0.5-2.6 0.5-1.9 0.5-1.7 0.5 3.2 0.5 3.5 0.5 3.5 0.5 3 0.5 3 0.5 2.7 0.5 3.2 0.5 2.9 0.5 2.9 0.5 2.5 0.5 2.6 0.5 2.5 0.5 2.7 0.5 2.8 0.5 2.7 0.5 2.8 0.5 2.7 0.5 3 0.5 2.8 0.5 2.8 0.5 2.8 0.5 3 0.5 3.1 0.5 3.1 0.5 2.8 0.5 3.1 0.5 3.1 0.5 3.4 0.5 3.2 0.5 3.2"/>
<path d="M603,520l0.5-1.8 0.5-2 0.5-2.3 0.5-2.2 0.5-2.5 0.5-2.9 0.5-3.3 0.5-3.7 0.5-4.1 0.5-4.4 0.5-4.6 0.5-4.6 0.5-5.4 0.5-6.8 0.5-10.3 0.5-13.8 0.5-8.9 0.5-8.1 0.5-7.7 0.5-9.1 0.5-8 0.5-5.2 0.5-2.7 0.5-1.7 0.5-0.8 0.5 0.3 0.5 1.1 0.5 0.9 0.5 1.6 0.5 2.2 0.5 2.7 0.5 3.1 0.5 3.2 0.5 3.7 0.5 3.9 0.5 4.9 0.5 2.5 0.5 0.2 0.5 0.1 0.5 0 0.5-0.2 0.5-0.9 0.5-3.2 0.5-3.8 0.5-3.7 0.5-4.2 0.5-4 0.5-3.1 0.5-2.5 0.5-2.5 0.5-2.5 0.5-3.4 0.5-4.3 0.5-4.4 0.5-4.2 0.5-4 0.5-3.7 0.5-3.8 0.5-3.9 0.5-4.2 0.5-4.1 0.5-3.8 0.5-3.9 0.5-3.9 0.5-4.3 0.5-4.3 0.5-4.6 0.5-4.9 0.5-5.4 0.5-5.7 0.5-5.7 0.5-5.4 0.5-5.4 0.5-5.8 0.5-5.4 0.5-4.5 0.5-3.4 0.5-2.9 0.5-1.9 0.5-1.8 0.5 3.6 0.5 3.9 0.5 3.4 0.5 3.5 0.5 3.1 0.5 3.2 0.5 3.3 0.5 3.1 0.5 3 0.5 2.7 0.5 2.9 0.5 2.7 0.5 2.7 0.5 2.8 0.5 2.8 0.5 3 0.5 3 0.5 3.3 0.5 3.1 0.5 3 0.5 3 0.5 3.3 0.5 3.1 0.5 3.2 0.5 3.3 0.5 3.3 0.5 3.5 0.5 3.4 0.5 3.6 0.5 3.9"/>
</g>
<rect x="179.7" y="30.0" width="793.7" height="593.5" fill="none" stroke="#000" stroke-width="3.2"/>
<line x1="179.7" y1="569.7" x2="197.0" y2="569.7" stroke="#000" stroke-width="2.8"/>
<line x1="179.7" y1="480.3" x2="197.0" y2="480.3" stroke="#000" stroke-width="2.8"/>
<line x1="179.7" y1="389.5" x2="197.0" y2="389.5" stroke="#000" stroke-width="2.8"/>
<line x1="179.7" y1="298.9" x2="197.0" y2="298.9" stroke="#000" stroke-width="2.8"/>
<line x1="179.7" y1="209.9" x2="197.0" y2="209.9" stroke="#000" stroke-width="2.8"/>
<line x1="179.7" y1="119.0" x2="197.0" y2="119.0" stroke="#000" stroke-width="2.8"/>
<line x1="338.8" y1="623.5" x2="338.8" y2="606.3" stroke="#000" stroke-width="2.8"/>
<line x1="497.8" y1="623.5" x2="497.8" y2="606.3" stroke="#000" stroke-width="2.8"/>
<line x1="655.8" y1="623.5" x2="655.8" y2="606.3" stroke="#000" stroke-width="2.8"/>
<line x1="814.0" y1="623.5" x2="814.0" y2="606.3" stroke="#000" stroke-width="2.8"/>
<text transform="translate(119.70,580.86) scale(0.9128,1)" font-size="39.41">0.0</text>
<text transform="translate(119.70,491.46) scale(0.8361,1)" font-size="39.41">0.1</text>
<text transform="translate(119.70,400.66) scale(0.9128,1)" font-size="39.41">0.2</text>
<text transform="translate(119.70,310.06) scale(0.9128,1)" font-size="39.41">0.3</text>
<text transform="translate(119.70,221.06) scale(0.9128,1)" font-size="39.41">0.4</text>
<text transform="translate(119.70,130.16) scale(0.9128,1)" font-size="39.41">0.5</text>
<text transform="translate(119.70,41.76) scale(0.9128,1)" font-size="39.41">0.6</text>
<text transform="translate(140.60,666.21) scale(0.9042,1)" font-size="39.27">2000</text>
<text transform="translate(299.32,666.21) scale(0.9042,1)" font-size="39.27">1800</text>
<text transform="translate(458.04,666.21) scale(0.9042,1)" font-size="39.27">1600</text>
<text transform="translate(616.76,666.21) scale(0.9042,1)" font-size="39.27">1400</text>
<text transform="translate(775.48,666.21) scale(0.9042,1)" font-size="39.27">1200</text>
<text transform="translate(934.20,666.21) scale(0.9042,1)" font-size="39.27">1000</text>
<text transform="translate(227.30,96.34) scale(0.9821,1)" font-size="39.91">(a)</text>
<text transform="translate(605.60,154.17) scale(0.9505,1)" font-size="32.63">1416</text>
<text transform="translate(549.60,298.97) scale(0.9505,1)" font-size="32.63">1450</text>
<text transform="translate(513.20,365.87) scale(0.9370,1)" font-size="33.09">1514</text>
<text transform="translate(398.10,439.97) scale(0.9505,1)" font-size="32.63">1694</text>
<text transform="translate(325.20,459.67) scale(0.9505,1)" font-size="32.63">1716</text>
<text transform="translate(470.50,455.47) scale(0.9505,1)" font-size="32.63">1602</text>
<text transform="translate(401.6,730.8) scale(1.005,1)" font-size="40">Wavenumber / cm</text>
<text x="725.3" y="705" font-size="24">-1</text>
<text transform="translate(41.0,325.4) rotate(-90) scale(1.03,1)" text-anchor="middle" font-size="38.6">Absorbance</text>
<polygon fill="#000" points="505.9,239.5 523.8,257.4 514.8,257.4 514.8,320.7 497.3,320.7 497.3,257.4 488.3,257.4"/>
</g>
<g id="panel-b">
<path d="M186.3,1327.3l0.5 0 0.5 0.1 0.5 0.3 0.5 0.1 0.5-0.2 0.5-0.2 0.5 0 0.5 0.3 0.5 0.1 0.5-0.2 0.5-0.4 0.5 0.2 0.5 0.1 0.5-0.1 0.5-0.2 0.5-0.2 0.5 0.1 0.5-0.1 0.5 0.1 0.5 0.1 0.5 0.1 0.5 0 0.5-0.1 0.5 0.1 0.5-0.1 0.5-0.1 0.5-0.3 0.5 0.2 0.5-0.2 0.5 0.2 0.5 0 0.5 0.1 0.5-0.2 0.5-0.1 0.5-0.1 0.5 0 0.5 0 0.5 0 0.5 0.3 0.5 0.1 0.5-0.2 0.5-0.1 0.5-0.3 0.5 0.3 0.5-0.1 0.5-0.1 0.5 0 0.5-0.1 0.5 0.4 0.5-0.2 0.5 0.1 0.5-0.3 0.5 0.1 0.5-0.2 0.5 0.3 0.5 0.1 0.5 0.4 0.5-0.1 0.5 0 0.5-0.2 0.5-0.2 0.5-0.2 0.5 0.1 0.5-0.1 0.5 0.1 0.5-0.3 0.5 0.1 0.5-0.1 0.5 0 0.5-0.1 0.5 0 0.5-0.1 0.5 0.1 0.5-0.3 0.5 0 0.5-0.4 0.5 0.3 0.5 0.1 0.5 0 0.5-0.3 0.5 0.1 0.5-0.1 0.5 0 0.5 0 0.5-0.1 0.5 0.1 0.5-0.1 0.5 0.1 0.5 0 0.5 0.1 0.5 0 0.5-0.2 0.5-0.4 0.5 0 0.5 0.1 0.5 0.3 0.5-0.1 0.5 0 0.5-0.2 0.5 0 0.5 0.1 0.5 0 0.5 0.1 0.5 0.2 0.5 0.1 0.5-0.3 0.5 0 0.5 0 0.5 0.1 0.5-0.2 0.5 0 0.5 0 0.5-0.2 0.5-0.1 0.5 0.1 0.5 0.2 0.5 0.1 0.5 0.1 0.5 0.1 0.5-0.1 0.5 0 0.5-0.3 0.5 0 0.5-0.2 0.5 0.1 0.5 0.2 0.5 0.1 0.5 0 0.5 0.1 0.5 0.1 0.5 0.1 0.5 0 0.5 0 0.5 0.2 0.5 0 0.5 0 0.5-0.2 0.5-0.2 0.5 0 0.5 0 0.5 0.2 0.5 0.3 0.5-0.1 0.5-0.2 0.5 0 0.5 0.2 0.5 0.1 0.5-0.1 0.5-0.1 0.5-0.1 0.5-0.2 0.5-0.1 0.5 0.5 0.5 0 0.5 0 0.5-0.2 0.5 0 0.5 0 0.5 0 0.5 0.2 0.5 0.3 0.5-0.2 0.5-0.3 0.5 0 0.5 0 0.5 0.1 0.5-0.2 0.5 0.3 0.5 0.2 0.5 0.1 0.5-0.1 0.5 0.1 0.5-0.2 0.5-0.2 0.5-0.2 0.5 0.4 0.5 0 0.5 0 0.5-0.1 0.5 0.3 0.5 0.3 0.5-0.1 0.5-0.3 0.5 0 0.5 0 0.5 0 0.5-0.4 0.5 0.2 0.5 0.2 0.5 0.1 0.5-0.2 0.5-0.1 0.5 0 0.5 0.3 0.5-0.1 0.5-0.2 0.5-0.4 0.5 0.2 0.5 0.1 0.5-0.2 0.5-0.2 0.5 0 0.5 0.4 0.5 0 0.5 0 0.5 0 0.5 0 0.5-0.1 0.5 0.1 0.5 0.3 0.5 0.1 0.5-0.2 0.5-0.1 0.5-0.2 0.5 0 0.5-0.3 0.5 0 0.5 0 0.5 0.4 0.5 0 0.5 0.2 0.5-0.2 0.5-0.1 0.5 0 0.5-0.5 0.5 0 0.5 0 0.5-0.1 0.5-0.1 0.5 0 0.5 0.2 0.5 0 0.5-0.2 0.5 0 0.5 0.2 0.5 0.1 0.5 0 0.5-0.2 0.5-0.1 0.5 0.2 0.5 0.2 0.5 0.1 0.5-0.3 0.5-0.2 0.5-0.2 0.5 0.1 0.5 0.2 0.5 0 0.5-0.4 0.5 0 0.5 0.1 0.5 0.2 0.5-0.1 0.5 0.1 0.5 0 0.5 0.2 0.5 0.1 0.5 0.1 0.5 0 0.5-0.2 0.5-0.2 0.5 0 0.5 0 0.5 0 0.5 0.1 0.5-0.1 0.5-0.3 0.5 0 0.5 0.1 0.5 0.3 0.5-0.3 0.5 0.2 0.5 0 0.5 0.1 0.5-0.2 0.5-0.1 0.5-0.1 0.5 0 0.5-0.1 0.5 0.1 0.5 0.1 0.5 0.1 0.5-0.2 0.5-0.3 0.5 0.1 0.5-0.1 0.5 0.2 0.5 0 0.5-0.1 0.5 0.1 0.5-0.1 0.5 0 0.5-0.3 0.5 0.1 0.5 0.2 0.5 0 0.5-0.2 0.5 0 0.5-0.1 0.5 0.3 0.5-0.1 0.5 0 0.5-0.3 0.5 0 0.5 0.1 0.5 0 0.5 0 0.5 0.1 0.5-0.1 0.5-0.4 0.5-0.5 0.5-0.3 0.5 0 0.5-0.1 0.5-0.1 0.5 0 0.5-0.4 0.5-0.1 0.5 0 0.5 0.4 0.5 0.1 0.5-0.4 0.5 0 0.5-0.2 0.5-0.2 0.5-0.5 0.5-0.3 0.5-0.3 0.5 0 0.5-0.3 0.5-0.1 0.5-0.1 0.5 0.1 0.5-0.4 0.5-0.1 0.5 0 0.5 0 0.5 0 0.5-0.2 0.5 0 0.5-0.2 0.5-0.5 0.5-0.4 0.5-0.3 0.5-0.2 0.5-0.2 0.5-0.3 0.5-0.2 0.5-0.1 0.5 0 0.5-0.1 0.5-0.3 0.5-0.3 0.5-0.2 0.5-0.1 0.5-0.2 0.5-0.2 0.5-0.1 0.5-0.2 0.5-0.1 0.5-0.4 0.5-0.4 0.5-0.3 0.5-0.2 0.5-0.2 0.5-0.6 0.5-0.7 0.5-0.2 0.5 0 0.5 0.2 0.5-0.4 0.5-0.4 0.5-0.6 0.5-0.8 0.5-0.4 0.5-0.6 0.5-0.2 0.5-0.7 0.5-0.4 0.5-0.5 0.5-0.7 0.5-0.6 0.5-0.8 0.5-0.6 0.5-0.3 0.5-0.6 0.5-0.3 0.5-0.7 0.5-0.5 0.5-0.6 0.5-0.9 0.5-0.6 0.5-0.6 0.5-0.6 0.5-0.7 0.5-1 0.5-0.6 0.5-1 0.5-0.5 0.5-0.9 0.5-1 0.5-0.9 0.5-0.9 0.5-0.9 0.5-1.5 0.5-1.5 0.5-1.6 0.5-1.5 0.5-1.5 0.5-1.5 0.5-1.7 0.5-1.9 0.5-1.9 0.5-1.6 0.5-1.5 0.5-1.8 0.5-2.1 0.5-2 0.5-1.8 0.5-1.9 0.5-2.4 0.5-2.2 0.5-2.2 0.5-1.9 0.5-2.2 0.5-1.8 0.5-2 0.5-1.7 0.5-2.4 0.5-2.1 0.5-1.9 0.5-2.1 0.5-1.9 0.5-2.1 0.5-1.9 0.5-1.8 0.5-2.1 0.5-1.8 0.5-2.1 0.5-2 0.5-1.8 0.5-1.7 0.5-1.3 0.5-1.6 0.5-1.1 0.5-1 0.5-0.6 0.5-0.7 0.5-0.6 0.5-0.7 0.5-0.1 0.5-0.1 0.5 0.9 0.5 1.1 0.5 1.5 0.5 1.6 0.5 2.1 0.5 1.7 0.5 1.5 0.5 1.5 0.5 1.9 0.5 2.3 0.5 2 0.5 2 0.5 1.5 0.5 1.5 0.5 0.7 0.5 0.1 0.5-0.3 0.5-0.5 0.5-0.5 0.5-0.2 0.5 0 0.5-0.3 0.5-0.5 0.5-0.9 0.5-1.1 0.5-1.7 0.5-1.5 0.5-1.9 0.5-1.6 0.5-1.5 0.5-1.1 0.5-0.6 0.5-0.1 0.5 0.3 0.5 0.4 0.5 0.3 0.5 0.4 0.5 0.7 0.5 1.1 0.5 1.4 0.5 1 0.5 1 0.5 0.7 0.5 1.5 0.5 1.7 0.5 1.9 0.5 1.8 0.5 2 0.5 2.3 0.5 1.7 0.5 2.2 0.5 2.2 0.5 2.7 0.5 2.4 0.5 2.4 0.5 2.3 0.5 2.5 0.5 2.2 0.5 2.3 0.5 2.3 0.5 2.5 0.5 2.3 0.5 2 0.5 1.9 0.5 2.8 0.5 2.4 0.5 2.5 0.5 1.7 0.5 2 0.5 1.7 0.5 2 0.5 1.9 0.5 1.8 0.5 1.5 0.5 1.6 0.5 1.9 0.5 1.8 0.5 1.8 0.5 1.6 0.5 1.5 0.5 1.4 0.5 0.9 0.5 0.9 0.5 1 0.5 1.2 0.5 0.9 0.5 0.5 0.5 0.5 0.5 0.9 0.5 1 0.5 1 0.5 0.5 0.5 0.4 0.5 0.7 0.5 0.8 0.5 1.1 0.5 0.5 0.5 0.4 0.5 0.2 0.5 0.7 0.5 0.8 0.5 0.7 0.5 0.5 0.5 0.3 0.5 0.7 0.5 0.2 0.5 0.5 0.5 0.7 0.5 0.6 0.5 0.4 0.5-0.1 0.5 0.7 0.5 0.4 0.5 0.6 0.5-0.1 0.5-0.1 0.5 0 0.5-0.1 0.5 0.1 0.5 0 0.5 0 0.5 0.2 0.5-0.3 0.5 0 0.5-0.3 0.5-0.1 0.5-0.4 0.5 0.1 0.5-0.1 0.5 0.2 0.5-0.2 0.5-0.3 0.5-0.6 0.5-1.1 0.5-1 0.5-1.2 0.5-1.6 0.5-1.5 0.5-1.6 0.5-1.2 0.5-1.3 0.5-1 0.5-1.2 0.5-0.9 0.5-0.9 0.5-0.9 0.5-0.7 0.5-1.3 0.5-0.9 0.5-1.4 0.5-1 0.5-1.3 0.5-1.2 0.5-1.2 0.5-1.3 0.5-1.3 0.5-1.3 0.5-1.7 0.5-1.7 0.5-2.1 0.5-1.8 0.5-1.9 0.5-2.3 0.5-2.7 0.5-3.3 0.5-4 0.5-4.8 0.5-5.9 0.5-5.8 0.5-6.1 0.5-6.3 0.5-6.6 0.5-4.7 0.5-2 0.5-1.9 0.5-1.5 0.5-1 0.5-0.8 0.5 0.1 0.5 0.2 0.5 1 0.5 1.3 0.5 2 0.5 1.8 0.5 1.5 0.5 1.7 0.5 1.3 0.5 0.8 0.5 0.3 0.5 0.9 0.5 1.1 0.5 0.8 0.5 0.7 0.5 0.9 0.5 0.9 0.5 1.1 0.5 2 0.5 2.3 0.5 2.8 0.5 3 0.5 2.9 0.5 2.5 0.5 2 0.5 2.2 0.5 2.5 0.5 2.1 0.5 1.9 0.5 1.6 0.5 0.9 0.5-0.1 0.5-0.5 0.5-0.7 0.5-0.4 0.5-0.1 0.5-0.3 0.5-0.6 0.5-0.9 0.5-0.9 0.5-1.2 0.5-1.6 0.5-2 0.5-1.8 0.5-1.7 0.5-1.7 0.5-1.6 0.5-1.4 0.5-1.4 0.5-1.2 0.5-1.4 0.5-0.9 0.5-1.1 0.5-1.2 0.5-1.1 0.5-1.3 0.5-1.3 0.5-1.5 0.5-1.1 0.5-1.5 0.5-1.1 0.5-1.5 0.5-1.1 0.5-1.3 0.5-1.3 0.5-1 0.5-0.6 0.5-0.6 0.5-0.1 0.5-0.4 0.5 0.2 0.5-0.3 0.5-0.1 0.5-0.4 0.5-0.1 0.5-0.4 0.5-0.4 0.5-0.6 0.5-0.2 0.5-0.4 0.5-0.5 0.5-0.8 0.5-1 0.5-0.8 0.5-0.8 0.5-0.9 0.5-1.4 0.5-1.2 0.5-1 0.5-0.9 0.5-1 0.5-1.2 0.5-1.4 0.5-1.7 0.5-1.3 0.5-1.3 0.5-1.1 0.5-1.5 0.5-1.5 0.5-1.2 0.5-0.9 0.5-0.9 0.5-1.1 0.5-1.2 0.5-1 0.5-0.8 0.5-0.8 0.5-0.7 0.5-1.1 0.5-1.5 0.5-1.6 0.5-1.5 0.5-1.5 0.5-1.6 0.5-1.7 0.5-1.8 0.5-1.6 0.5-1.7 0.5-1.9 0.5-2 0.5-2 0.5-1.7 0.5-2 0.5-1.8 0.5-2.1 0.5-1.6 0.5-1.3 0.5-1.3 0.5-1.1 0.5-1.5 0.5-1 0.5-1 0.5-0.5 0.5-0.8 0.5-0.7 0.5-0.9 0.5-0.9 0.5-0.7 0.5-0.1 0.5-0.1 0.5-0.1 0.5 0.1 0.5 0.4 0.5 0.4 0.5 0.3 0.5 0.5 0.5 0.8 0.5 1 0.5 1 0.5 1.3 0.5 1.5 0.5 1.6 0.5 1.7 0.5 1.8 0.5 1.6 0.5 2 0.5 2 0.5 2.1 0.5 2 0.5 2 0.5 2 0.5 2 0.5 1.6 0.5 1.6 0.5 1.5 0.5 1.4 0.5 1.3 0.5 1.7 0.5 1.7 0.5 1.7 0.5 1.6 0.5 1.9 0.5 1.7 0.5 2.2 0.5 2.8 0.5 5.2 0.5 5 0.5 4.4 0.5 3.6 0.5 3.4 0.5 3.3 0.5 3.9 0.5 5 0.5 5.6 0.5 5.5 0.5 4.1 0.5 3.2 0.5 2.5 0.5 2.8 0.5 2.1 0.5 1.8 0.5 1.2 0.5 1.2 0.5 1.3 0.5 1.3 0.5 0.8 0.5 0 0.5-0.4 0.5-0.3 0.5-0.2 0.5-0.4 0.5-0.4 0.5-0.5 0.5-0.7 0.5-1 0.5-0.8 0.5-0.9 0.5-0.8 0.5-1 0.5-1.2 0.5-1.4 0.5-1.6 0.5-1.2 0.5-1.6 0.5-2.3 0.5-2.7 0.5-2.9 0.5-2.9 0.5-3.4 0.5-3.1 0.5-2.8 0.5-2.3 0.5-2.6 0.5-3 0.5-4 0.5-5.6 0.5-14.3 0.5-16.4 0.5-12.8 0.5-12 0.5-13 0.5-12.4 0.5-11.4 0.5-8.4 0.5-5.5 0.5-4.6 0.5-3.3 0.5-2.1 0.5-1.1 0.5-0.7 0.5-0.4 0.5 0.2 0.5 0.5 0.5 1.2 0.5 1.4 0.5 2.3 0.5 3.1 0.5 3.3 0.5 4.4 0.5 5.2 0.5 4.6 0.5 3.7 0.5 3.5 0.5 2.7 0.5 1.1 0.5-2.1 0.5-4.8 0.5-6.3 0.5-5.5 0.5-5.2 0.5-4.9 0.5-5.4 0.5-5 0.5-5.2 0.5-4.9 0.5-4.7 0.5-5.3 0.5-5.2 0.5-5.4 0.5-5.1 0.5-4.4 0.5-4.3 0.5-3.9 0.5-4.2 0.5-4 0.5-4 0.5-4.2 0.5-4.7 0.5-4.8 0.5-4.8 0.5-5.5 0.5-6.6 0.5-8.8 0.5-11.6 0.5-11 0.5-6.6 0.5-5.8 0.5-4.7 0.5-3.3 0.5-2.2 0.5-1.5 0.5-1.3 0.5-1.1 0.5-0.8 0.5-1.3 0.5-0.3 0.5 0.2 0.5 1.2 0.5 1.3 0.5 2.2 0.5 2.4 0.5 2.8 0.5 3.8 0.5 4.7 0.5 5.2 0.5 5.1 0.5 4.9 0.5 4 0.5 4.1 0.5 3.5 0.5 3.7 0.5 3.6 0.5 3.8 0.5 3.4 0.5 3.2 0.5 3.2 0.5 3.4 0.5 3.7 0.5 3.5 0.5 3.9 0.5 4.1 0.5 4.6 0.5 4.5 0.5 4.6 0.5 4.5 0.5 4.2 0.5 4.1 0.5 4.1 0.5 4.4 0.5 4 0.5 4.2 0.5 4.2 0.5 4.2 0.5 4.3 0.5 4.3 0.5 4.2 0.5 4.1 0.5 4.4 0.5 4.1 0.5 4 0.5 3.5 0.5 3.2 0.5 2.7 0.5 2.7 0.5 2.1 0.5 2.2 0.5 1.9 0.5 2 0.5 1.9 0.5 1.8 0.5 1.5 0.5 2 0.5 2 0.5 2.2 0.5 1.6 0.5 1.7 0.5 1.8 0.5 1.8 0.5 1.9 0.5 1.6 0.5 1.5 0.5 1.5 0.5 1.5 0.5 1.7 0.5 1.3 0.5 1.6 0.5 1.6 0.5 1.7 0.5 1.6 0.5 1.5 0.5 1.6 0.5 1.7 0.5 1.3 0.5 1.4 0.5 1.2 0.5 1.2 0.5 1.3 0.5 1.5 0.5 1.7 0.5 1.9 0.5 1.4 0.5 1.5 0.5 1.4 0.5 1.6 0.5 1.8 0.5 1.3 0.5 1.6 0.5 1.4 0.5 1.8 0.5 1.7 0.5 1.6 0.5 1.5 0.5 1.2 0.5 1.5 0.5 1.5 0.5 1.6 0.5 1.5 0.5 1.4 0.5 1.1 0.5 1.1 0.5 1.4 0.5 1.3 0.5 1.5 0.5 1.2 0.5 1.3 0.5 0.9 0.5 1.2 0.5 1.4 0.5 1.2 0.5 1.1 0.5 1 0.5 1.3 0.5 0.9 0.5 1.2 0.5 1.1 0.5 1.5 0.5 1.2 0.5 1 0.5 0.7 0.5 1.2 0.5 0.9 0.5 1.2 0.5 0.7 0.5 0.9 0.5 1.3 0.5 1.3 0.5 1.2 0.5 1.1 0.5 1.2 0.5 0.8 0.5 0.9 0.5 0.9 0.5 1.4 0.5 1 0.5 1.1 0.5 0.8 0.5 1.3 0.5 0.8 0.5 0.8 0.5 0.4 0.5 0.8 0.5 1.1 0.5 0.7 0.5 0.7 0.5 0.5 0.5 0.9 0.5 0.7 0.5 0.9 0.5 0.6 0.5 0.7 0.5 0.4 0.5 0.2 0.5 0.3 0.5 0.1 0.5 0.3 0.5 0.1 0.5-0.4 0.5-0.9 0.5-1.4 0.5-1 0.5-0.8 0.5-0.5 0.5-0.8 0.5-1 0.5-1 0.5-0.9 0.5-0.6 0.5-0.6 0.5 0.1 0.5 0.2 0.5 1.1 0.5 1.2 0.5 1.3 0.5 1.3 0.5 1.3 0.5 1.1 0.5 1.2 0.5 1.2 0.5 0.9 0.5 0.9 0.5 1 0.5 1.1 0.5 0.8 0.5 0.9 0.5 0.6 0.5 0.7 0.5 0.4 0.5 0.6 0.5 0.5 0.5 0.8 0.5 0.4 0.5 0.3 0.5 0.1 0.5 0.2 0.5-0.1 0.5 0.2 0.5 0 0.5 0.4 0.5 0.1 0.5 0 0.5 0.2 0.5 0.1 0.5 0.1 0.5-0.2 0.5 0.1 0.5-0.1 0.5 0.3 0.5-0.1 0.5-0.1 0.5 0.1 0.5 0.1 0.5 0.3 0.5-0.1 0.5 0.1 0.5-0.1 0.5-0.1 0.5-0.3 0.5 0 0.5 0 0.5 0.2 0.5 0.3 0.5 0.2 0.5 0 0.5-0.4 0.5 0.1 0.5 0.2 0.5 0.1 0.5 0 0.5-0.2 0.5 0.1 0.5 0 0.5-0.1 0.5 0 0.5 0 0.5 0.5 0.5 0.4 0.5 0.5 0.5 0.2 0.5 0.2 0.5 0.4 0.5 0.4 0.5 0.4 0.5 0.4 0.5 0.3 0.5 0.3 0.5 0.4 0.5 0.7 0.5 0.6 0.5 0.7 0.5 0.4 0.5 0.4 0.5 0.2 0.5 0.4 0.5 0.7 0.5 0.4 0.5 0.1 0.5 0 0.5 0.3 0.5 0.5 0.5 0.4 0.5 0.2 0.5 0.4 0.5 0.4 0.5 0.5 0.5 0.1 0.5-0.1 0.5-0.1 0.5 0.3 0.5 0.6 0.5 0 0.5 0.1 0.5 0.3 0.5 0.8 0.5 0.2 0.5 0.1 0.5 0.1 0.5 0.3 0.5 0.2 0.5 0.4 0.5 0.2 0.5-0.1 0.5-0.1 0.5 0.1 0.5 0.5 0.5 0.6 0.5 0.5 0.5 0.1 0.5-0.1 0.5 0.1 0.5 0.2 0.5 0.3 0.5 0.2 0.5-0.2 0.5-0.1 0.5 0.1 0.5 0.3 0.5 0.3 0.5 0 0.5 0.2 0.5 0.1 0.5 0.2 0.5 0.1 0.5-0.1 0.5-0.1 0.5 0.1 0.5 0.1 0.5-0.1 0.5-0.3 0.5 0.1 0.5 0.2 0.5 0.3 0.5-0.1 0.5 0.1 0.5-0.2 0.5 0 0.5-0.2 0.5 0.1 0.5 0.1 0.5 0.1 0.5-0.1 0.5-0.4 0.5 0 0.5 0.1 0.5 0.1 0.5-0.1 0.5-0.1 0.5 0 0.5 0.1 0.5 0.3 0.5 0 0.5 0 0.5-0.2 0.5 0 0.5-0.2 0.5 0.1 0.5 0.1 0.5 0.4 0.5-0.2 0.5-0.1 0.5-0.3 0.5 0.1 0.5-0.1 0.5 0.2 0.5 0 0.5 0 0.5-0.1 0.5 0.1 0.5-0.2 0.5 0 0.5-0.1 0.5 0.1 0.5-0.2 0.5-0.4 0.5-0.3 0.5-0.3 0.5-0.6 0.5-0.8 0.5-0.8 0.5-0.4 0.5-0.5 0.5-0.6 0.5-0.7 0.5-0.8 0.5-1.9 0.5-2.1 0.5-2.1 0.5-1.9 0.5-1.7 0.5-1.2 0.5-0.1 0.5 0.8 0.5 1.1 0.5 1.5 0.5 2 0.5 2.3 0.5 2.1 0.5 1.4 0.5 1 0.5 0.6 0.5 0.7 0.5 0.3 0.5 0.7 0.5 0.3 0.5 0.5 0.5 0.1 0.5 0.3 0.5 0.3 0.5 0.2 0.5 0.4 0.5-0.1 0.5-0.1 0.5-0.2 0.5 0 0.5-0.3 0.5 0.1 0.5-0.3 0.5 0.1 0.5-0.4 0.5 0.1 0.5-0.4 0.5 0 0.5-0.1 0.5-0.2 0.5-0.4 0.5-0.3 0.5-0.1 0.5-0.3 0.5-0.1 0.5-0.1 0.5-0.1 0.5-0.3 0.5-0.3 0.5-0.1 0.5-0.3 0.5-0.4 0.5 0 0.5 0 0.5-0.1 0.5-0.2 0.5-0.2 0.5 0 0.5-0.1 0.5 0.1 0.5-0.2 0.5 0.1 0.5 0 0.5 0.5 0.5 0.4 0.5 0.4 0.5 0.9 0.5 0.6 0.5 0.5 0.5 0.3 0.5 0.5 0.5 0 0.5 0.1 0.5 0.2 0.5 0.4 0.5 0.1 0.5-0.1 0.5 0.2 0.5-0.2 0.5-0.2 0.5-0.1 0.5 0.3 0.5 0.6 0.5 0.1 0.5-0.1 0.5-0.1 0.5 0.1 0.5 0.5 0.5-0.1 0.5-0.3 0.5-0.5 0.5-0.1 0.5 0.1 0.5 0 0.5 0.1 0.5 0.2 0.5 0.1 0.5 0.2 0.5 0.2 0.5 0.1 0.5 0 0.5-0.4 0.5-0.3 0.5-0.2 0.5 0.4 0.5 0.1 0.5 0.1 0.5 0 0.5 0.7 0.5 0.1 0.5-0.1 0.5-0.1 0.5 0 0.5 0 0.5 0.1 0.5-0.2 0.5 0.1 0.5-0.2 0.5 0.4 0.5-0.3 0.5-0.2 0.5-0.3 0.5 0.2 0.5 0.3 0.5 0.1 0.5 0.1 0.5 0.2 0.5 0.1 0.5-0.3 0.5 0.1 0.5-0.3 0.5 0.2 0.5-0.1 0.5 0.2 0.5 0.4 0.5 0.2 0.5 0.5 0.5-0.2 0.5-0.2 0.5-0.5 0.5 0 0.5-0.2 0.5 0.1 0.5 0 0.5-0.2 0.5-0.5 0.5 0 0.5 0.1 0.5 1 0.5 0 0.5-0.1 0.5-0.3 0.5 0 0.5-0.1 0.5-0.3 0.5-0.6 0.5 0 0.5 0.5 0.5-0.1 0.5-0.3 0.5-0.3 0.5 0.5 0.5 0.3 0.5-0.7 0.5-0.3 0.5 0 0.5 0.6 0.5 0.1 0.5-0.4 0.5-0.1 0.5-0.5 0.5-0.1 0.5-0.5 0.5 0.6 0.5 0.1 0.5 0.3 0.5-1.1 0.5 0.4 0.5 0.1 0.5 0.2 0.5-0.6 0.5 0.6 0.5 0.5 0.5 1.4 0.5-0.2 0.5 0 0.5 0.2 0.5 0.6 0.5 1.2 0.5-0.3 0.5-0.2 0.5 0.1 0.5 0 0.5-0.5 0.5 0 0.5 0.1 0.5 1 0.5-0.3 0.5 0 0.5-0.4 0.5-0.6 0.5 0.6 0.5-0.1 0.5 0.7 0.5 0.1 0.5 0.2 0.5 0.4 0.5-0.3 0.5 0.2 0.5-0.2 0.5 0.3 0.5-0.3 0.5 0 0.5-0.6 0.5 0.5 0.5-0.9 0.5 0.1 0.5-0.7 0.5 0.1 0.5-1 0.5-0.5 0.5-0.3 0.5-0.9 0.5-1.6 0.5-1.4 0.5-0.3 0.5 0.4 0.5 0.2 0.5 0.5 0.5-0.3 0.5-0.2 0.5-0.5 0.5-0.3 0.5-0.3 0.5 0.8 0.5 0.2 0.5-0.4 0.5-1.9 0.5 0.3 0.5 0.2 0.5 0.4 0.5 0.5 0.5 0.5 0.5-0.4 0.5-1.1 0.5-0.2 0.5 0.9 0.5-0.3 0.5 0.2 0.5 0.4 0.5 0 0.5-1.2 0.5-1.2 0.5 0.8 0.5 1.2 0.5 0.8 0.5-0.3 0.5-0.2 0.5 0.4 0.5 0 0.5-0.3 0.5 0 0.5 1.1 0.5 1 0.5 0.3 0.5-0.5 0.5 0.5 0.5-0.6 0.5 0.4 0.5-0.5 0.5 0.6 0.5-0.3 0.5 0.5 0.5 0 0.5 0.1 0.5-0.1 0.5-0.1 0.5 0 0.5-0.6 0.5 0.2 0.5-2.7 0.5-9.2 0.5-7.7 0.5-6.4 0.5-5.5 0.5-1.7 0.5-2.4 0.5-0.8 0.5-1.8 0.5 0.3 0.5-1.7 0.5-0.2 0.5-1.6 0.5 0.2 0 97.6-0.5-1.1-0.5-0.8-0.5-1.3-0.5-0.4-0.5-0.6-0.5-2.2-0.5-2-0.5-2-0.5-1.9-0.5-3-0.5-4-0.5-6-0.5-9.2-0.5-2.3-0.5 0.5-0.5 0.2-0.5-0.6-0.5 0.2-0.5 0.1-0.5 1-0.5-0.5-0.5-0.2-0.5 0-0.5 0.7-0.5 0-0.5-0.6-0.5-0.4-0.5 0.4-0.5-0.8-0.5 0-0.5-1-0.5 0.3-0.5-0.3-0.5-0.1-0.5 0.1-0.5-1-0.5-0.4-0.5-1.1-0.5 0.2-0.5-1.1-0.5-0.5-0.5-0.5-0.5 0.3-0.5 0.3-0.5-0.6-0.5 0.3-0.5-0.4-0.5 0.3-0.5 0.1-0.5 0.3-0.5 0.1-0.5 0.1-0.5 0.7-0.5-0.1-0.5 0.7-0.5 0.1-0.5 0.2-0.5-0.7-0.5-0.4-0.5 0.5-0.5-0.7-0.5-0.2-0.5 0-0.5 1.3-0.5 0.2-0.5 0.1-0.5 0.7-0.5 0.6-0.5 0.2-0.5-0.8-0.5 0.4-0.5 0.2-0.5 0.6-0.5 0.2-0.5 0.8-0.5 0.5-0.5 0.4-0.5 0.1-0.5 1.1-0.5 0.5-0.5 0.6-0.5-0.4-0.5 0.1-0.5-0.9-0.5-0.8-0.5-1-0.5 0.3-0.5 0.2-0.5 0.7-0.5 0.4-0.5 0-0.5 0-0.5-0.2-0.5 0.1-0.5 0.1-0.5-0.2-0.5 0-0.5-0.2-0.5 0.2-0.5-0.6-0.5-0.5-0.5-0.4-0.5-0.1-0.5-0.4-0.5-0.6-0.5-0.3-0.5-0.8-0.5-0.5-0.5-1-0.5 0.2-0.5-0.2-0.5 0.2-0.5-0.3-0.5-0.5-0.5 0.1-0.5 0.4-0.5 0.3-0.5 0.2-0.5 0.1-0.5 0.4-0.5 0.7-0.5 0-0.5-0.3-0.5-0.3-0.5 0.1-0.5 0.8-0.5-0.2-0.5 0-0.5-0.7-0.5 0.2-0.5 0.1-0.5 0.5-0.5 0.1-0.5 0.3-0.5-0.1-0.5 0.4-0.5-0.5-0.5 0-0.5 0-0.5 0.5-0.5 0.1-0.5-0.5-0.5 0.1-0.5 0.6-0.5 0.3-0.5-0.4-0.5-0.3-0.5-0.7-0.5 0.5-0.5-0.5-0.5 0.8-0.5-0.6-0.5 0.2-0.5 0-0.5 0.3-0.5 0.5-0.5-0.5-0.5 0-0.5-0.5-0.5 0.3-0.5 0-0.5 0.2-0.5 0.2-0.5-0.1-0.5 0-0.5 0-0.5 0.7-0.5-0.3-0.5-0.1-0.5 0.2-0.5 0.3-0.5 0.6-0.5-0.1-0.5 0.2-0.5 0-0.5 0.2-0.5-0.1-0.5-0.3-0.5 0-0.5 0.1-0.5 0.3-0.5-0.1-0.5 0.4-0.5-0.1-0.5 0-0.5 0-0.5 0-0.5-0.1-0.5 0.1-0.5 0-0.5 0.3-0.5 0-0.5-0.2-0.5-0.2-0.5 0.1-0.5 0.4-0.5-0.1-0.5-0.1-0.5-0.3-0.5 0.1-0.5 0-0.5 0.2-0.5 0.2-0.5-0.1-0.5-0.2-0.5-0.2-0.5-0.4-0.5-0.4-0.5-0.3-0.5 0.3-0.5-0.3-0.5-0.1-0.5-0.7-0.5-0.3-0.5-0.5-0.5 0.2-0.5-0.1-0.5-0.4-0.5-0.5-0.5-0.4-0.5 0-0.5-0.2-0.5-0.1-0.5-0.5-0.5-0.7-0.5-1-0.5-0.3-0.5-0.5-0.5-0.4-0.5-0.5-0.5-0.4-0.5-0.4-0.5-0.2-0.5-0.3-0.5 0.4-0.5 0-0.5 0.5-0.5 0-0.5 0.3-0.5 0.2-0.5 0.4-0.5 0.3-0.5 0.2-0.5 0.2-0.5-0.1-0.5 0.4-0.5 0.5-0.5 0.6-0.5 0-0.5-0.1-0.5 0.2-0.5 0.4-0.5 0.3-0.5 0.5-0.5 0.4-0.5 0.3-0.5 0.1-0.5 0-0.5 0-0.5 0.2-0.5 0-0.5 0.1-0.5-0.3-0.5 0-0.5 0-0.5 0-0.5-0.2-0.5-0.1-0.5-0.4-0.5-0.1-0.5-0.3-0.5 0-0.5-0.3-0.5-0.6-0.5-0.7-0.5-0.6-0.5-0.7-0.5-0.7-0.5-0.9-0.5-0.5-0.5-1.6-0.5-1.7-0.5-1.8-0.5-1-0.5 0.2-0.5 0.5-0.5 0.9-0.5 0.8-0.5 1.1-0.5 1-0.5 0.9-0.5 1.1-0.5 1.4-0.5 1.4-0.5 1.1-0.5 0.9-0.5 0.8-0.5 0.5-0.5 0.5-0.5 0.3-0.5 0.5-0.5-0.1-0.5 0.1-0.5-0.1-0.5 0.5-0.5-0.1-0.5 0.3-0.5-0.1-0.5 0.4-0.5 0.1-0.5 0.2-0.5 0.2-0.5 0.2-0.5 0.5-0.5-0.3-0.5 0-0.5-0.4-0.5 0.1-0.5 0.1-0.5 0.2-0.5 0.1-0.5 0-0.5 0-0.5 0-0.5-0.4-0.5-0.1-0.5 0.1-0.5 0.2-0.5-0.2-0.5-0.2-0.5-0.2-0.5 0.2-0.5 0.1-0.5-0.1-0.5-0.3-0.5 0.1-0.5-0.1-0.5-0.2-0.5-0.3-0.5 0-0.5-0.1-0.5-0.2-0.5 0-0.5 0.3-0.5-0.1-0.5-0.3-0.5-0.3-0.5 0-0.5-0.2-0.5 0-0.5-0.3-0.5-0.1-0.5-0.2-0.5 0.2-0.5 0.1-0.5-0.1-0.5-0.4-0.5-0.5-0.5-0.2-0.5 0-0.5 0.1-0.5 0.1-0.5-0.1-0.5-0.2-0.5-0.3-0.5-0.1-0.5-0.3-0.5-0.1-0.5 0-0.5-0.1-0.5-0.3-0.5-0.3-0.5 0.1-0.5-0.1-0.5-0.3-0.5-0.5-0.5-0.5-0.5-0.1-0.5-0.1-0.5 0-0.5-0.2-0.5-0.2-0.5 0-0.5-0.1-0.5 0-0.5 0-0.5-0.1-0.5-0.3-0.5-0.2-0.5-0.4-0.5-0.4-0.5-0.3-0.5-0.1-0.5 0.1-0.5-0.5-0.5 0-0.5-0.2-0.5 0.4-0.5-0.3-0.5-0.2-0.5-0.2-0.5-0.1-0.5 0.1-0.5-0.1-0.5-0.4-0.5-0.5-0.5-0.4-0.5-0.1-0.5-0.2-0.5-0.2-0.5-0.2-0.5 0-0.5 0.1-0.5-0.1-0.5-0.3-0.5-0.3-0.5-0.2-0.5 0-0.5 0.1-0.5 0-0.5-0.1-0.5-0.4-0.5-0.4-0.5-0.2-0.5 0-0.5 0.3-0.5-0.2-0.5-0.1-0.5-0.4-0.5 0.3-0.5 0.1-0.5 0.1-0.5-0.2-0.5 0.2-0.5-0.1-0.5-0.2-0.5-0.5-0.5-0.2-0.5 0.2-0.5 0.2-0.5-0.1-0.5-0.1-0.5-0.1-0.5 0-0.5-0.1-0.5-0.2-0.5 0.1-0.5-0.2-0.5 0.4-0.5-0.3-0.5 0.2-0.5-0.3-0.5-0.1-0.5-0.3-0.5 0.3-0.5 0-0.5 0.1-0.5-0.4-0.5 0-0.5-0.1-0.5 0-0.5-0.2-0.5 0-0.5-0.2-0.5-0.2-0.5-0.2-0.5-0.4-0.5-0.5-0.5-0.6-0.5-0.4-0.5-0.1-0.5-0.2-0.5-0.2-0.5-0.6-0.5-0.4-0.5-0.6-0.5-0.4-0.5-0.6-0.5-0.4-0.5-0.5-0.5-0.6-0.5-1-0.5-1.1-0.5-1.2-0.5-1-0.5-0.7-0.5-0.8-0.5-0.7-0.5-0.5-0.5 0.2-0.5 0.7-0.5 1-0.5 1.2-0.5 0.7-0.5 0.4-0.5-0.1-0.5 0.2-0.5-0.2-0.5 0-0.5 0-0.5-0.1-0.5 0.2-0.5 0-0.5 0.5-0.5-0.2-0.5 0.2-0.5-0.3-0.5 0.2-0.5-0.3-0.5 0.2-0.5 0-0.5-0.1-0.5-0.5-0.5 0.2-0.5-0.1-0.5 0.2-0.5 0.1-0.5-0.1-0.5-0.1-0.5-0.2-0.5 0.1-0.5-0.2-0.5 0.1-0.5-0.6-0.5-0.3-0.5-0.5-0.5 0.2-0.5-0.2-0.5-0.4-0.5-0.3-0.5-0.5-0.5-0.2-0.5-0.7-0.5-0.5-0.5-0.6-0.5-0.2-0.5-0.1-0.5-0.3-0.5-0.2-0.5-0.5-0.5-0.4-0.5-0.3-0.5-0.5-0.5-0.4-0.5-0.4-0.5-0.3-0.5 0-0.5-0.4-0.5-0.4-0.5-0.6-0.5-0.2-0.5-0.4-0.5-0.4-0.5-0.3-0.5-0.4-0.5-0.4-0.5-0.6-0.5-0.1-0.5-0.4-0.5-0.6-0.5-0.7-0.5-0.8-0.5-0.6-0.5-0.7-0.5-0.5-0.5-0.5-0.5-0.6-0.5-0.8-0.5-0.7-0.5-0.8-0.5-0.9-0.5-1.3-0.5-0.8-0.5-1-0.5-0.8-0.5-1.3-0.5-1.1-0.5-1.3-0.5-1-0.5-1.1-0.5-1.1-0.5-1-0.5-0.9-0.5-1-0.5-1.2-0.5-1.1-0.5-0.8-0.5-0.7-0.5-0.5-0.5-0.7-0.5-0.7-0.5-1-0.5-0.8-0.5-0.5-0.5-0.5-0.5-1-0.5-0.7-0.5-0.4-0.5-0.3-0.5-0.6-0.5-1-0.5-0.4-0.5-0.9-0.5-0.5-0.5-1-0.5-0.9-0.5-0.9-0.5-1.1-0.5-0.7-0.5-0.7-0.5-0.6-0.5-0.5-0.5-0.9-0.5-0.9-0.5-1-0.5-0.5-0.5-0.8-0.5-1-0.5-1.4-0.5-1.1-0.5-1.1-0.5-1.2-0.5-1.3-0.5-2.1-0.5-2.4-0.5-2.6-0.5-2.7-0.5-2.8-0.5-3-0.5-3-0.5-3.4-0.5-3.6-0.5-3.7-0.5-3.8-0.5-3.5-0.5-3.9-0.5-3.6-0.5-4.2-0.5-4-0.5-3.6-0.5-3.7-0.5-4.1-0.5-4.1-0.5-4-0.5-3.4-0.5-2.6-0.5-1.6-0.5-1.2-0.5-1.3-0.5-0.8-0.5-1.2-0.5-0.5-0.5-0.8-0.5-0.2-0.5-0.5-0.5 1-0.5 1.8-0.5 2.5-0.5 2.5-0.5 3.1-0.5 5.2-0.5 5.5-0.5 6.8-0.5 7-0.5 8-0.5 10.1-0.5 12.3-0.5 10.5-0.5 5.5-0.5 4.1-0.5 3.3-0.5 2.6-0.5 2.5-0.5 2.5-0.5 3.1-0.5 3.2-0.5 3.1-0.5 2.6-0.5 2.7-0.5 2.9-0.5 3.5-0.5 3.3-0.5 3.5-0.5 3.7-0.5 4.5-0.5 5.4-0.5 5.3-0.5 4.8-0.5 4-0.5 3.6-0.5 3.9-0.5 3.5-0.5 3.5-0.5 2.6-0.5 2.5-0.5 1.8-0.5 2.1-0.5 2-0.5 1.9-0.5 1.5-0.5 1.1-0.5 0.7-0.5 0.2-0.5-0.1-0.5-0.1-0.5-0.3-0.5-0.6-0.5-0.6-0.5-1.3-0.5-3.3-0.5-4-0.5-2.7-0.5-2.8-0.5-2.2-0.5-1.8-0.5-0.6-0.5 0.4-0.5 1.9-0.5 3-0.5 3.2-0.5 2.9-0.5 3-0.5 3.4-0.5 3.8-0.5 3.6-0.5 3.4-0.5 2.7-0.5 2.5-0.5 2.2-0.5 2.4-0.5 2.3-0.5 2-0.5 1.8-0.5 1.7-0.5 1.6-0.5 1.4-0.5 1.4-0.5 1.3-0.5 1.5-0.5 0.9-0.5 0.9-0.5 1.2-0.5 1.1-0.5 1.2-0.5 0.6-0.5 0.7-0.5 0.6-0.5 0.5-0.5 0.3-0.5 0.4-0.5 0.5-0.5 0.4-0.5 0.2-0.5-0.1-0.5 0.1-0.5 0.2-0.5 0.5-0.5 0-0.5-0.1-0.5-0.3-0.5 0-0.5 0.1-0.5 0-0.5-0.4-0.5-0.2-0.5-0.8-0.5-0.5-0.5-1.1-0.5-0.8-0.5-1.3-0.5-0.9-0.5-1.2-0.5-1.4-0.5-1-0.5-1.6-0.5-1.4-0.5-1.8-0.5-1.3-0.5-1.3-0.5-1.5-0.5-1.5-0.5-1.5-0.5-1.6-0.5-1.8-0.5-2.3-0.5-2.4-0.5-2.9-0.5-2.8-0.5-2.9-0.5-2.7-0.5-3.4-0.5-3.3-0.5-3-0.5-2-0.5-0.8-0.5-0.7-0.5-0.3-0.5-0.4-0.5-0.1-0.5-0.4-0.5-0.3-0.5-0.5-0.5-0.4-0.5-0.3-0.5-0.2-0.5-0.5-0.5-1-0.5-0.8-0.5-0.6-0.5-0.2-0.5-0.8-0.5-0.6-0.5-0.5-0.5-0.5-0.5-0.3-0.5-0.4-0.5 0.2-0.5 0.6-0.5 1.1-0.5 0.8-0.5 0.8-0.5 1.1-0.5 1.8-0.5 1.5-0.5 1.3-0.5 1.2-0.5 1.3-0.5 1.6-0.5 1.7-0.5 1.7-0.5 1.9-0.5 1.8-0.5 2.2-0.5 1.8-0.5 1.5-0.5 2-0.5 1.8-0.5 2.1-0.5 1.3-0.5 1.6-0.5 1.5-0.5 1.9-0.5 1.1-0.5 1.1-0.5 1.1-0.5 1-0.5 0.9-0.5 0.6-0.5 0.7-0.5 0.6-0.5 0.5-0.5 0.2-0.5 0.2-0.5-0.2-0.5 0.3-0.5 0.1-0.5 0.3-0.5 0-0.5-0.1-0.5 0.2-0.5-0.3-0.5 0.2-0.5 0-0.5 0.2-0.5-0.1-0.5-0.1-0.5 0-0.5-0.1-0.5 0.1-0.5 0.2-0.5 0.1-0.5-0.2-0.5-0.2-0.5 0.1-0.5 0.1-0.5 0.4-0.5-0.1-0.5 0.3-0.5-0.2-0.5-0.3-0.5-0.4-0.5-0.3-0.5 0.3-0.5 0-0.5-0.2-0.5-0.3-0.5 0.1-0.5 0-0.5-0.4-0.5-0.2-0.5-0.2-0.5 0.1-0.5-0.1-0.5-0.3-0.5-0.2-0.5 0-0.5-0.1-0.5 0.1-0.5 0-0.5 0.3-0.5-0.1-0.5 0-0.5-0.3-0.5 0-0.5 0-0.5 0.3-0.5 0.2-0.5-0.4-0.5-0.3-0.5-0.1-0.5 0.2-0.5 0-0.5-0.4-0.5 0.1-0.5 0-0.5 0.1-0.5-0.1-0.5-0.4-0.5-0.4-0.5 0-0.5 0.2-0.5-0.1-0.5-0.7-0.5-0.7-0.5-0.1-0.5 0-0.5 0-0.5-0.7-0.5-0.8-0.5-0.9-0.5-0.6-0.5-0.3-0.5-0.7-0.5-1-0.5-1.2-0.5-1.4-0.5-1.3-0.5-1.5-0.5-1.2-0.5-1.4-0.5-1.3-0.5-1.6-0.5-1.4-0.5-1.8-0.5-1.6-0.5-1.7-0.5-2-0.5-1.7-0.5-1.5-0.5-0.9-0.5-1.1-0.5-1.4-0.5-1.3-0.5-1.4-0.5-0.9-0.5-1-0.5-0.7-0.5-0.5-0.5-0.4-0.5-0.1-0.5 1.6-0.5 4.6-0.5 4.5-0.5 2.5-0.5 1.8-0.5 2-0.5 1.4-0.5 1.1-0.5 0.6-0.5 0.8-0.5 0.1-0.5 0.2-0.5 0-0.5 0.4-0.5 0.4-0.5 0.4-0.5 0.4-0.5 0.2-0.5-0.1-0.5 0.1-0.5 0-0.5 0.1-0.5 0-0.5 0.4-0.5 0.4-0.5 0.4-0.5 0.3-0.5 0.3-0.5 0.4-0.5 0.4-0.5 0.3-0.5 0.6-0.5 0.6-0.5 1-0.5 0.7-0.5 0.6-0.5 0.5-0.5 0.8-0.5 0.6-0.5 1.1-0.5 0.6-0.5 0.7-0.5 0.5-0.5 0.6-0.5 0.4-0.5 0-0.5 0.3-0.5 0.4-0.5 0.4-0.5 0.1-0.5 0.1-0.5 0.2-0.5-0.1-0.5 0.3-0.5-0.1-0.5 0.1-0.5 0-0.5 0.2-0.5 0.2-0.5-0.1-0.5 0.1-0.5 0.2-0.5 0.3-0.5 0.1-0.5-0.3-0.5-0.5-0.5-0.5-0.5-0.3-0.5-0.1-0.5-0.6-0.5-0.4-0.5-0.4-0.5-0.1-0.5-0.5-0.5-0.8-0.5-1-0.5-0.7-0.5-0.5-0.5-0.5-0.5-0.3-0.5-0.6-0.5-0.5-0.5-0.9-0.5-0.9-0.5-0.5-0.5-1.2-0.5-1.1-0.5-1.4-0.5-0.6-0.5-0.8-0.5-1.3-0.5-1.2-0.5-0.9-0.5-0.9-0.5-1.1-0.5-1.4-0.5-1.2-0.5-1.3-0.5-1-0.5-1.3-0.5-1-0.5-1.2-0.5-1-0.5-1.4-0.5-1.2-0.5-1.6-0.5-1.1-0.5-1.6-0.5-1.1-0.5-1.6-0.5-1.4-0.5-1.3-0.5-1.8-0.5-1.8-0.5-2.2-0.5-1.8-0.5-1.6-0.5-2.2-0.5-2.1-0.5-2.6-0.5-1.9-0.5-2.4-0.5-2.3-0.5-2.4-0.5-2.5-0.5-2.7-0.5-2.7-0.5-2.9-0.5-2.9-0.5-3.3-0.5-3.2-0.5-2.9-0.5-2.7-0.5-2.2-0.5-2.2-0.5-2.2-0.5-2-0.5-1.6-0.5-0.9-0.5 0.5-0.5 1.1-0.5 1.5-0.5 1.5-0.5 1.7-0.5 1.6-0.5 2.3-0.5 2.2-0.5 2.6-0.5 1.9-0.5 2.6-0.5 2.3-0.5 2.9-0.5 2.2-0.5 2.2-0.5 0.9-0.5 0.2-0.5-0.2-0.5-0.2-0.5-0.2-0.5-0.3-0.5-0.3-0.5 0-0.5 0.2-0.5 0-0.5 0.1-0.5-0.2-0.5-0.7-0.5-1.2-0.5-1.3-0.5-1.1-0.5-1.1-0.5-0.9-0.5-0.5-0.5 0.2-0.5 1.2-0.5 2-0.5 2.2-0.5 2.3-0.5 1.9-0.5 2.3-0.5 2.1-0.5 2.3-0.5 2.4-0.5 2.5-0.5 2.4-0.5 1.8-0.5 1.6-0.5 1.7-0.5 1.9-0.5 1.9-0.5 1.6-0.5 1.6-0.5 1.9-0.5 1.3-0.5 1.4-0.5 1.1-0.5 1.2-0.5 1.3-0.5 1.2-0.5 1.7-0.5 1.2-0.5 1-0.5 1-0.5 1-0.5 1.1-0.5 1-0.5 0.9-0.5 1-0.5 0.7-0.5 0.9-0.5 0.8-0.5 0.5-0.5 0.5-0.5 0.7-0.5 0.9-0.5 0.9-0.5 0.4-0.5 0.5-0.5 0.6-0.5 0.5-0.5 0.4-0.5 0.5-0.5 0.4-0.5 0.5-0.5 0.2-0.5 0.5-0.5 0.4-0.5 0.6-0.5 0.3-0.5 0-0.5 0.2-0.5 0.2-0.5 0.6-0.5 0.7-0.5 0.4-0.5 0.3-0.5-0.3-0.5 0.3-0.5 0.1-0.5 0.4-0.5 0-0.5 0.5-0.5 0.1-0.5 0.1-0.5 0.2-0.5 0.1-0.5 0.2-0.5-0.3-0.5-0.2-0.5 0.2-0.5-0.2-0.5 0.2-0.5 0-0.5 0.1-0.5 0.2-0.5 0.2-0.5 0.3-0.5 0.1-0.5 0-0.5-0.2-0.5-0.2-0.5-0.2-0.5 0.2-0.5 0.4-0.5 0.1-0.5 0.1-0.5-0.3-0.5 0-0.5 0-0.5 0-0.5 0.1-0.5 0.2-0.5 0.4-0.5 0-0.5-0.1-0.5-0.3-0.5 0.3-0.5 0-0.5 0.3-0.5-0.1-0.5-0.2-0.5 0.3-0.5 0-0.5 0.3-0.5 0.1-0.5 0-0.5-0.2-0.5 0-0.5 0.2-0.5 0-0.5-0.1-0.5-0.2-0.5 0.3-0.5 0.1-0.5-0.1-0.5 0.3-0.5-0.2-0.5-0.1-0.5 0-0.5 0.3-0.5 0.4-0.5-0.2-0.5 0.1-0.5-0.2-0.5 0.1-0.5 0-0.5 0.2-0.5 0.1-0.5 0-0.5 0.2-0.5 0-0.5 0-0.5-0.2-0.5 0-0.5 0.1-0.5 0-0.5 0-0.5-0.4-0.5 0.2-0.5 0-0.5 0.3-0.5 0-0.5 0.1-0.5-0.1-0.5-0.1-0.5 0-0.5 0.2-0.5 0.3-0.5 0.2-0.5-0.1-0.5-0.2-0.5-0.1-0.5 0.1-0.5 0.1-0.5-0.1-0.5-0.1-0.5-0.1-0.5 0.5-0.5 0.1-0.5 0-0.5-0.3-0.5 0-0.5-0.1-0.5 0.1-0.5 0-0.5-0.1-0.5 0-0.5 0.2-0.5-0.3-0.5-0.1-0.5-0.1-0.5 0.1-0.5 0-0.5 0.1-0.5 0.4-0.5 0.1-0.5-0.3-0.5-0.2-0.5-0.1-0.5 0.1-0.5 0.1-0.5 0.1-0.5 0.1-0.5-0.1-0.5-0.3-0.5 0.1-0.5-0.1-0.5 0.1-0.5-0.4-0.5 0.4-0.5 0.3-0.5 0-0.5 0.1-0.5-0.2-0.5 0.1-0.5 0.1-0.5 0.1-0.5 0.1-0.5-0.1-0.5 0-0.5 0-0.5-0.4-0.5 0.1-0.5-0.3-0.5 0.1-0.5-0.1-0.5 0.2-0.5 0.1-0.5 0.2-0.5 0-0.5 0.2-0.5-0.1-0.5-0.1-0.5 0.1-0.5-0.1-0.5 0.1-0.5 0-0.5 0.2-0.5-0.3-0.5-0.4-0.5-0.2-0.5 0-0.5 0.2-0.5 0-0.5 0.2-0.5-0.1-0.5 0.3-0.5-0.1-0.5 0.3-0.5 0-0.5 0.1-0.5-0.4-0.5 0.1-0.5 0.2-0.5 0.3-0.5 0-0.5-0.2-0.5 0.2-0.5 0-0.5 0.1-0.5-0.1-0.5 0.1-0.5-0.2-0.5-0.4-0.5 0.2-0.5 0.2-0.5 0.3-0.5-0.1-0.5 0.3-0.5 0.1-0.5 0.1-0.5-0.1-0.5-0.1-0.5 0.1-0.5-0.1-0.5-0.3-0.5 0.1-0.5 0.1-0.5 0.4-0.5-0.1-0.5 0-0.5 0.2-0.5 0-0.5-0.2-0.5-0.4-0.5 0-0.5 0.4-0.5 0.2-0.5 0-0.5 0-0.5 0.1-0.5 0.3-0.5 0-0.5-0.2-0.5-0.4-0.5 0-0.5-0.1-0.5 0.2-0.5-0.1-0.5 0-0.5 0.2-0.5 0.1-0.5 0.3-0.5-0.1-0.5 0.2-0.5-0.1-0.5 0-0.5-0.3-0.5-0.1-0.5-0.1-0.5 0.2-0.5-0.1-0.5 0.5-0.5-0.2-0.5 0-0.5-0.3-0.5-0.1-0.5 0.1-0.5 0-0.5 0-0.5 0.1-0.5 0-0.5 0.2-0.5-0.1-0.5 0-0.5-0.1-0.5 0.3-0.5-0.1-0.5 0.2-0.5-0.1-0.5-0.2-0.5-0.3-0.5 0.1-0.5 0-0.5 0.3-0.5 0.1-0.5 0-0.5 0-0.5 0.1-0.5-0.2-0.5-0.1-0.5 0.1-0.5 0.2-0.5 0.2-0.5-0.1-0.5 0.1-0.5 0-0.5-0.1-0.5 0-0.5-0.2-0.5 0.2-0.5 0-0.5 0-0.5-0.3-0.5-0.1-0.5 0.4-0.5 0.1-0.5-0.1-0.5-0.3-0.5 0.2-0.5 0.1-0.5 0.1-0.5-0.1-0.5 0-0.5 0.2-0.5 0.1-0.5-0.1-0.5 0-0.5-0.2-0.5 0.3-0.5-0.2-0.5 0-0.5 0-0.5 0.1-0.5 0.1-0.5-0.1-0.5 0.2-0.5 0.1-0.5 0.1-0.5-0.1-0.5 0-0.5 0-0.5 0-0.5-0.1-0.5-0.3-0.5 0-0.5 0.1-0.5 0.4-0.5-0.1-0.5 0.1-0.5-0.2-0.5-0.1-0.5-0.2-0.5 0.1-0.5 0.6-0.5-0.1-0.5 0-0.5-0.3-0.5 0.2-0.5-0.1-0.5 0.3-0.5 0-0.5 0-0.5 0.3-0.5 0-0.5 0.1-0.5-0.2-0.5 0.2-0.5 0.3-0.5-0.5-0.5-0.1-0.5-0.3-0.5 0.5-0.5-0.1-0.5 0-0.5-0.2-0.5 0.2-0.5 0.1-0.5 0.2-0.5 0-0.5-0.1-0.5-0.1-0.5 0.1-0.5 0-0.5 0-0.5-0.1-0.5 0.3-0.5 0-0.5 0.1-0.5-0.3-0.5 0.2-0.5 0.3-0.5 0.3-0.5-0.1-0.5-0.1-0.5 0-0.5 0-0.5 0-0.5-0.2-0.5-0.1-0.5 0.2-0.5 0.3-0.5 0.3-0.5 0-0.5-0.1-0.5 0-0.5-0.1-0.5-0.1-0.5 0.1-0.5-0.1-0.5 0.3-0.5 0.2-0.5 0.2-0.5 0-0.5 0.1-0.5 0.1-0.5 0.2-0.5-0.3-0.5-0.3-0.5-0.1-0.5 0.3-0.5 0.2-0.5 0-0.5 0.1-0.5 0.2-0.5 0.3-0.5 0.1z" fill="#000" stroke="#000" stroke-width="0.6" stroke-linejoin="round"/>
<rect x="185.9" y="782.2" width="793.65" height="591.8" fill="none" stroke="#000" stroke-width="3.2"/>
<line x1="185.9" y1="1320.2" x2="203.5" y2="1320.2" stroke="#000" stroke-width="2.8"/>
<line x1="185.9" y1="1231.3" x2="203.5" y2="1231.3" stroke="#000" stroke-width="2.8"/>
<line x1="185.9" y1="1141.6" x2="203.5" y2="1141.6" stroke="#000" stroke-width="2.8"/>
<line x1="185.9" y1="1050.8" x2="203.5" y2="1050.8" stroke="#000" stroke-width="2.8"/>
<line x1="185.9" y1="960.6" x2="203.5" y2="960.6" stroke="#000" stroke-width="2.8"/>
<line x1="185.9" y1="871.9" x2="203.5" y2="871.9" stroke="#000" stroke-width="2.8"/>
<line x1="345.1" y1="1374.0" x2="345.1" y2="1356.8" stroke="#000" stroke-width="2.8"/>
<line x1="504.0" y1="1374.0" x2="504.0" y2="1356.8" stroke="#000" stroke-width="2.8"/>
<line x1="661.3" y1="1374.0" x2="661.3" y2="1356.8" stroke="#000" stroke-width="2.8"/>
<line x1="819.9" y1="1374.0" x2="819.9" y2="1356.8" stroke="#000" stroke-width="2.8"/>
<text transform="translate(125.90,1330.86) scale(0.9369,1)" font-size="38.70">0.0</text>
<text transform="translate(125.90,1241.91) scale(0.8533,1)" font-size="38.70">0.1</text>
<text transform="translate(125.90,1152.21) scale(0.9369,1)" font-size="38.70">0.2</text>
<text transform="translate(125.90,1061.41) scale(0.9369,1)" font-size="38.70">0.3</text>
<text transform="translate(125.90,971.21) scale(0.9369,1)" font-size="38.70">0.4</text>
<text transform="translate(125.90,882.46) scale(0.9369,1)" font-size="38.70">0.5</text>
<text transform="translate(125.90,793.61) scale(0.9369,1)" font-size="38.70">0.6</text>
<text transform="translate(144.40,1416.51) scale(0.9338,1)" font-size="38.84">2000</text>
<text transform="translate(303.08,1416.51) scale(0.9338,1)" font-size="38.84">1800</text>
<text transform="translate(461.76,1416.51) scale(0.9338,1)" font-size="38.84">1600</text>
<text transform="translate(620.44,1416.51) scale(0.9338,1)" font-size="38.84">1400</text>
<text transform="translate(779.12,1416.51) scale(0.9338,1)" font-size="38.84">1200</text>
<text transform="translate(937.80,1416.51) scale(0.9338,1)" font-size="38.84">1000</text>
<text transform="translate(226.80,844.72) scale(0.9783,1)" font-size="40.99">(b)</text>
<text transform="translate(407.9,1481.3) scale(1.005,1)" font-size="40">Wavenumber / cm</text>
<text x="731.5" y="1456.2" font-size="24">-1</text>
<text transform="translate(48.4,1076.3) rotate(-90) scale(1.02,1)" text-anchor="middle" font-size="38.6">Absorbance</text>
<polygon fill="#000" points="650.6,1253.3 668.1,1253.3 668.1,1315.8 679,1315.8 659.5,1336.1 639.6,1315.8 650.6,1315.8"/>
</g>
</svg>
</body></html>
